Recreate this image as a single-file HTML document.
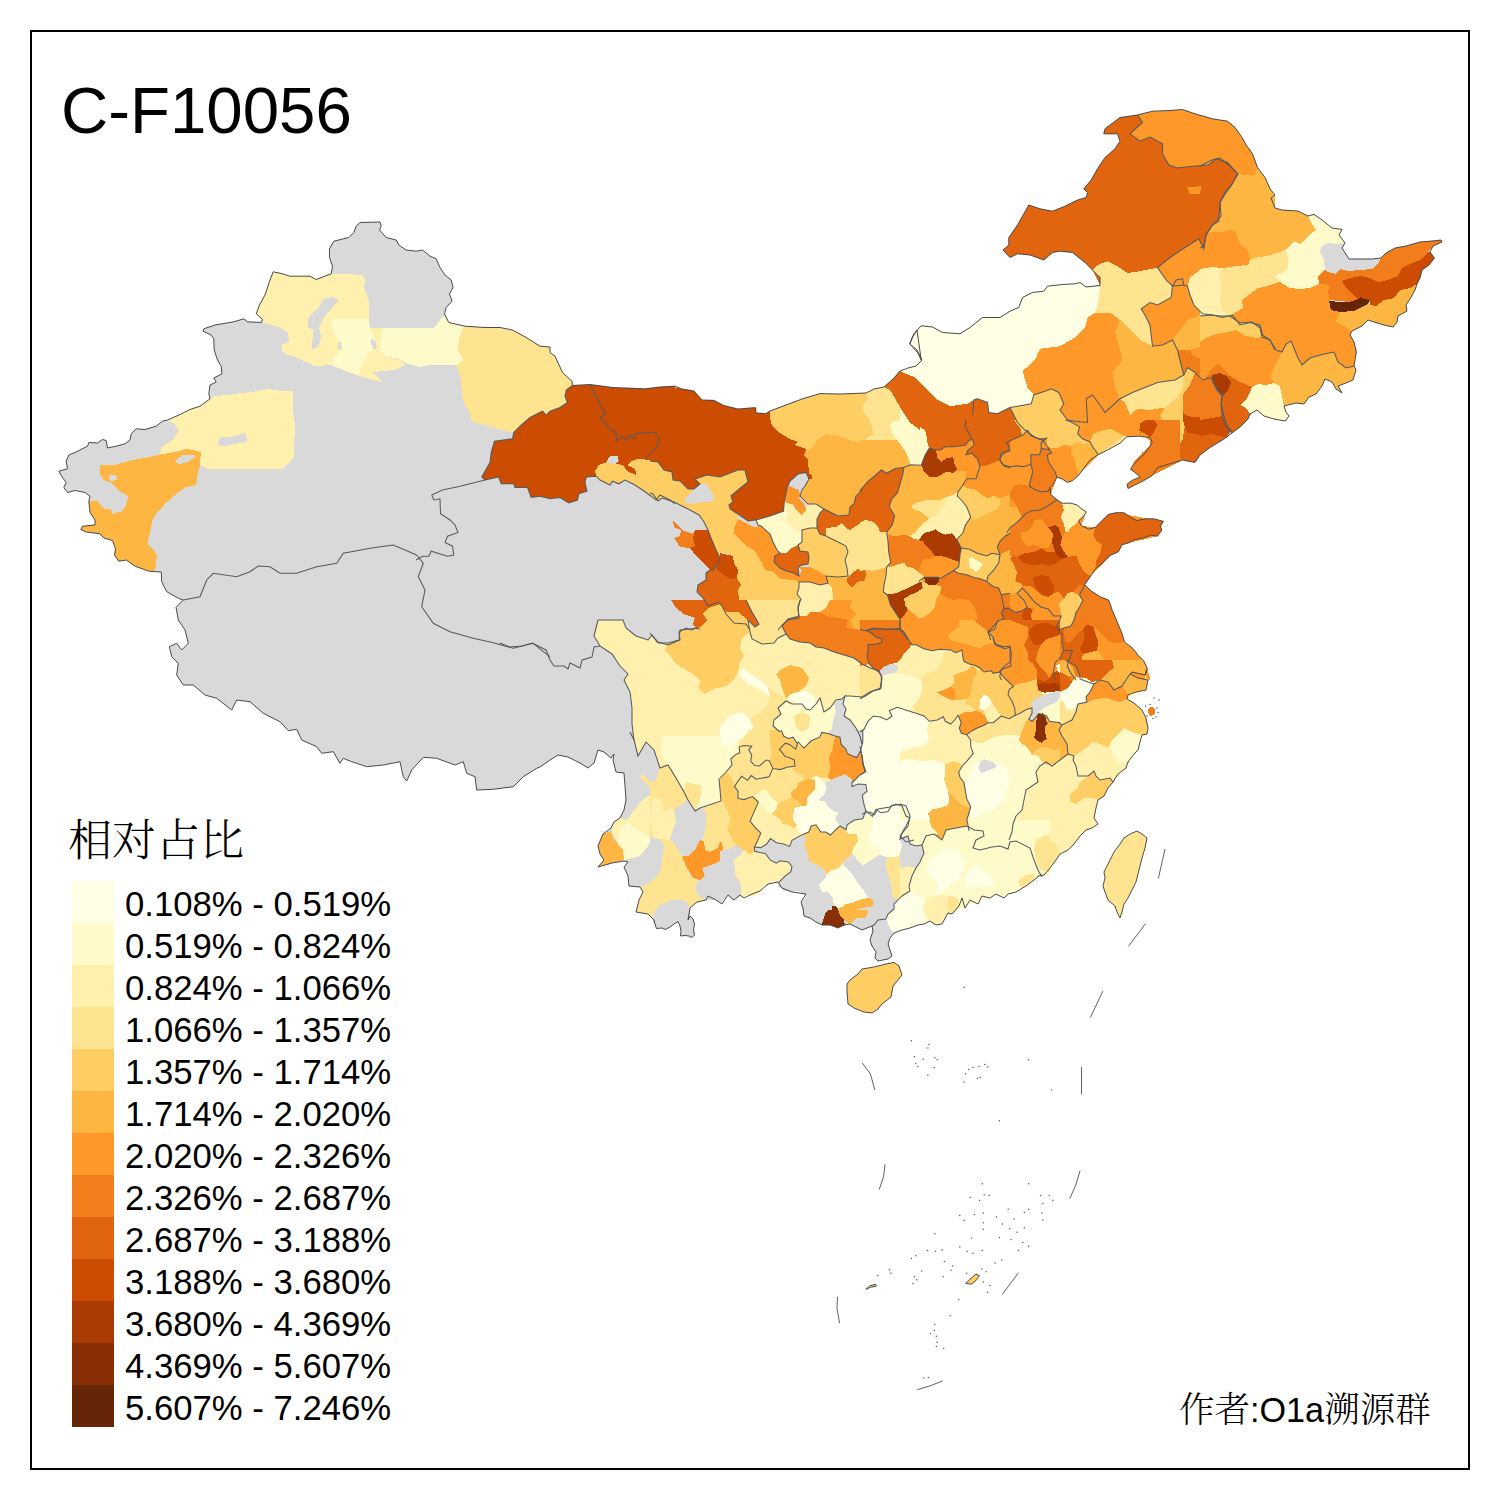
<!DOCTYPE html>
<html lang="zh-CN"><head><meta charset="utf-8"><title>C-F10056</title>
<style>
html,body{margin:0;padding:0;background:#fff;}
body{width:1500px;height:1500px;position:relative;overflow:hidden;font-family:"Liberation Sans","Noto Sans CJK SC",sans-serif;color:#000;}
#frame{position:absolute;left:30px;top:30px;width:1436px;height:1436px;border:2px solid #000;}
#title{position:absolute;left:61px;top:72.5px;font-size:65.4px;line-height:76px;white-space:nowrap;}
#lt{position:absolute;left:68px;top:812px;font-family:"Liberation Serif","Noto Serif CJK SC",serif;font-size:44px;line-height:60px;white-space:nowrap;font-weight:300;}
.sw{position:absolute;left:72px;width:42px;height:42px;}
.lb{position:absolute;left:125px;font-size:34.7px;line-height:46px;height:42px;white-space:nowrap;}
#au{position:absolute;left:1179px;top:1385px;font-size:35.5px;line-height:50px;white-space:nowrap;}
#au .l{font-size:34.2px;}
#au .c{font-family:"Liberation Serif","Noto Serif CJK SC",serif;font-weight:300;}
svg{position:absolute;left:0;top:0;}
svg polygon{stroke-linejoin:round;shape-rendering:crispEdges;}
svg polygon.o{shape-rendering:geometricPrecision;}
</style></head><body>
<svg width="1500" height="1500" viewBox="0 0 1500 1500">
<polygon points="161.2,572.0 148.8,571.2 135.0,566.2 126.2,560.0 118.8,561.2 114.5,555.0 115.5,548.8 112.5,540.5 103.8,538.0 100.0,533.8 86.2,532.0 80.8,529.5 82.5,526.2 95.0,525.0 95.0,520.0 90.0,512.5 88.8,501.2 90.0,496.2 85.0,492.5 75.0,490.5 67.5,492.5 63.8,487.5 66.2,482.5 62.5,477.5 58.8,471.2 67.5,468.8 66.2,461.2 68.8,455.0 75.0,452.5 87.5,446.2 88.8,442.5 97.5,443.0 102.5,439.5 106.2,440.5 107.5,448.0 116.2,446.2 125.0,443.8 130.0,440.0 131.2,433.8 136.2,428.8 145.0,429.5 156.2,426.2 162.5,421.2 167.5,420.0 180.0,414.5 190.0,409.5 200.0,406.2 210.0,398.8 208.8,393.8 210.0,385.0 216.2,382.0 213.8,378.0 222.0,373.8 221.2,366.2 217.5,360.0 214.2,350.0 213.8,338.8 211.2,335.0 203.0,331.2 203.8,328.8 215.0,325.0 233.8,321.8 243.8,318.8 247.5,321.8 261.2,322.5 262.5,319.5 256.2,313.8 259.5,305.0 265.0,295.0 270.0,280.0 273.2,271.8 282.5,273.8 290.0,276.2 310.0,276.2 316.2,279.5 331.2,273.8 332.5,266.2 329.5,257.5 329.5,248.8 333.8,241.2 348.8,237.5 353.8,232.5 356.2,226.2 360.0,222.5 380.0,222.0 381.2,226.2 379.5,230.0 386.2,237.5 396.2,240.0 398.8,245.0 406.2,250.0 416.2,251.2 422.5,250.0 430.0,256.2 436.2,258.8 440.0,267.5 445.0,275.0 451.2,280.0 453.0,287.5 449.5,293.8 452.0,301.2 446.2,307.5 444.5,313.8 448.8,322.5 465.0,326.2 485.0,327.5 500.0,327.5 512.5,330.0 526.2,337.5 540.0,346.2 550.0,347.0 550.0,352.5 555.0,356.2 562.5,372.5 572.0,381.2 572.5,385.5 590.0,384.5 612.5,387.5 645.0,388.8 660.0,387.0 675.0,386.2 682.0,389.0 694.0,391.0 702.0,400.0 714.0,400.4 724.0,405.6 738.0,409.0 755.6,407.6 756.0,413.0 765.6,413.6 770.0,411.0 786.0,405.0 802.0,399.0 820.0,393.6 840.0,394.0 866.0,393.0 874.0,389.0 884.0,387.0 893.0,379.0 900.0,371.0 908.0,368.0 916.0,366.0 922.0,360.0 917.0,350.0 909.6,344.0 912.0,338.0 917.0,330.0 921.2,360.0 917.5,352.5 910.0,343.8 913.8,333.8 921.2,325.8 932.5,327.0 942.5,332.5 960.0,333.8 970.0,327.5 982.5,317.5 1000.0,317.5 1010.0,311.2 1018.8,307.5 1022.5,297.5 1032.5,292.5 1043.8,291.2 1047.5,286.2 1062.5,284.5 1075.0,283.8 1080.0,282.5 1086.2,287.0 1100.0,285.5 1100.0,277.5 1092.5,270.0 1085.0,262.5 1072.5,252.5 1060.0,251.2 1052.5,252.5 1043.8,260.0 1030.0,255.0 1017.5,253.8 1010.0,257.5 1003.0,250.0 1008.8,245.0 1008.8,237.5 1017.5,225.0 1028.8,205.0 1040.0,208.8 1052.5,211.2 1065.0,206.2 1077.5,200.0 1086.2,197.5 1087.5,192.5 1083.8,188.8 1091.2,180.0 1097.5,168.8 1105.0,157.5 1115.0,148.8 1120.0,141.2 1117.5,133.8 1103.8,133.8 1105.0,128.8 1120.0,117.5 1137.5,115.0 1152.5,111.2 1170.0,110.5 1182.5,109.5 1195.0,113.8 1212.5,118.8 1227.5,121.2 1235.0,127.5 1241.2,136.2 1246.2,145.0 1252.5,153.8 1257.5,167.5 1265.0,177.5 1270.0,188.8 1275.0,195.0 1271.0,198.0 1275.0,208.0 1282.0,210.0 1298.0,211.0 1308.0,216.0 1314.0,214.4 1322.0,220.0 1332.0,228.0 1342.0,229.4 1339.0,235.0 1345.0,243.0 1342.0,248.0 1349.0,259.0 1360.0,259.0 1372.0,259.0 1381.0,258.0 1386.0,253.0 1395.0,248.0 1406.0,246.0 1420.0,242.0 1432.0,241.0 1441.0,240.0 1442.0,242.0 1433.0,246.0 1430.0,252.0 1434.4,258.0 1429.0,265.0 1422.0,270.0 1420.0,278.0 1417.0,284.0 1415.0,290.0 1410.0,299.0 1406.0,305.0 1407.0,311.0 1398.0,316.0 1397.0,322.0 1393.0,327.0 1384.0,325.0 1374.0,322.0 1368.0,320.0 1362.0,326.0 1352.0,331.0 1350.0,335.0 1354.0,342.0 1356.4,352.0 1354.0,366.0 1356.0,370.0 1353.0,380.0 1346.0,383.0 1338.0,386.0 1342.0,393.0 1336.0,389.0 1332.0,382.0 1325.0,379.0 1322.0,386.0 1316.0,394.0 1309.0,397.0 1304.0,404.0 1296.0,403.0 1284.0,406.0 1286.0,412.0 1289.0,416.0 1285.0,421.0 1274.0,419.0 1264.0,416.0 1257.0,410.0 1250.0,414.0 1248.0,419.0 1240.0,427.0 1232.0,433.0 1222.5,440.0 1210.0,447.5 1200.0,455.0 1195.0,462.5 1182.5,460.0 1170.0,463.8 1157.5,467.5 1152.3,475.5 1143.6,480.7 1134.9,485.0 1128.0,488.5 1127.1,484.1 1133.2,479.8 1140.1,477.2 1130.6,468.5 1134.9,463.3 1145.3,452.9 1152.3,442.5 1150.0,437.5 1138.8,436.2 1126.8,436.8 1120.0,443.2 1107.5,450.0 1097.5,455.0 1090.0,460.0 1082.5,470.0 1078.8,475.0 1072.5,480.7 1067.3,482.4 1062.1,478.9 1056.9,477.2 1053.5,484.1 1050.0,487.6 1050.9,494.5 1056.9,499.7 1062.1,503.2 1070.8,503.2 1076.9,504.9 1082.1,509.3 1086.4,511.9 1082.9,517.1 1078.6,520.5 1081.2,525.7 1089.0,529.2 1095.1,527.5 1100.3,522.3 1108.1,514.5 1115.9,512.7 1123.7,512.7 1130.6,517.1 1136.7,520.5 1145.3,518.8 1154.0,518.8 1163.5,521.4 1160.1,525.7 1161.8,530.1 1157.5,536.1 1150.5,535.3 1143.6,537.9 1134.9,539.6 1128.0,543.1 1121.9,544.8 1118.5,551.7 1110.7,555.2 1106.3,558.7 1102.0,563.9 1095.1,569.1 1090.7,576.0 1084.7,584.7 1090.7,590.7 1100.3,596.8 1108.9,600.3 1112.4,610.7 1117.6,622.8 1121.9,633.2 1124.5,641.9 1133.2,648.8 1138.4,655.7 1143.6,660.9 1147.1,667.9 1145.3,674.8 1147.0,669.0 1145.0,675.0 1132.0,672.0 1130.0,674.0 1138.0,678.0 1148.0,680.0 1146.0,690.0 1136.0,692.0 1128.0,695.0 1127.0,699.0 1134.0,703.0 1142.0,710.0 1146.0,718.0 1148.0,728.0 1147.0,734.0 1142.0,735.0 1140.0,742.0 1138.0,750.0 1134.0,754.0 1128.0,762.0 1126.0,768.0 1118.0,774.0 1113.0,782.0 1108.0,788.0 1104.0,796.0 1098.0,800.0 1096.0,808.0 1094.0,818.0 1098.0,824.0 1092.0,828.0 1086.0,830.0 1080.0,836.0 1074.0,844.0 1068.0,850.0 1060.0,854.0 1056.0,860.0 1050.0,868.0 1044.0,875.0 1038.0,876.0 1038.0,877.0 1034.0,880.0 1026.0,886.0 1016.0,892.0 1008.0,894.0 1004.0,898.0 996.0,894.0 990.0,898.0 982.0,896.0 978.0,904.0 970.0,900.0 965.0,908.0 962.0,898.0 959.0,906.0 952.0,914.0 948.0,913.0 942.0,924.0 936.0,925.0 930.0,921.0 924.0,924.0 918.0,925.0 910.0,928.0 902.0,930.0 894.0,933.0 890.0,938.0 888.0,944.0 890.0,950.0 892.0,956.0 888.0,959.0 878.0,961.0 875.0,958.0 876.0,952.0 872.0,946.0 870.0,940.0 873.0,931.0 872.0,926.0 862.0,930.0 858.0,928.0 850.0,924.0 844.0,925.0 838.0,928.0 830.0,925.0 822.0,925.0 816.0,922.0 810.0,918.0 804.0,916.0 803.0,908.0 801.0,902.0 806.0,894.0 792.0,892.0 782.0,888.0 778.0,882.0 768.0,884.0 760.0,891.0 752.0,894.0 744.0,898.0 740.0,895.0 734.0,900.0 728.0,895.0 722.0,904.0 716.0,900.0 708.0,896.0 706.0,900.0 697.0,902.0 690.0,908.0 688.0,920.0 690.0,916.0 693.0,919.0 694.5,924.0 693.5,930.0 694.5,935.0 692.0,937.5 689.0,936.0 685.0,935.5 680.5,936.0 681.0,931.0 680.0,926.0 678.0,921.5 674.0,924.0 670.0,927.0 665.5,929.5 662.0,928.0 656.5,928.5 655.0,924.0 654.0,920.0 648.0,914.0 636.0,912.0 639.0,900.0 643.0,892.0 640.0,887.0 629.0,886.0 628.0,876.0 624.0,867.0 628.0,862.0 624.0,861.0 612.0,863.0 598.0,867.0 604.0,860.0 600.0,854.0 598.0,846.0 603.0,834.0 611.0,828.0 614.0,822.0 620.0,818.0 624.0,810.0 626.0,800.0 625.0,786.0 624.0,773.0 616.0,772.0 613.0,760.0 614.0,754.0 611.0,758.0 604.0,752.0 598.0,750.0 594.0,763.0 588.0,768.0 580.0,763.0 568.0,757.0 558.0,755.0 550.0,760.0 540.0,767.0 536.7,768.3 523.3,776.7 513.3,786.7 493.3,789.3 476.7,790.0 475.0,776.7 466.7,773.3 463.3,761.7 455.0,765.0 436.7,758.3 423.3,757.3 411.7,770.0 406.7,781.0 403.3,776.7 400.0,761.7 383.3,765.0 366.7,766.7 351.7,761.7 343.3,758.3 340.0,763.3 333.3,751.7 321.7,753.3 316.7,746.7 301.7,740.0 296.7,729.3 288.3,730.7 280.0,721.7 263.3,713.3 250.0,701.7 236.7,700.0 231.7,710.0 216.7,698.3 205.0,695.0 193.3,685.0 183.3,685.0 176.7,675.0 178.3,663.3 171.7,656.7 169.3,646.7 176.7,643.3 181.7,650.0 188.3,643.3 185.0,630.0 178.3,620.0 176.0,607.3 183.3,600.0 178.3,598.3 166.7,591.7 161.7,581.7 161.3,572.0" fill="#D9D9D9" class="o"/>
<polygon points="273.2,271.8 282.5,273.8 290.0,276.2 310.0,276.2 316.2,279.5 331.2,274.2 348.8,274.2 362.5,275.0 365.5,280.0 363.8,287.5 368.8,300.0 368.8,328.2 383.8,328.2 380.0,340.0 380.0,350.0 385.0,356.2 400.0,360.0 405.0,365.0 395.0,370.0 372.5,372.0 382.5,382.5 360.0,376.2 350.0,372.5 331.2,365.0 315.0,366.2 300.0,358.8 285.0,353.8 281.2,350.0 282.5,345.0 289.5,341.2 287.5,332.5 280.0,327.5 262.5,322.5 262.5,319.5 256.2,313.8 259.5,305.0 265.0,295.0 270.0,280.0" fill="#FFF0AE"/>
<polygon points="331.2,319.2 368.8,319.2 370.0,328.8 375.0,340.0 372.5,350.0 367.5,356.2 361.2,365.0 358.8,375.0 350.0,372.5 331.2,365.0 333.8,357.5 341.2,350.0 337.5,340.0 332.5,330.0" fill="#FFFACA"/>
<polygon points="323.8,298.8 332.5,297.0 338.8,300.0 332.5,307.5 323.8,317.5 318.8,327.5 321.2,336.2 318.8,346.2 312.0,349.5 312.5,340.0 313.8,330.0 307.5,327.5 307.5,320.0 311.2,313.8 318.8,307.5 322.5,300.0" fill="#D9D9D9"/>
<polygon points="337.5,342.5 341.2,342.0 341.8,349.5 338.0,348.8" fill="#D9D9D9"/>
<polygon points="371.2,338.8 375.0,340.0 377.0,347.5 373.8,350.0 371.2,343.8" fill="#D9D9D9"/>
<polygon points="210.0,398.8 215.0,396.2 230.0,394.5 257.5,391.2 267.5,388.8 283.8,391.2 292.5,391.2 292.5,407.5 295.0,425.0 293.8,457.5 282.5,468.8 207.5,468.8 200.0,465.0 200.8,452.5 193.8,450.0 186.2,449.0 175.0,452.0 160.0,454.5 161.2,447.5 172.5,440.0 178.8,431.2 175.0,423.8 167.5,420.0 180.0,414.5 190.0,409.5 200.0,406.2" fill="#FFF0AE"/>
<polygon points="217.5,441.2 221.2,437.5 235.0,436.2 245.0,432.5 247.5,442.0 235.0,443.8 225.0,446.2 218.0,445.0" fill="#D9D9D9"/>
<polygon points="100.0,464.5 115.0,465.0 132.5,460.0 150.0,457.0 160.0,454.5 175.0,452.0 186.2,449.0 193.8,450.0 200.8,452.5 200.0,465.0 197.5,475.0 196.2,485.0 185.0,487.5 175.0,495.0 165.0,503.8 157.5,512.5 152.5,520.0 150.0,532.5 147.5,543.8 153.8,550.0 157.0,555.0 155.0,571.2 148.8,571.2 135.0,566.2 126.2,560.0 118.8,561.2 114.5,555.0 115.5,548.8 112.5,540.5 103.8,538.0 100.0,533.8 86.2,532.0 80.8,529.5 82.5,526.2 95.0,525.0 95.0,520.0 90.0,512.5 88.8,501.2 97.5,501.2 103.8,508.8 111.2,509.5 112.5,513.8 122.5,511.2 126.2,505.0 128.0,496.2 120.0,491.2 113.8,485.0 110.0,482.0 103.8,480.0 100.0,473.8" fill="#FEB642"/>
<polygon points="175.0,461.2 182.5,455.0 193.8,454.5 195.0,457.5 186.2,462.5 178.8,464.5" fill="#D9D9D9"/>
<polygon points="108.8,475.0 116.2,474.5 117.5,480.0 110.0,481.2" fill="#D9D9D9"/>
<polygon points="383.0,328.2 433.8,328.2 440.0,320.0 443.8,316.2 448.8,322.5 463.8,326.2 458.8,340.0 458.0,350.0 463.8,360.0 456.2,365.5 430.0,365.0 420.0,367.0 407.5,363.8 398.8,358.8 385.0,356.2 380.0,350.0 380.0,340.0" fill="#FFFACA"/>
<polygon points="463.8,326.2 485.0,327.5 500.0,327.5 512.5,330.0 526.2,337.5 540.0,346.2 550.0,347.0 550.0,352.5 555.0,356.2 562.5,372.5 572.0,381.2 572.5,385.5 566.2,390.0 565.0,396.2 567.5,402.5 560.0,407.5 550.0,411.2 546.2,415.0 542.5,411.2 530.0,417.5 520.0,426.2 513.8,432.5 497.5,428.8 480.0,423.8 471.2,421.2 470.0,412.5 465.0,405.0 462.5,397.5 461.2,385.0 460.0,375.0 456.2,365.5 463.8,360.0 458.0,350.0 458.8,340.0" fill="#FEE391"/>
<polygon points="572.5,385.5 590.0,384.5 612.5,387.5 645.0,388.8 660.0,387.0 675.0,386.2 675.0,472.5 667.5,471.2 660.0,465.0 650.0,460.0 637.5,458.8 631.2,461.2 627.5,465.0 635.0,468.8 636.2,475.0 627.5,471.2 622.5,465.0 616.2,463.8 617.5,456.2 610.0,456.2 606.2,462.5 598.8,465.0 595.0,471.2 596.2,476.2 586.2,477.0 585.0,482.5 587.0,491.2 578.8,493.8 577.5,500.0 568.8,503.0 560.0,497.5 550.0,498.8 540.0,496.2 531.2,497.5 527.5,487.5 515.0,487.5 513.8,483.8 501.2,483.8 498.8,477.0 485.0,480.0 481.8,477.0 490.0,462.5 491.2,452.5 494.5,441.2 512.5,438.8 513.8,432.5 520.0,426.2 530.0,417.5 542.5,411.2 546.2,415.0 550.0,411.2 560.0,407.5 567.5,402.5 565.0,396.2 566.2,390.0" fill="#CC4C02"/>
<polygon points="595.0,471.2 598.8,465.0 606.2,462.5 616.2,463.8 622.5,465.0 627.5,471.2 636.2,475.0 635.0,468.8 627.5,465.0 631.2,461.2 637.5,458.8 650.0,460.0 660.0,465.0 667.5,471.2 675.0,472.5 675.0,503.8 670.0,500.0 660.0,495.0 656.2,500.0 651.2,496.2 642.5,490.0 635.0,485.0 625.0,480.0 618.8,483.8 612.5,481.2 610.0,485.0 600.0,480.0 596.2,476.2" fill="#FECE65"/>
<polygon points="608.8,457.0 617.5,456.2 618.8,461.2 615.0,463.8 607.5,462.5" fill="#D9D9D9"/>
<polygon points="650.0,388.4 662.0,387.4 675.0,387.4 682.0,389.0 694.0,391.0 702.0,400.0 714.0,400.4 724.0,405.6 738.0,409.0 755.6,407.6 756.0,413.0 765.6,413.6 770.0,411.0 770.0,418.0 772.0,426.0 780.0,433.0 790.0,439.0 798.0,442.0 794.0,445.0 804.0,448.0 806.0,450.0 804.0,455.0 808.0,460.0 809.0,474.0 812.4,475.0 812.0,479.0 809.0,479.0 806.0,472.4 798.0,474.0 790.0,481.0 787.0,488.0 786.0,494.0 784.4,500.0 783.6,511.0 770.0,516.0 756.0,520.0 748.0,521.0 738.0,514.0 730.0,509.0 729.0,505.0 733.0,502.0 731.0,496.0 738.0,490.0 748.0,482.0 745.0,470.0 738.0,470.0 720.0,477.0 707.0,475.0 695.0,479.0 700.0,484.0 694.0,489.0 688.0,489.0 680.0,481.0 673.0,480.0 672.0,472.0 664.0,470.0 658.0,462.0 650.0,461.0" fill="#CC4C02"/>
<polygon points="650.0,461.0 658.0,462.0 664.0,470.0 672.0,472.0 673.0,480.0 680.0,481.0 688.0,489.0 694.0,489.0 700.0,484.0 695.0,479.0 707.0,475.0 720.0,477.0 738.0,470.0 745.0,470.0 748.0,482.0 738.0,490.0 731.0,496.0 733.0,502.0 729.0,505.0 730.0,509.0 738.0,514.0 738.0,519.0 734.0,528.0 734.0,534.0 740.0,540.0 748.0,547.0 754.0,550.0 762.0,563.0 765.0,570.0 774.0,572.0 780.0,579.0 794.0,580.0 799.0,582.0 799.0,588.0 797.0,594.0 801.0,599.0 798.0,606.0 799.0,618.0 788.0,620.0 782.0,625.0 778.0,630.0 759.0,630.0 758.0,624.0 752.0,618.0 746.0,610.0 739.0,600.0 738.0,590.0 741.0,585.0 737.0,578.0 738.0,570.0 734.0,563.0 733.0,556.0 722.0,552.0 720.0,558.0 716.0,550.0 711.0,538.0 708.0,530.0 704.0,522.0 699.0,515.0 690.0,510.0 682.0,506.0 674.0,502.0 662.0,498.0 658.0,501.0 653.0,494.0 650.0,493.0" fill="#FECE65"/>
<polygon points="687.0,496.0 693.0,490.0 699.0,484.0 707.0,484.0 710.0,490.0 714.0,496.0 713.0,502.0 700.0,502.4 690.0,504.0 684.0,502.0" fill="#D9D9D9"/>
<polygon points="673.0,521.0 682.0,530.0 693.0,534.0 695.0,530.0 693.0,538.0 695.0,546.0 690.0,548.0 680.0,547.0 674.0,538.0 680.0,536.0 681.0,530.0 674.0,527.0" fill="#F27E1B"/>
<polygon points="695.0,530.0 708.0,530.0 711.0,538.0 716.0,550.0 720.0,558.0 718.0,563.0 714.0,570.0 710.0,570.0 704.0,564.0 696.0,556.0 690.0,548.0 695.0,546.0 693.0,538.0" fill="#CC4C02"/>
<polygon points="720.0,553.0 733.0,556.0 734.0,563.0 738.0,570.0 737.0,578.0 730.0,579.0 724.0,575.0 716.0,569.0 718.0,563.0 720.0,558.0" fill="#CC4C02"/>
<polygon points="710.0,570.0 716.0,569.0 724.0,575.0 730.0,579.0 737.0,578.0 741.0,585.0 738.0,590.0 739.0,600.0 746.0,610.0 752.0,618.0 758.0,624.0 759.0,630.0 750.0,630.0 746.0,624.0 734.0,623.0 726.0,614.0 722.0,606.0 718.0,602.0 708.0,606.0 702.0,610.0 705.0,618.0 710.0,622.0 702.0,625.0 698.0,630.0 690.0,630.0 693.0,622.0 686.0,618.0 680.0,614.0 671.0,604.0 672.0,600.0 682.0,601.0 696.0,603.0 704.0,599.0 697.0,592.0 698.0,585.0 706.0,580.0 706.0,573.0" fill="#E1640E"/>
<polygon points="708.0,606.0 718.0,602.0 722.0,606.0 726.0,614.0 734.0,623.0 746.0,624.0 750.0,630.0 698.0,630.0 702.0,625.0 710.0,622.0 705.0,618.0 702.0,610.0" fill="#FECE65"/>
<polygon points="738.0,519.0 744.0,522.0 754.0,527.0 761.0,526.0 770.0,534.0 773.0,542.0 777.0,550.0 780.0,553.0 775.0,556.0 774.0,562.0 780.0,568.0 786.0,571.0 794.0,573.0 799.0,576.0 802.0,570.0 798.0,567.0 810.0,567.0 820.0,572.0 826.0,576.0 828.0,583.0 820.0,585.0 810.0,582.0 799.0,582.0 794.0,580.0 780.0,579.0 774.0,572.0 765.0,570.0 762.0,563.0 754.0,550.0 748.0,547.0 740.0,540.0 734.0,534.0 734.0,528.0" fill="#FE9929"/>
<polygon points="756.0,520.0 770.0,516.0 783.6,511.0 784.4,502.0 790.0,504.0 788.0,514.0 786.0,522.0 794.0,528.0 799.0,534.0 802.0,530.0 802.0,542.0 798.0,545.0 790.0,549.0 786.0,553.0 780.0,553.0 777.0,550.0 773.0,542.0 770.0,534.0 761.0,526.0 758.0,525.0" fill="#FFFACA"/>
<polygon points="784.4,502.0 790.0,504.0 796.0,510.0 802.0,515.0 806.0,510.0 808.0,504.0 816.0,504.0 824.0,509.0 820.0,513.0 817.0,519.0 817.0,528.0 810.0,528.0 802.0,530.0 799.0,534.0 794.0,528.0 786.0,522.0 788.0,514.0" fill="#FFF0AE"/>
<polygon points="790.0,486.0 794.0,488.0 799.0,490.0 800.0,496.0 799.0,499.0 804.0,503.0 806.0,510.0 802.0,515.0 796.0,510.0 793.0,504.0 790.0,504.0 784.4,502.0 786.0,494.0 787.0,488.0" fill="#FE9929"/>
<polygon points="790.0,481.0 798.0,474.0 806.0,472.4 809.0,479.0 805.0,486.0 802.0,490.0 799.0,490.0 794.0,488.0 790.0,486.0" fill="#D9D9D9"/>
<polygon points="774.0,556.0 780.0,553.0 786.0,553.0 790.0,549.0 798.0,545.0 800.0,551.0 808.0,552.0 809.0,558.0 808.0,564.0 802.0,565.0 798.0,567.0 799.0,576.0 794.0,573.0 786.0,571.0 780.0,568.0 774.0,562.0" fill="#E1640E"/>
<polygon points="770.0,411.0 786.0,405.0 802.0,399.0 820.0,393.6 840.0,394.0 866.0,393.0 867.0,399.0 862.0,408.0 865.0,414.0 870.0,420.0 872.0,428.0 874.0,434.0 865.0,439.0 866.0,443.0 852.0,441.0 840.0,436.0 826.0,434.0 818.0,439.0 814.0,445.0 810.0,450.0 806.0,450.0 804.0,448.0 794.0,445.0 798.0,442.0 790.0,439.0 780.0,433.0 772.0,426.0 770.0,418.0" fill="#FECE65"/>
<polygon points="810.0,450.0 814.0,445.0 818.0,439.0 826.0,434.0 840.0,436.0 852.0,441.0 866.0,443.0 882.0,443.0 890.0,448.0 900.0,449.0 908.0,454.0 910.0,464.0 904.0,468.0 899.0,468.0 890.0,472.0 882.0,470.0 876.0,475.0 872.0,482.0 862.0,490.0 856.0,496.0 854.0,504.0 850.0,507.0 849.0,515.0 838.0,516.0 830.0,512.0 824.0,509.0 816.0,504.0 808.0,504.0 802.0,498.0 800.0,496.0 805.0,486.0 809.0,479.0 812.0,479.0 812.4,475.0 809.0,474.0 808.0,460.0 804.0,455.0 806.0,450.0" fill="#FEB642"/>
<polygon points="866.0,393.0 874.0,389.0 884.0,387.0 890.0,390.0 895.0,398.0 900.0,407.0 908.0,414.0 910.0,421.0 902.0,420.0 893.0,421.0 890.0,425.0 893.0,434.0 898.0,442.0 900.0,449.0 890.0,448.0 882.0,443.0 866.0,443.0 865.0,439.0 874.0,434.0 872.0,428.0 870.0,420.0 865.0,414.0 862.0,408.0 867.0,399.0" fill="#FEE391"/>
<polygon points="893.0,421.0 902.0,420.0 910.0,421.0 918.0,422.0 924.0,428.0 927.0,434.0 925.0,442.0 930.0,448.0 924.0,454.0 922.0,465.0 911.0,464.0 908.0,454.0 900.0,449.0 898.0,442.0 893.0,434.0 890.0,425.0" fill="#FFFACA"/>
<polygon points="884.0,387.0 893.0,379.0 900.0,371.0 904.0,370.0 910.0,374.0 918.0,380.0 926.0,390.0 938.0,398.0 946.0,406.0 950.0,404.0 950.0,446.0 942.0,448.0 936.0,450.0 930.0,448.0 925.0,442.0 927.0,434.0 924.0,428.0 918.0,422.0 910.0,421.0 908.0,414.0 900.0,407.0 895.0,398.0 890.0,390.0" fill="#E1640E"/>
<polygon points="900.0,371.0 908.0,368.0 916.0,366.0 922.0,360.0 917.0,350.0 909.6,344.0 912.0,338.0 917.0,330.0 950.0,330.0 950.0,404.0 946.0,406.0 938.0,398.0 926.0,390.0 918.0,380.0 910.0,374.0 904.0,370.0" fill="#FFFFE5"/>
<polygon points="882.0,470.0 890.0,472.0 899.0,468.0 904.0,468.0 905.0,474.0 900.0,482.0 900.0,490.0 895.0,496.0 891.0,502.0 893.0,510.0 895.0,518.0 892.0,522.0 887.0,530.0 883.0,532.0 878.0,528.0 870.0,520.0 862.0,522.0 850.0,530.0 846.0,528.0 842.0,523.0 836.0,527.0 826.0,528.0 826.0,536.0 820.0,534.0 817.0,528.0 817.0,519.0 820.0,513.0 824.0,509.0 830.0,512.0 838.0,516.0 849.0,515.0 850.0,507.0 854.0,504.0 856.0,496.0 862.0,490.0 872.0,482.0 876.0,475.0" fill="#E1640E"/>
<polygon points="826.0,528.0 836.0,527.0 842.0,523.0 846.0,528.0 850.0,530.0 862.0,522.0 870.0,520.0 878.0,528.0 883.0,532.0 887.0,530.0 888.0,540.0 889.0,550.0 890.0,562.0 886.0,566.0 876.0,570.0 866.0,572.0 862.0,569.0 858.0,569.0 848.0,576.0 847.0,568.0 845.0,560.0 848.0,552.0 846.0,546.0 838.0,542.0 830.0,538.0 826.0,536.0" fill="#FEE391"/>
<polygon points="802.0,530.0 810.0,528.0 817.0,528.0 820.0,534.0 826.0,536.0 830.0,538.0 838.0,542.0 846.0,546.0 848.0,552.0 845.0,560.0 847.0,568.0 848.0,576.0 838.0,577.0 826.0,576.0 820.0,572.0 810.0,567.0 808.0,564.0 809.0,558.0 808.0,552.0 800.0,551.0 798.0,545.0 802.0,542.0" fill="#FECE65"/>
<polygon points="799.0,582.0 810.0,582.0 820.0,585.0 828.0,583.0 832.0,588.0 833.0,598.0 831.0,608.0 826.0,614.0 820.0,618.0 810.0,614.0 799.0,618.0 798.0,606.0 801.0,599.0 797.0,594.0 799.0,588.0" fill="#FFF0AE"/>
<polygon points="826.0,576.0 838.0,577.0 848.0,576.0 847.0,583.0 852.0,587.0 858.0,582.0 863.0,578.0 865.0,572.0 876.0,570.0 886.0,566.0 884.0,580.0 883.0,592.0 887.0,594.0 892.0,610.0 899.0,619.0 900.0,630.0 782.0,630.0 788.0,620.0 799.0,618.0 810.0,614.0 820.0,618.0 826.0,614.0 831.0,608.0 833.0,598.0 832.0,588.0 828.0,583.0" fill="#FEB642"/>
<polygon points="847.0,578.0 852.0,573.0 858.0,569.0 865.0,572.0 863.0,578.0 858.0,582.0 852.0,587.0 847.0,583.0" fill="#E1640E"/>
<polygon points="911.0,464.0 922.0,465.0 926.0,474.0 936.0,478.0 950.0,474.0 950.0,496.0 938.0,496.0 926.0,500.0 914.0,504.0 911.0,510.0 918.0,514.0 929.0,516.0 927.0,522.0 918.0,530.0 910.0,536.0 890.0,535.0 888.0,530.0 892.0,522.0 895.0,518.0 893.0,510.0 891.0,502.0 895.0,496.0 900.0,490.0 900.0,482.0 905.0,474.0 904.0,468.0 910.0,464.0" fill="#FEB642"/>
<polygon points="930.0,448.0 936.0,450.0 938.0,458.0 950.0,454.0 950.0,474.0 936.0,478.0 926.0,474.0 922.0,465.0 924.0,454.0" fill="#AA3C03"/>
<polygon points="936.0,450.0 942.0,448.0 950.0,446.0 950.0,454.0 938.0,458.0" fill="#FE9929"/>
<polygon points="914.0,504.0 926.0,500.0 938.0,496.0 950.0,496.0 950.0,530.0 938.0,528.0 930.0,532.0 918.0,538.0 910.0,536.0 918.0,530.0 927.0,522.0 929.0,516.0 918.0,514.0 911.0,510.0" fill="#FFF0AE"/>
<polygon points="890.0,535.0 910.0,536.0 918.0,538.0 924.0,538.0 930.0,550.0 936.0,556.0 930.0,560.0 922.0,566.0 916.0,568.0 908.0,566.0 900.0,562.0 890.0,562.0 889.0,550.0 888.0,540.0" fill="#F27E1B"/>
<polygon points="924.0,538.0 930.0,532.0 938.0,528.0 950.0,530.0 950.0,560.0 944.0,558.0 936.0,556.0 930.0,550.0" fill="#AA3C03"/>
<polygon points="936.0,556.0 944.0,558.0 950.0,560.0 950.0,574.0 938.0,577.0 926.0,578.0 924.0,572.0 922.0,566.0 930.0,560.0" fill="#FE9929"/>
<polygon points="890.0,562.0 900.0,562.0 908.0,566.0 916.0,568.0 922.0,566.0 924.0,572.0 926.0,578.0 920.0,583.0 910.0,586.0 900.0,590.0 887.0,594.0 883.0,592.0 884.0,580.0 886.0,566.0" fill="#FEE391"/>
<polygon points="925.0,578.0 938.0,577.0 939.0,582.0 934.0,585.0 926.0,583.0" fill="#882F05"/>
<polygon points="887.0,594.0 900.0,590.0 910.0,586.0 920.0,583.0 922.0,589.0 914.0,594.0 904.0,598.0 908.0,606.0 905.0,614.0 899.0,619.0 892.0,610.0" fill="#AA3C03"/>
<polygon points="904.0,598.0 914.0,594.0 922.0,589.0 920.0,583.0 926.0,583.0 934.0,585.0 939.0,582.0 944.0,588.0 942.0,598.0 946.0,610.0 950.0,614.0 950.0,630.0 900.0,630.0 899.0,619.0 905.0,614.0 908.0,606.0" fill="#FECE65"/>
<polygon points="900.0,370.0 912.5,365.0 921.2,360.0 917.5,352.5 910.0,343.8 913.8,333.8 921.2,325.8 932.5,327.0 942.5,332.5 960.0,333.8 970.0,327.5 982.5,317.5 1000.0,317.5 1010.0,311.2 1018.8,307.5 1022.5,297.5 1032.5,292.5 1043.8,291.2 1047.5,286.2 1062.5,284.5 1075.0,283.8 1080.0,282.5 1086.2,287.0 1100.0,285.5 1098.8,300.0 1095.0,312.5 1087.5,317.5 1085.0,327.5 1075.0,337.5 1060.0,346.2 1040.0,348.8 1035.0,360.0 1022.5,371.2 1027.5,387.5 1033.8,395.0 1031.2,403.8 1017.5,406.2 1010.0,407.5 997.5,413.8 988.8,412.5 987.5,402.5 977.5,398.8 967.5,403.8 950.0,406.2 937.5,400.0 925.0,387.5 915.0,377.5 900.0,371.2" fill="#FFFFE5"/>
<polygon points="1100.0,285.5 1100.0,277.5 1092.5,270.0 1085.0,262.5 1072.5,252.5 1060.0,251.2 1052.5,252.5 1043.8,260.0 1030.0,255.0 1017.5,253.8 1010.0,257.5 1003.0,250.0 1008.8,245.0 1008.8,237.5 1017.5,225.0 1028.8,205.0 1040.0,208.8 1052.5,211.2 1065.0,206.2 1077.5,200.0 1086.2,197.5 1087.5,192.5 1083.8,188.8 1091.2,180.0 1097.5,168.8 1105.0,157.5 1115.0,148.8 1120.0,141.2 1117.5,133.8 1103.8,133.8 1105.0,128.8 1120.0,117.5 1137.5,115.0 1142.5,122.5 1130.0,133.8 1140.0,141.2 1150.0,137.0 1162.5,143.8 1162.5,153.8 1168.8,165.0 1177.5,168.0 1192.5,166.2 1208.8,165.0 1216.2,158.8 1227.5,162.5 1237.5,173.8 1232.5,183.8 1226.2,192.5 1220.0,202.5 1218.8,221.2 1212.5,225.0 1206.2,235.0 1203.8,248.8 1198.8,238.8 1185.0,247.5 1170.0,257.5 1157.5,267.5 1140.0,271.2 1127.5,273.0 1117.5,266.2 1107.5,261.2 1097.5,265.0 1092.5,270.0" fill="#E1640E"/>
<polygon points="1187.5,187.5 1201.2,186.2 1200.0,193.8 1190.0,194.5" fill="#FE9929"/>
<polygon points="1137.5,115.0 1152.5,111.2 1170.0,110.5 1182.5,109.5 1195.0,113.8 1212.5,118.8 1227.5,121.2 1235.0,127.5 1241.2,136.2 1246.2,145.0 1252.5,153.8 1257.5,167.5 1255.0,175.0 1246.2,175.0 1237.5,173.8 1227.5,162.5 1216.2,158.8 1208.8,165.0 1192.5,166.2 1177.5,168.0 1168.8,165.0 1162.5,153.8 1162.5,143.8 1150.0,137.0 1140.0,141.2 1130.0,133.8 1142.5,122.5" fill="#FE9929"/>
<polygon points="1237.5,173.8 1246.2,175.0 1255.0,175.0 1257.5,167.5 1265.0,177.5 1270.0,188.8 1275.0,195.0 1275.0,255.0 1260.0,257.5 1250.0,261.2 1247.5,250.0 1235.0,235.0 1227.5,230.0 1218.8,230.0 1212.5,225.0 1218.8,221.2 1220.0,202.5 1226.2,192.5 1232.5,183.8" fill="#FEB642"/>
<polygon points="1212.5,225.0 1218.8,230.0 1227.5,230.0 1235.0,235.0 1247.5,250.0 1250.0,261.2 1245.0,266.2 1222.5,267.5 1212.5,266.2 1200.0,270.0 1190.0,277.5 1187.5,286.2 1183.8,285.0 1182.5,278.8 1176.2,280.0 1172.5,286.2 1166.2,280.0 1157.5,267.5 1170.0,257.5 1185.0,247.5 1198.8,238.8 1203.8,248.8 1206.2,235.0" fill="#FE9929"/>
<polygon points="1190.0,277.5 1200.0,270.0 1212.5,266.2 1222.5,267.5 1245.0,266.2 1250.0,261.2 1260.0,257.5 1275.0,255.0 1275.0,285.0 1262.5,290.0 1250.0,297.5 1242.5,305.0 1232.5,315.0 1222.5,317.5 1212.5,315.0 1202.5,313.8 1193.8,305.0 1190.0,295.0 1187.5,286.2" fill="#FFF0AE"/>
<polygon points="1220.0,275.0 1237.5,272.5 1255.0,270.0 1275.0,265.0 1275.0,285.0 1262.5,290.0 1250.0,297.5 1235.0,297.5 1222.5,292.5 1217.5,285.0" fill="#FEE391"/>
<polygon points="1275.0,285.0 1275.0,350.0 1270.0,340.0 1262.5,335.0 1260.0,325.0 1250.0,322.5 1240.0,325.0 1232.5,315.0 1242.5,305.0 1250.0,297.5 1262.5,290.0" fill="#FE9929"/>
<polygon points="1100.0,285.5 1100.0,277.5 1092.5,270.0 1097.5,265.0 1107.5,261.2 1117.5,266.2 1127.5,273.0 1140.0,271.2 1157.5,267.5 1166.2,280.0 1172.5,286.2 1171.2,297.5 1157.5,305.0 1150.0,302.5 1141.2,308.8 1145.0,315.0 1150.0,325.0 1152.5,346.2 1140.0,340.0 1130.0,330.0 1120.0,320.0 1110.0,312.5 1095.0,312.5 1098.8,300.0" fill="#FEE391"/>
<polygon points="1141.2,308.8 1150.0,302.5 1157.5,305.0 1171.2,297.5 1172.5,286.2 1176.2,280.0 1182.5,278.8 1183.8,285.0 1187.5,286.2 1190.0,295.0 1193.8,305.0 1202.5,313.8 1187.5,320.0 1180.0,330.0 1172.5,340.0 1162.5,345.0 1152.5,346.2 1150.0,325.0 1145.0,315.0" fill="#FE9929"/>
<polygon points="1202.5,313.8 1212.5,315.0 1222.5,317.5 1232.5,315.0 1240.0,325.0 1225.0,330.0 1210.0,335.0 1203.8,345.0 1190.0,350.0 1177.5,350.0 1172.5,340.0 1180.0,330.0 1187.5,320.0" fill="#FEB642"/>
<polygon points="1240.0,325.0 1250.0,322.5 1260.0,325.0 1262.5,335.0 1270.0,340.0 1275.0,350.0 1275.0,385.0 1260.0,387.5 1250.0,390.0 1232.5,375.0 1222.5,365.0 1207.5,362.5 1192.5,355.0 1190.0,350.0 1203.8,345.0 1210.0,335.0 1225.0,330.0" fill="#FE9929"/>
<polygon points="1095.0,312.5 1110.0,312.5 1120.0,320.0 1115.0,332.5 1120.0,350.0 1122.5,360.0 1112.5,372.5 1115.0,387.5 1120.0,398.8 1105.0,412.5 1100.0,405.0 1092.5,395.0 1086.2,398.8 1087.5,422.5 1075.0,421.2 1067.5,420.0 1060.0,410.0 1063.8,403.8 1058.8,392.5 1051.2,388.8 1045.0,391.2 1033.8,395.0 1027.5,387.5 1022.5,371.2 1035.0,360.0 1040.0,348.8 1060.0,346.2 1075.0,337.5 1085.0,327.5 1087.5,317.5" fill="#FE9929"/>
<polygon points="1120.0,320.0 1130.0,330.0 1140.0,340.0 1152.5,346.2 1162.5,345.0 1172.5,340.0 1177.5,350.0 1181.2,365.0 1183.8,375.0 1175.0,380.0 1157.5,382.5 1145.0,387.5 1132.5,392.5 1120.0,398.8 1115.0,387.5 1112.5,372.5 1122.5,360.0 1120.0,350.0 1115.0,332.5" fill="#FEB642"/>
<polygon points="1177.5,350.0 1190.0,350.0 1192.5,355.0 1207.5,362.5 1215.0,370.0 1210.0,377.5 1202.5,380.0 1195.0,372.5 1187.5,367.5 1183.8,375.0 1181.2,365.0" fill="#F27E1B"/>
<polygon points="1215.0,370.0 1207.5,362.5 1222.5,365.0 1232.5,375.0 1250.0,390.0 1245.0,400.0 1240.0,407.5 1245.0,420.0 1237.5,427.5 1230.0,432.5 1225.0,420.0 1221.2,405.0 1222.5,393.8 1230.0,385.0 1230.0,377.5 1221.2,372.5" fill="#F27E1B"/>
<polygon points="1212.5,375.0 1221.2,372.5 1230.0,377.5 1230.0,385.0 1222.5,393.8 1216.2,387.5 1212.5,380.0" fill="#AA3C03"/>
<polygon points="1250.0,390.0 1260.0,387.5 1275.0,385.0 1275.0,418.8 1265.0,417.5 1257.5,410.0 1250.0,413.8 1245.0,420.0 1240.0,407.5 1245.0,400.0" fill="#FFFACA"/>
<polygon points="1132.5,392.5 1145.0,387.5 1157.5,382.5 1175.0,380.0 1183.8,375.0 1182.5,387.5 1177.5,397.5 1165.0,407.5 1150.0,410.0 1137.5,408.8 1130.0,415.0 1125.0,402.5 1120.0,398.8" fill="#FEE391"/>
<polygon points="1010.0,407.5 1017.5,406.2 1031.2,403.8 1033.8,395.0 1045.0,391.2 1051.2,388.8 1058.8,392.5 1063.8,403.8 1060.0,410.0 1067.5,420.0 1075.0,421.2 1087.5,422.5 1085.0,427.5 1077.5,432.5 1085.0,442.5 1075.0,445.0 1062.5,448.8 1050.0,450.0 1042.5,440.0 1035.0,437.5 1025.0,430.0 1017.5,422.5" fill="#FECE65"/>
<polygon points="1086.2,398.8 1092.5,395.0 1100.0,405.0 1105.0,412.5 1120.0,398.8 1125.0,402.5 1130.0,415.0 1125.0,422.5 1117.5,427.5 1110.0,430.0 1100.0,435.0 1092.5,440.0 1085.0,442.5 1077.5,432.5 1085.0,427.5 1087.5,422.5" fill="#FE9929"/>
<polygon points="1092.5,440.0 1100.0,435.0 1110.0,430.0 1117.5,427.5 1125.0,422.5 1126.8,436.8 1120.0,443.2 1107.5,450.0 1097.5,455.0 1092.5,447.5" fill="#FEE391"/>
<polygon points="1062.5,448.8 1075.0,445.0 1085.0,442.5 1092.5,440.0 1092.5,447.5 1097.5,455.0 1090.0,462.5 1082.5,470.0 1078.8,475.0 1060.0,475.0 1055.0,462.5 1052.5,455.0 1050.0,450.0" fill="#FE9929"/>
<polygon points="1177.5,397.5 1182.5,387.5 1183.8,375.0 1187.5,367.5 1195.0,372.5 1190.0,385.0 1182.5,395.0 1182.5,412.5 1185.0,425.0 1182.5,440.0 1175.0,450.0 1167.5,455.0 1162.5,445.0 1157.5,435.0 1162.5,425.0 1160.0,415.0 1165.0,407.5" fill="#FECE65"/>
<polygon points="1137.5,408.8 1150.0,410.0 1165.0,407.5 1160.0,415.0 1162.5,425.0 1157.5,435.0 1152.5,432.5 1150.0,437.5 1138.8,436.2 1126.8,436.8 1125.0,422.5 1130.0,415.0" fill="#FE9929"/>
<polygon points="1137.5,422.5 1146.2,420.0 1155.0,421.2 1157.5,427.5 1152.5,432.5 1150.0,437.5 1140.0,432.5" fill="#CC4C02"/>
<polygon points="1150.0,437.5 1157.5,435.0 1162.5,445.0 1167.5,455.0 1175.0,450.0 1182.5,460.0 1170.0,463.8 1157.5,467.5 1147.5,472.5 1140.0,475.0 1130.0,470.0 1135.0,460.0 1142.5,452.5 1150.0,446.2" fill="#F27E1B"/>
<polygon points="1187.5,367.5 1195.0,372.5 1202.5,380.0 1210.0,377.5 1212.5,380.0 1216.2,387.5 1222.5,393.8 1221.2,405.0 1215.0,415.0 1200.0,417.5 1187.5,416.2 1182.5,412.5 1182.5,395.0 1190.0,385.0 1195.0,372.5" fill="#F27E1B"/>
<polygon points="1187.5,416.2 1200.0,417.5 1215.0,415.0 1221.2,405.0 1225.0,420.0 1230.0,432.5 1222.5,427.5 1210.0,430.0 1200.0,435.0 1187.5,432.5 1183.8,425.0 1182.5,412.5" fill="#CC4C02"/>
<polygon points="1183.8,425.0 1187.5,432.5 1200.0,435.0 1210.0,430.0 1222.5,427.5 1230.0,432.5 1222.5,440.0 1210.0,447.5 1200.0,455.0 1195.0,462.5 1182.5,460.0 1175.0,450.0 1182.5,440.0 1185.0,425.0" fill="#E1640E"/>
<polygon points="900.0,371.2 915.0,377.5 925.0,387.5 937.5,400.0 950.0,406.2 967.5,403.8 973.8,400.0 972.5,415.0 965.0,420.0 968.8,432.5 971.2,442.5 957.5,446.2 947.5,450.0 935.0,448.8 925.0,442.5 920.0,430.0 910.0,422.5 900.0,407.5" fill="#E1640E"/>
<polygon points="973.8,400.0 977.5,398.8 987.5,402.5 988.8,412.5 997.5,413.8 1010.0,407.5 1017.5,422.5 1025.0,430.0 1017.5,437.5 1010.0,442.5 1005.0,448.8 1000.0,457.5 995.0,465.0 982.5,470.0 975.0,462.5 967.5,455.0 971.2,442.5 968.8,432.5 965.0,420.0 972.5,415.0" fill="#E1640E"/>
<polygon points="900.0,407.5 910.0,422.5 920.0,430.0 925.0,442.5 923.8,452.5 918.8,462.5 910.0,465.0 900.0,460.0" fill="#FFFACA"/>
<polygon points="900.0,460.0 910.0,465.0 918.8,462.5 923.8,452.5 925.0,442.5 935.0,448.8 931.2,448.8 925.0,455.0 921.2,465.0 922.5,475.0 900.0,475.0" fill="#FE9929"/>
<polygon points="925.0,455.0 931.2,448.8 937.5,460.0 947.5,457.5 953.8,460.0 956.2,472.5 945.0,475.0 922.5,475.0 921.2,465.0" fill="#AA3C03"/>
<polygon points="935.0,448.8 947.5,450.0 957.5,446.2 971.2,442.5 967.5,455.0 975.0,462.5 982.5,470.0 980.0,475.0 956.2,475.0 953.8,460.0 947.5,457.5 937.5,460.0 931.2,448.8" fill="#F27E1B"/>
<polygon points="1005.0,448.8 1010.0,442.5 1017.5,437.5 1025.0,430.0 1035.0,437.5 1042.5,440.0 1050.0,450.0 1052.5,455.0 1055.0,462.5 1050.0,475.0 980.0,475.0 982.5,470.0 995.0,465.0 1000.0,457.5" fill="#FE9929"/>
<polygon points="1238.0,174.0 1250.0,176.0 1258.0,174.0 1265.0,177.4 1270.0,188.8 1275.0,195.0 1271.0,198.0 1275.0,208.0 1282.0,210.0 1298.0,211.0 1308.0,216.0 1312.0,224.0 1316.0,230.0 1310.0,234.0 1304.0,240.0 1300.0,244.0 1294.0,241.0 1288.0,248.0 1280.0,252.0 1268.0,256.0 1258.0,257.0 1250.0,260.0 1248.0,250.0 1240.0,244.0 1236.0,232.0 1230.0,230.0 1222.0,232.0 1214.0,232.0 1206.0,234.0 1212.0,226.0 1221.0,216.0 1220.0,202.0 1224.0,194.0 1232.0,184.0" fill="#FEB642"/>
<polygon points="1206.0,234.0 1214.0,232.0 1222.0,232.0 1230.0,230.0 1236.0,232.0 1240.0,244.0 1248.0,250.0 1250.0,260.0 1248.0,265.0 1236.0,266.0 1222.0,268.0 1212.0,267.0 1200.0,269.0 1200.0,248.0 1204.0,246.0" fill="#FE9929"/>
<polygon points="1308.0,216.0 1314.0,214.4 1322.0,220.0 1332.0,228.0 1342.0,229.4 1339.0,235.0 1345.0,243.0 1338.0,244.0 1328.0,243.0 1322.0,246.0 1320.0,252.0 1324.0,260.0 1325.0,270.0 1318.0,276.0 1319.0,284.0 1310.0,288.0 1300.0,289.0 1290.0,288.0 1280.0,282.0 1275.0,276.0 1282.0,273.0 1288.0,268.0 1288.0,258.0 1286.0,250.0 1294.0,241.0 1300.0,244.0 1304.0,240.0 1310.0,234.0 1316.0,230.0 1312.0,224.0" fill="#FFFACA"/>
<polygon points="1322.0,246.0 1328.0,243.0 1338.0,244.0 1345.0,243.0 1342.0,248.0 1349.0,259.0 1360.0,259.0 1372.0,259.0 1381.0,258.0 1378.0,264.0 1372.0,269.0 1360.0,270.0 1348.0,271.0 1340.0,269.0 1336.0,274.0 1328.0,272.0 1325.0,270.0 1324.0,260.0 1320.0,252.0" fill="#D9D9D9"/>
<polygon points="1250.0,260.0 1258.0,257.0 1268.0,256.0 1280.0,252.0 1288.0,248.0 1286.0,250.0 1288.0,258.0 1288.0,268.0 1282.0,273.0 1275.0,276.0 1280.0,282.0 1268.0,286.0 1258.0,288.0 1250.0,294.0 1242.0,300.0 1243.0,308.0 1236.0,312.0 1230.0,316.0 1222.0,310.0 1220.0,298.0 1222.0,286.0 1219.0,278.0 1222.0,268.0 1236.0,266.0 1248.0,265.0" fill="#FEE391"/>
<polygon points="1200.0,269.0 1212.0,267.0 1222.0,268.0 1219.0,278.0 1222.0,286.0 1220.0,298.0 1222.0,310.0 1230.0,316.0 1220.0,316.0 1212.0,315.0 1200.0,316.0" fill="#FFF0AE"/>
<polygon points="1325.0,270.0 1328.0,272.0 1336.0,274.0 1340.0,269.0 1348.0,271.0 1360.0,270.0 1372.0,269.0 1378.0,264.0 1381.0,258.0 1386.0,253.0 1395.0,248.0 1406.0,246.0 1420.0,242.0 1432.0,241.0 1441.0,240.0 1442.0,242.0 1433.0,246.0 1428.0,252.0 1420.0,260.0 1410.0,264.0 1402.0,268.0 1398.0,276.0 1388.0,280.0 1378.0,282.0 1370.0,278.0 1360.0,276.0 1350.0,278.0 1342.0,281.0 1346.0,288.0 1352.0,294.0 1358.0,299.0 1350.0,302.0 1340.0,301.0 1330.0,300.0 1328.0,292.0 1330.0,286.0 1324.0,284.0 1319.0,284.0 1318.0,276.0" fill="#F27E1B"/>
<polygon points="1342.0,281.0 1350.0,278.0 1360.0,276.0 1370.0,278.0 1378.0,282.0 1388.0,280.0 1398.0,276.0 1402.0,268.0 1410.0,264.0 1420.0,260.0 1428.0,252.0 1430.0,252.0 1434.4,258.0 1429.0,265.0 1422.0,270.0 1420.0,278.0 1417.0,284.0 1410.0,288.0 1400.0,290.0 1394.0,298.0 1384.0,300.0 1376.0,306.0 1370.0,305.0 1370.0,300.0 1364.0,299.0 1360.0,297.0 1358.0,299.0 1352.0,294.0 1346.0,288.0" fill="#CC4C02"/>
<polygon points="1329.0,301.0 1340.0,302.0 1350.0,302.0 1358.0,299.0 1360.0,297.0 1364.0,299.0 1370.0,300.0 1368.0,304.0 1360.0,308.0 1354.0,311.0 1340.0,312.0 1331.0,310.0" fill="#662506"/>
<polygon points="1417.0,284.0 1415.0,290.0 1410.0,299.0 1406.0,305.0 1407.0,311.0 1398.0,316.0 1397.0,322.0 1393.0,327.0 1384.0,325.0 1374.0,322.0 1368.0,320.0 1362.0,326.0 1352.0,331.0 1344.0,326.0 1336.0,322.0 1338.0,316.0 1340.0,312.0 1354.0,311.0 1360.0,308.0 1368.0,304.0 1370.0,305.0 1376.0,306.0 1384.0,300.0 1394.0,298.0 1400.0,290.0 1410.0,288.0" fill="#FEB642"/>
<polygon points="1250.0,294.0 1258.0,288.0 1268.0,286.0 1280.0,282.0 1290.0,288.0 1300.0,289.0 1310.0,288.0 1319.0,284.0 1324.0,284.0 1330.0,286.0 1328.0,292.0 1330.0,300.0 1329.0,301.0 1331.0,310.0 1340.0,312.0 1338.0,316.0 1336.0,322.0 1344.0,326.0 1352.0,331.0 1350.0,335.0 1354.0,342.0 1356.4,352.0 1354.0,366.0 1346.0,368.0 1338.0,362.0 1334.0,352.0 1324.0,354.0 1310.0,358.0 1302.0,365.0 1298.0,358.0 1294.0,348.0 1291.0,341.0 1286.0,344.0 1282.0,352.0 1276.0,350.0 1270.0,340.0 1262.0,337.0 1260.0,328.0 1252.0,322.0 1240.0,323.0 1230.0,316.0 1236.0,312.0 1243.0,308.0 1242.0,300.0" fill="#FE9929"/>
<polygon points="1200.0,316.0 1212.0,315.0 1220.0,316.0 1230.0,316.0 1240.0,323.0 1252.0,322.0 1260.0,328.0 1262.0,337.0 1256.0,338.0 1246.0,336.0 1236.0,330.0 1228.0,332.0 1216.0,334.0 1206.0,338.0 1200.0,342.0" fill="#FECE65"/>
<polygon points="1200.0,342.0 1206.0,338.0 1216.0,334.0 1228.0,332.0 1236.0,330.0 1246.0,336.0 1256.0,338.0 1262.0,337.0 1270.0,340.0 1276.0,350.0 1282.0,352.0 1278.0,360.0 1274.0,368.0 1270.0,376.0 1274.0,383.0 1266.0,385.0 1258.0,384.0 1252.0,387.0 1240.0,382.0 1230.0,376.0 1226.0,372.0 1218.0,364.0 1212.0,368.0 1206.0,378.0 1200.0,380.0" fill="#FE9929"/>
<polygon points="1282.0,352.0 1286.0,344.0 1291.0,341.0 1294.0,348.0 1298.0,358.0 1302.0,365.0 1310.0,358.0 1324.0,354.0 1334.0,352.0 1338.0,362.0 1346.0,368.0 1354.0,366.0 1356.0,370.0 1353.0,380.0 1346.0,383.0 1338.0,386.0 1342.0,393.0 1336.0,389.0 1332.0,382.0 1325.0,379.0 1322.0,386.0 1316.0,394.0 1309.0,397.0 1304.0,404.0 1296.0,403.0 1284.0,406.0 1282.0,396.0 1280.0,386.0 1274.0,383.0 1270.0,376.0 1274.0,368.0 1278.0,360.0" fill="#FEB642"/>
<polygon points="1252.0,387.0 1258.0,384.0 1266.0,385.0 1274.0,383.0 1280.0,386.0 1282.0,396.0 1284.0,406.0 1286.0,412.0 1289.0,416.0 1285.0,421.0 1274.0,419.0 1264.0,416.0 1257.0,410.0 1250.0,414.0 1246.0,408.0 1240.0,405.0 1246.0,400.0 1250.0,392.0" fill="#FFFACA"/>
<polygon points="1230.0,376.0 1240.0,382.0 1252.0,387.0 1250.0,392.0 1246.0,400.0 1240.0,405.0 1246.0,408.0 1250.0,414.0 1248.0,419.0 1240.0,427.0 1232.0,433.0 1226.0,426.0 1222.0,416.0 1221.0,404.0 1222.0,396.0 1228.0,390.0 1231.0,383.0 1227.0,376.0" fill="#E1640E"/>
<polygon points="1212.0,375.0 1220.0,373.0 1227.0,376.0 1231.0,383.0 1228.0,390.0 1222.0,396.0 1217.0,390.0 1213.0,382.0" fill="#AA3C03"/>
<polygon points="1200.0,380.0 1206.0,378.0 1212.0,375.0 1213.0,382.0 1217.0,390.0 1222.0,396.0 1221.0,404.0 1222.0,416.0 1212.0,418.0 1200.0,420.0" fill="#F27E1B"/>
<polygon points="1212.0,368.0 1218.0,364.0 1226.0,372.0 1230.0,376.0 1227.0,376.0 1220.0,373.0 1212.0,375.0 1206.0,378.0" fill="#F27E1B"/>
<polygon points="1200.0,420.0 1212.0,418.0 1222.0,416.0 1226.0,426.0 1231.0,430.0 1226.0,438.0 1212.0,434.0 1200.0,436.0" fill="#CC4C02"/>
<polygon points="1200.0,436.0 1212.0,434.0 1226.0,438.0 1232.0,433.0 1212.0,444.0 1200.0,450.0" fill="#E1640E"/>
<polygon points="598.0,620.0 623.0,620.0 626.0,628.0 636.0,636.0 648.0,640.0 652.0,635.0 658.0,642.0 668.0,645.0 666.0,652.0 674.0,660.0 680.0,672.0 692.0,676.0 702.0,684.0 700.0,694.0 720.0,700.0 740.0,704.0 752.0,712.0 750.0,746.0 740.0,746.0 740.0,752.0 732.0,758.0 730.0,768.0 719.0,778.0 721.0,801.0 712.0,804.0 700.0,808.0 695.0,811.0 688.0,800.0 684.0,792.0 676.0,778.0 668.0,765.0 660.0,768.0 654.0,750.0 646.0,742.0 638.0,756.0 634.0,740.0 632.0,724.0 632.0,708.0 630.0,692.0 624.0,680.0 628.0,674.0 620.0,666.0 612.0,654.0 600.0,646.0 594.0,636.0" fill="#FFF0AE"/>
<polygon points="668.0,645.0 680.0,640.0 679.0,632.0 686.0,628.0 692.0,630.0 700.0,634.0 710.0,628.0 724.0,622.0 746.0,620.0 750.0,626.0 750.0,642.0 743.0,640.0 744.0,650.0 740.0,656.0 744.0,666.0 736.0,672.0 732.0,684.0 722.0,688.0 710.0,690.0 700.0,694.0 702.0,684.0 692.0,676.0 680.0,672.0 674.0,660.0 666.0,652.0" fill="#FECE65"/>
<polygon points="692.0,620.0 710.0,620.0 708.0,624.0 700.0,629.0 695.0,628.0" fill="#E1640E"/>
<polygon points="660.0,768.0 668.0,765.0 676.0,778.0 684.0,792.0 688.0,800.0 680.0,804.0 674.0,810.0 670.0,808.0 664.0,812.0 662.0,800.0 652.0,796.0 648.0,796.0 654.0,790.0 646.0,784.0 640.0,778.0 642.0,774.0 650.0,782.0 656.0,780.0" fill="#FEE391"/>
<polygon points="648.0,796.0 652.0,796.0 662.0,800.0 664.0,812.0 670.0,808.0 674.0,810.0 676.0,822.0 672.0,832.0 670.0,840.0 660.0,839.0 654.0,838.0 648.0,846.0 640.0,856.0 632.0,858.0 624.0,860.0 623.0,850.0 618.0,844.0 612.0,832.0 614.0,822.0 620.0,818.0 626.0,820.0 630.0,816.0 636.0,808.0 642.0,800.0" fill="#FFF0AE"/>
<polygon points="620.0,828.0 628.0,822.0 638.0,830.0 648.0,836.0 654.0,838.0 648.0,846.0 640.0,856.0 632.0,858.0 624.0,860.0 623.0,850.0 618.0,844.0" fill="#FFFACA"/>
<polygon points="603.0,834.0 611.0,831.0 614.0,840.0 618.0,844.0 623.0,850.0 624.0,860.0 612.0,863.0 598.0,867.0 604.0,860.0 600.0,854.0 598.0,846.0" fill="#FEB642"/>
<polygon points="670.0,840.0 676.0,846.0 682.0,856.0 686.0,866.0 692.0,878.0 698.0,880.0 695.0,888.0 698.0,896.0 706.0,900.0 697.0,902.0 690.0,908.0 688.0,920.0 680.0,904.0 672.0,900.0 662.0,904.0 658.0,912.0 654.0,920.0 648.0,914.0 636.0,912.0 639.0,900.0 643.0,892.0 640.0,887.0 644.0,886.0 654.0,880.0 660.0,872.0 662.0,860.0 664.0,846.0 660.0,839.0" fill="#FEE391"/>
<polygon points="650.0,643.0 668.0,643.0 679.0,640.0 680.0,630.0 697.0,629.0 746.0,600.0 950.0,600.0 950.0,900.0 724.0,900.0 650.0,900.0" fill="#FFF0AE"/>
<polygon points="650.0,600.0 671.0,600.0 676.0,608.0 684.0,614.0 695.0,618.0 693.0,624.0 697.0,628.0 690.0,629.0 680.0,630.0 679.0,640.0 668.0,643.0 658.0,643.0 650.0,633.0" fill="#D9D9D9"/>
<polygon points="671.0,600.0 746.0,600.0 752.0,612.0 759.0,624.0 755.0,627.0 748.0,620.0 738.0,612.0 726.0,612.0 720.0,604.0 708.0,608.0 703.0,614.0 707.0,620.0 702.0,626.0 697.0,629.0 693.0,624.0 695.0,618.0 684.0,614.0 676.0,608.0" fill="#E1640E"/>
<polygon points="703.0,614.0 708.0,608.0 720.0,604.0 726.0,612.0 738.0,612.0 748.0,620.0 750.0,632.0 742.0,638.0 740.0,648.0 744.0,656.0 740.0,662.0 738.0,672.0 734.0,680.0 726.0,686.0 716.0,688.0 704.0,694.0 699.0,688.0 700.0,680.0 690.0,672.0 676.0,664.0 670.0,656.0 665.0,650.0 668.0,643.0 679.0,640.0 680.0,630.0 690.0,629.0 697.0,629.0 702.0,626.0 707.0,620.0" fill="#FECE65"/>
<polygon points="746.0,600.0 800.0,600.0 798.0,610.0 799.0,616.0 788.0,619.0 782.0,626.0 786.0,634.0 778.0,638.0 774.0,643.0 762.0,644.0 752.0,639.0 750.0,632.0 748.0,620.0 755.0,627.0 759.0,624.0 752.0,612.0" fill="#FEE391"/>
<polygon points="800.0,600.0 830.0,600.0 826.0,608.0 820.0,612.0 810.0,612.0 806.0,616.0 799.0,616.0 798.0,610.0" fill="#FFF0AE"/>
<polygon points="786.0,634.0 782.0,626.0 788.0,619.0 799.0,616.0 806.0,616.0 810.0,612.0 820.0,612.0 826.0,616.0 838.0,618.0 848.0,620.0 846.0,628.0 858.0,630.0 867.0,631.0 874.0,638.0 882.0,640.0 880.0,645.0 870.0,648.0 867.0,655.0 870.0,668.0 862.0,664.0 854.0,658.0 844.0,655.0 834.0,652.0 824.0,648.0 816.0,647.0 810.0,643.0 800.0,642.0 790.0,639.0" fill="#F27E1B"/>
<polygon points="826.0,608.0 830.0,600.0 852.0,600.0 850.0,608.0 856.0,614.0 850.0,620.0 854.0,628.0 867.0,631.0 858.0,630.0 846.0,628.0 848.0,620.0 838.0,618.0 826.0,616.0 820.0,612.0" fill="#FE9929"/>
<polygon points="852.0,600.0 890.0,600.0 899.0,618.0 901.0,628.0 890.0,630.0 876.0,629.0 867.0,631.0 854.0,628.0 850.0,620.0 856.0,614.0 850.0,608.0" fill="#FEB642"/>
<polygon points="888.0,600.0 906.0,600.0 908.0,608.0 904.0,615.0 900.0,619.0 895.0,610.0" fill="#AA3C03"/>
<polygon points="906.0,600.0 950.0,600.0 950.0,650.0 938.0,649.0 926.0,646.0 914.0,645.0 908.0,636.0 901.0,628.0 900.0,619.0 904.0,615.0 908.0,608.0" fill="#FE9929"/>
<polygon points="867.0,631.0 876.0,629.0 890.0,630.0 901.0,628.0 908.0,636.0 914.0,645.0 906.0,652.0 900.0,662.0 890.0,664.0 879.0,671.0 870.0,668.0 867.0,655.0 870.0,648.0 880.0,645.0 882.0,640.0 874.0,638.0" fill="#E1640E"/>
<polygon points="879.0,671.0 890.0,664.0 898.0,665.0 899.0,670.0 890.0,676.0 882.0,677.0" fill="#D9D9D9"/>
<polygon points="900.0,662.0 906.0,652.0 914.0,645.0 926.0,646.0 938.0,649.0 950.0,650.0 950.0,684.0 938.0,676.0 922.0,680.0 910.0,676.0 899.0,670.0 898.0,665.0" fill="#FFF0AE"/>
<polygon points="750.0,632.0 752.0,639.0 762.0,644.0 774.0,643.0 778.0,638.0 786.0,634.0 790.0,639.0 800.0,642.0 810.0,643.0 816.0,647.0 824.0,648.0 834.0,652.0 844.0,655.0 845.0,666.0 838.0,672.0 834.0,682.0 832.0,688.0 824.0,692.0 820.0,698.0 816.0,696.0 810.0,688.0 809.0,678.0 802.0,668.0 790.0,665.0 780.0,670.0 776.0,674.0 770.0,670.0 762.0,666.0 754.0,660.0 744.0,656.0 740.0,648.0 742.0,638.0" fill="#FFF0AE"/>
<polygon points="776.0,674.0 780.0,670.0 790.0,665.0 802.0,668.0 809.0,678.0 806.0,686.0 798.0,692.0 790.0,694.0 786.0,698.0 782.0,688.0 780.0,680.0" fill="#FEB642"/>
<polygon points="739.0,672.0 744.0,669.0 754.0,676.0 762.0,682.0 768.0,688.0 770.0,696.0 764.0,694.0 758.0,688.0 748.0,684.0 741.0,678.0" fill="#FFFFE5"/>
<polygon points="790.0,694.0 798.0,692.0 806.0,691.0 814.0,696.0 816.0,704.0 810.0,710.0 806.0,709.0 802.0,704.0 797.0,704.0 792.0,700.0 788.0,700.0" fill="#FFFFE5"/>
<polygon points="834.0,652.0 844.0,655.0 854.0,658.0 862.0,664.0 870.0,668.0 879.0,671.0 882.0,677.0 881.0,688.0 870.0,692.0 862.0,697.0 850.0,696.0 842.0,699.0 836.0,700.0 830.0,708.0 824.0,712.0 820.0,698.0 824.0,692.0 832.0,688.0 834.0,682.0 838.0,672.0 845.0,666.0" fill="#FFF0AE"/>
<polygon points="662.0,736.0 718.0,736.0 738.0,746.0 739.0,754.0 732.0,760.0 728.0,772.0 719.0,778.0 719.0,788.0 721.0,796.0 720.0,804.0 710.0,806.0 702.0,808.0 695.0,811.0 690.0,804.0 686.0,797.0 687.0,792.0 680.0,786.0 677.0,778.0 672.0,770.0 668.0,765.0 662.0,756.0 661.0,744.0" fill="#FFFACA"/>
<polygon points="720.0,728.0 726.0,720.0 734.0,714.0 742.0,712.0 750.0,720.0 754.0,728.0 746.0,732.0 740.0,740.0 734.0,744.0 726.0,740.0 719.0,736.0" fill="#FFFFE5"/>
<polygon points="750.0,720.0 754.0,715.0 762.0,712.0 768.0,716.0 774.0,720.0 773.0,726.0 780.0,732.0 783.0,740.0 790.0,738.0 794.0,744.0 790.0,748.0 782.0,749.0 780.0,754.0 788.0,760.0 795.0,760.0 795.0,767.0 782.0,770.0 774.0,768.0 770.0,760.0 762.0,766.0 754.0,764.0 750.0,758.0 752.0,752.0 748.0,748.0 739.0,746.0 740.0,740.0 746.0,732.0 754.0,728.0" fill="#FEE391"/>
<polygon points="768.0,688.0 778.0,694.0 786.0,698.0 788.0,700.0 786.0,701.0 778.0,708.0 781.0,714.0 774.0,720.0 768.0,716.0 762.0,712.0 768.0,704.0 770.0,696.0" fill="#FEE391"/>
<polygon points="778.0,708.0 786.0,701.0 792.0,704.0 797.0,704.0 802.0,704.0 806.0,709.0 810.0,710.0 816.0,704.0 820.0,698.0 824.0,712.0 830.0,708.0 836.0,700.0 834.0,704.0 836.0,712.0 833.0,720.0 832.0,730.0 836.0,736.0 828.0,738.0 826.0,733.0 820.0,732.0 819.0,740.0 812.0,740.0 804.0,749.0 800.0,744.0 799.0,749.0 795.0,744.0 790.0,738.0 783.0,740.0 780.0,732.0 773.0,726.0 774.0,720.0 781.0,714.0" fill="#FFFACA"/>
<polygon points="794.0,716.0 802.0,712.0 810.0,716.0 809.0,728.0 802.0,732.0 796.0,728.0" fill="#FEE391"/>
<polygon points="834.0,704.0 838.0,700.0 845.0,696.0 843.0,704.0 846.0,709.0 844.0,716.0 850.0,720.0 856.0,728.0 860.0,736.0 862.0,744.0 861.0,752.0 856.0,757.0 850.0,754.0 846.0,748.0 842.0,744.0 839.0,740.0 836.0,736.0 832.0,730.0 833.0,720.0 836.0,712.0" fill="#D9D9D9"/>
<polygon points="674.0,808.0 690.0,804.0 695.0,811.0 702.0,808.0 706.0,816.0 708.0,826.0 704.0,836.0 700.0,844.0 696.0,852.0 690.0,856.0 682.0,855.0 676.0,848.0 670.0,840.0 674.0,828.0 673.0,816.0" fill="#D9D9D9"/>
<polygon points="650.0,780.0 656.0,760.0 660.0,768.0 668.0,765.0 672.0,770.0 677.0,778.0 680.0,786.0 687.0,792.0 686.0,797.0 690.0,804.0 674.0,808.0 673.0,816.0 674.0,828.0 670.0,840.0 664.0,852.0 658.0,846.0 650.0,834.0" fill="#FEE391"/>
<polygon points="650.0,748.0 652.0,752.0 656.0,760.0 650.0,780.0" fill="#D9D9D9"/>
<polygon points="702.0,808.0 710.0,806.0 720.0,804.0 726.0,810.0 730.0,820.0 728.0,830.0 734.0,840.0 730.0,846.0 722.0,852.0 720.0,842.0 718.0,848.0 710.0,852.0 705.0,850.0 704.0,840.0 704.0,836.0 708.0,826.0 706.0,816.0" fill="#FEE391"/>
<polygon points="650.0,834.0 658.0,846.0 664.0,852.0 670.0,840.0 676.0,848.0 682.0,855.0 683.0,856.0 689.0,868.0 693.0,878.0 700.0,880.0 705.0,876.0 702.0,868.0 708.0,866.0 716.0,862.0 723.0,862.0 722.0,852.0 730.0,846.0 734.0,840.0 742.0,848.0 738.0,858.0 734.0,868.0 736.0,880.0 738.0,892.0 730.0,896.0 724.0,900.0 650.0,900.0" fill="#D9D9D9"/>
<polygon points="696.0,852.0 700.0,844.0 704.0,840.0 705.0,850.0 710.0,852.0 718.0,848.0 720.0,842.0 722.0,852.0 723.0,862.0 716.0,862.0 708.0,866.0 702.0,868.0 705.0,876.0 700.0,880.0 693.0,878.0 689.0,868.0 683.0,856.0 690.0,856.0" fill="#FE9929"/>
<polygon points="864.0,728.0 870.0,720.0 878.0,716.0 889.0,718.0 890.0,712.0 896.0,708.0 910.0,712.0 926.0,708.0 938.0,712.0 950.0,712.0 950.0,812.0 930.0,808.0 928.0,820.0 910.0,816.0 906.0,806.0 900.0,804.0 890.0,808.0 880.0,812.0 872.0,815.0 866.0,808.0 862.0,800.0 865.0,792.0 867.0,786.0 860.0,784.0 852.0,784.0 858.0,778.0 866.0,771.0 864.0,760.0 861.0,752.0 862.0,744.0" fill="#FFFFE5"/>
<polygon points="882.0,677.0 890.0,676.0 899.0,670.0 910.0,676.0 922.0,680.0 938.0,676.0 950.0,684.0 950.0,712.0 938.0,712.0 926.0,708.0 910.0,712.0 896.0,708.0 890.0,712.0 889.0,718.0 878.0,716.0 870.0,720.0 864.0,728.0 862.0,744.0 860.0,736.0 856.0,728.0 850.0,720.0 844.0,716.0 846.0,709.0 843.0,704.0 845.0,696.0 850.0,696.0 862.0,697.0 870.0,692.0 881.0,688.0" fill="#FFFACA"/>
<polygon points="936.0,692.0 950.0,689.0 950.0,700.0 940.0,696.0" fill="#FE9929"/>
<polygon points="930.0,808.0 950.0,812.0 950.0,826.0 944.0,832.0 944.0,840.0 938.0,834.0 930.0,824.0 928.0,820.0" fill="#FEB642"/>
<polygon points="910.0,816.0 928.0,820.0 930.0,824.0 938.0,834.0 944.0,840.0 950.0,840.0 950.0,900.0 908.0,900.0 910.0,888.0 916.0,876.0 922.0,860.0 920.0,846.0 914.0,840.0 906.0,842.0 900.0,836.0 908.0,826.0" fill="#FFFFE5"/>
<polygon points="906.0,842.0 914.0,840.0 920.0,846.0 922.0,860.0 916.0,876.0 910.0,888.0 908.0,900.0 870.0,900.0 860.0,880.0 850.0,870.0 860.0,866.0 870.0,860.0 880.0,862.0 890.0,858.0 898.0,850.0" fill="#D9D9D9"/>
<polygon points="920.0,420.0 1093.3,420.0 1098.5,454.7 1078.8,474.9 1056.9,477.2 1050.9,494.5 1062.1,503.2 1086.4,511.9 1081.2,525.7 1095.1,527.5 1115.9,512.7 1163.5,521.4 1157.5,536.1 1121.9,544.8 1090.7,576.0 1084.7,584.7 1112.4,610.7 1124.5,641.9 1147.1,667.9 1150.5,680.0 920.0,680.0" fill="#FE9929"/>
<polygon points="920.0,426.9 925.2,430.4 927.8,440.8 926.9,451.2 920.0,461.6" fill="#FFFACA"/>
<polygon points="925.2,430.4 920.0,426.9 920.0,420.0 965.9,420.0 965.1,426.9 970.3,435.6 972.0,439.1 963.3,442.5 954.7,444.3 944.3,446.0 939.1,451.2 936.5,454.7 932.1,449.5 927.8,451.2 927.8,440.8" fill="#E1640E"/>
<polygon points="927.8,451.2 932.1,449.5 936.5,454.7 937.3,461.6 944.3,459.0 951.2,457.3 954.7,463.3 956.4,469.4 949.5,472.0 940.8,473.7 935.6,478.1 928.7,475.5 923.5,470.3 921.7,465.1 925.2,458.1" fill="#AA3C03"/>
<polygon points="965.9,420.0 1013.6,420.0 1020.5,428.7 1022.3,435.6 1013.6,439.1 1006.7,442.5 1010.1,449.5 1003.2,453.8 999.7,458.1 996.3,463.3 989.3,464.2 980.7,465.9 975.5,461.6 970.3,457.3 967.7,452.9 972.0,449.5 975.5,446.0 972.0,439.1 970.3,435.6 965.1,426.9" fill="#E1640E"/>
<polygon points="1022.3,435.6 1027.5,430.4 1030.9,435.6 1039.6,439.1 1046.5,438.2 1041.3,442.5 1041.3,448.6 1039.6,454.7 1030.9,454.7 1030.9,464.2 1024.0,466.8 1017.1,465.9 1010.1,466.8 1003.2,465.1 1000.6,461.6 999.7,458.1 1003.2,453.8 1010.1,449.5 1006.7,442.5 1013.6,439.1" fill="#FE9929"/>
<polygon points="939.1,451.2 944.3,446.0 954.7,444.3 963.3,442.5 972.0,439.1 975.5,446.0 972.0,449.5 967.7,452.9 970.3,457.3 975.5,461.6 978.9,465.1 975.5,472.0 977.2,477.2 970.3,475.5 963.3,478.9 956.4,469.4 954.7,463.3 951.2,457.3 944.3,459.0 937.3,461.6 936.5,454.7" fill="#F27E1B"/>
<polygon points="1013.6,420.0 1065.6,420.0 1070.8,421.7 1079.5,426.9 1077.7,433.9 1082.9,439.1 1089.9,441.7 1084.7,444.3 1076.0,442.5 1070.8,446.0 1063.9,445.1 1058.7,447.7 1051.7,448.6 1046.5,446.0 1046.5,438.2 1039.6,439.1 1030.9,435.6 1027.5,430.4 1022.3,435.6 1020.5,428.7" fill="#FECE65"/>
<polygon points="1046.5,446.0 1051.7,448.6 1058.7,447.7 1063.9,445.1 1070.8,446.0 1076.0,442.5 1084.7,444.3 1089.9,441.7 1093.3,447.7 1098.5,454.7 1091.6,459.9 1086.4,465.1 1078.8,474.9 1072.5,480.7 1067.3,482.4 1062.1,478.9 1056.9,477.2 1055.2,472.0 1051.7,466.8 1048.3,461.6 1047.4,454.7 1051.7,452.9 1048.3,449.5 1041.3,448.6 1041.3,442.5 1046.5,438.2" fill="#FE9929"/>
<polygon points="1070.8,446.0 1076.0,442.5 1084.7,444.3 1089.9,441.7 1093.3,447.7 1098.5,454.7 1091.6,459.9 1086.4,465.1 1078.8,474.9 1076.0,466.8 1074.3,458.1 1070.8,452.9" fill="#FEB642"/>
<polygon points="1065.6,420.0 1145.3,420.0 1138.4,430.4 1128.0,435.6 1124.5,435.6 1117.6,432.1 1110.7,428.7 1102.0,430.4 1093.3,433.9 1089.9,441.7 1082.9,439.1 1077.7,433.9 1079.5,426.9 1070.8,421.7" fill="#FE9929"/>
<polygon points="1089.9,441.7 1093.3,433.9 1102.0,430.4 1110.7,428.7 1117.6,432.1 1124.5,435.6 1110.7,446.0 1098.5,454.7 1093.3,447.7" fill="#FECE65"/>
<polygon points="1154.0,420.0 1180.0,420.0 1180.0,461.6 1169.6,466.8 1162.7,470.3 1152.3,475.5 1143.6,480.7 1134.9,485.0 1128.0,488.5 1127.1,484.1 1133.2,479.8 1140.1,477.2 1130.6,468.5 1134.9,463.3 1145.3,452.9 1152.3,442.5 1150.5,437.3 1154.0,432.1 1157.5,425.2" fill="#F27E1B"/>
<polygon points="1145.3,420.0 1154.0,420.0 1157.5,425.2 1154.0,432.1 1150.5,437.3 1152.3,442.5 1145.3,437.3 1138.4,430.4" fill="#FE9929"/>
<polygon points="1140.1,423.5 1145.3,420.0 1154.0,420.0 1157.5,425.2 1154.0,432.1 1150.5,437.3 1145.3,433.9 1139.3,430.4" fill="#CC4C02"/>
<polygon points="1041.3,448.6 1048.3,449.5 1051.7,452.9 1047.4,454.7 1048.3,461.6 1051.7,466.8 1055.2,472.0 1056.9,477.2 1053.5,484.1 1050.0,487.6 1048.3,491.1 1041.3,491.9 1034.4,489.3 1029.2,485.9 1030.9,478.9 1032.7,472.0 1030.9,464.2 1030.9,454.7 1039.6,454.7" fill="#F27E1B"/>
<polygon points="978.9,465.1 980.7,465.9 989.3,464.2 996.3,463.3 1000.6,461.6 1003.2,465.1 1010.1,466.8 1017.1,465.9 1024.0,466.8 1030.9,464.2 1032.7,472.0 1030.9,478.9 1029.2,485.9 1020.5,484.1 1013.6,485.9 1010.1,492.8 1006.7,496.3 1013.6,501.5 1017.1,506.7 1010.1,506.7 1003.2,504.9 999.7,501.5 996.3,496.3 989.3,492.8 980.7,491.1 972.0,489.3 965.1,487.6 959.9,489.3 963.3,478.9 970.3,475.5 977.2,477.2 975.5,472.0" fill="#FE9929"/>
<polygon points="1029.2,485.9 1034.4,489.3 1041.3,491.9 1048.3,491.1 1050.0,487.6 1050.9,494.5 1056.9,499.7 1051.7,503.2 1046.5,506.7 1039.6,510.1 1030.9,511.0 1025.7,513.6 1022.3,517.1 1017.1,506.7 1013.6,501.5 1006.7,496.3 1010.1,492.8 1013.6,485.9 1020.5,484.1" fill="#F27E1B"/>
<polygon points="959.9,489.3 965.1,487.6 972.0,489.3 980.7,491.1 989.3,492.8 996.3,496.3 999.7,501.5 1003.2,504.9 1010.1,506.7 1017.1,506.7 1022.3,517.1 1017.1,522.3 1010.1,527.5 1004.9,534.4 999.7,539.6 996.3,544.8 999.7,551.7 996.3,553.5 989.3,555.2 978.9,553.5 972.0,550.9 961.6,548.3 958.1,541.3 961.6,534.4 965.1,524.0 970.3,515.3 966.8,508.4 963.3,501.5 957.3,494.5" fill="#FEB642"/>
<polygon points="959.9,489.3 965.1,487.6 972.0,489.3 980.7,491.1 989.3,492.8 996.3,496.3 999.7,501.5 998.0,508.4 992.8,513.6 985.9,517.1 978.9,520.5 972.0,522.3 970.3,515.3 966.8,508.4 963.3,501.5 957.3,494.5" fill="#FECE65"/>
<polygon points="957.3,494.5 963.3,501.5 966.8,508.4 970.3,515.3 965.1,524.0 961.6,534.4 954.7,539.6 947.7,532.7 937.3,530.9 930.4,527.5 920.0,525.7 920.0,503.2 930.4,499.7 944.3,498.0 952.9,492.8" fill="#FFF0AE"/>
<polygon points="920.0,461.6 921.7,465.1 923.5,470.3 928.7,475.5 935.6,478.1 940.8,473.7 949.5,472.0 956.4,469.4 963.3,478.9 959.9,489.3 957.3,494.5 952.9,492.8 944.3,498.0 930.4,499.7 920.0,503.2" fill="#FEB642"/>
<polygon points="956.4,469.4 963.3,478.9 959.9,489.3 957.3,494.5 952.9,492.8 951.2,485.9 949.5,478.9 949.5,472.0" fill="#FE9929"/>
<polygon points="920.0,525.7 930.4,527.5 933.9,529.2 930.4,532.7 923.5,534.4 926.9,543.1 920.0,541.3" fill="#FE9929"/>
<polygon points="923.5,534.4 930.4,532.7 933.9,529.2 939.1,530.9 947.7,532.7 954.7,539.6 958.1,541.3 961.6,548.3 959.9,556.9 956.4,562.1 949.5,558.7 942.5,556.9 937.3,551.7 933.9,546.5 926.9,543.1" fill="#AA3C03"/>
<polygon points="920.0,541.3 926.9,543.1 933.9,546.5 937.3,551.7 942.5,556.9 949.5,558.7 956.4,562.1 958.1,567.3 951.2,572.5 944.3,576.0 937.3,577.7 930.4,576.0 923.5,576.9 920.0,576.0" fill="#FE9929"/>
<polygon points="920.0,541.3 926.9,543.1 933.9,546.5 935.6,555.2 930.4,562.1 920.0,562.1" fill="#F27E1B"/>
<polygon points="924.3,576.9 937.3,577.7 938.2,581.2 933.9,583.8 926.9,583.8" fill="#882F05"/>
<polygon points="961.6,548.3 972.0,550.9 978.9,553.5 989.3,555.2 996.3,553.5 999.7,556.9 994.5,563.9 989.3,570.8 985.9,577.7 977.2,574.3 968.5,572.5 959.9,569.1 958.1,567.3 956.4,562.1 959.9,556.9" fill="#FECE65"/>
<polygon points="968.5,558.7 973.7,556.9 982.4,562.1 984.1,565.6 975.5,570.8 970.3,567.3" fill="#FFFACA"/>
<polygon points="1022.3,517.1 1025.7,513.6 1030.9,511.0 1039.6,510.1 1046.5,506.7 1051.7,503.2 1056.9,499.7 1062.1,503.2 1063.9,510.1 1060.4,517.1 1063.9,524.0 1065.6,530.9 1062.1,537.9 1055.2,532.7 1048.3,527.5 1048.3,534.4 1051.7,541.3 1055.2,551.7 1046.5,551.7 1041.3,548.3 1034.4,551.7 1024.0,553.5 1017.1,556.9 1013.6,555.2 1008.4,556.9 999.7,560.4 1000.6,553.5 999.7,551.7 996.3,544.8 999.7,539.6 1004.9,534.4 1010.1,527.5 1017.1,522.3" fill="#F27E1B"/>
<polygon points="1034.4,520.5 1041.3,518.8 1048.3,527.5 1048.3,534.4 1051.7,541.3 1048.3,548.3 1041.3,548.3 1034.4,544.8 1027.5,546.5 1022.3,541.3 1020.5,532.7 1027.5,530.9 1032.7,525.7" fill="#FE9929"/>
<polygon points="1048.3,527.5 1055.2,524.9 1058.7,527.5 1062.1,537.9 1060.4,544.8 1063.9,551.7 1068.2,556.9 1062.1,558.7 1056.9,555.2 1055.2,551.7 1051.7,541.3 1053.5,534.4" fill="#AA3C03"/>
<polygon points="1062.1,503.2 1070.8,503.2 1076.9,504.9 1082.1,509.3 1086.4,511.9 1082.9,517.1 1078.6,520.5 1076.0,524.0 1070.8,527.5 1067.3,532.7 1065.6,530.9 1063.9,524.0 1060.4,517.1 1063.9,510.1" fill="#FFF0AE"/>
<polygon points="1067.3,532.7 1070.8,527.5 1076.0,524.0 1078.6,520.5 1081.2,525.7 1089.0,529.2 1095.1,527.5 1093.3,534.4 1096.8,541.3 1102.0,544.8 1100.3,553.5 1096.8,558.7 1095.1,569.1 1090.7,576.0 1084.7,572.5 1079.5,563.9 1076.0,555.2 1068.2,556.9 1063.9,551.7 1060.4,544.8 1062.1,537.9 1065.6,530.9" fill="#FE9929"/>
<polygon points="1095.1,527.5 1100.3,522.3 1108.1,514.5 1115.9,512.7 1123.7,512.7 1130.6,517.1 1136.7,520.5 1145.3,518.8 1154.0,518.8 1163.5,521.4 1160.1,525.7 1161.8,530.1 1157.5,536.1 1150.5,535.3 1143.6,537.9 1134.9,539.6 1128.0,543.1 1121.9,544.8 1118.5,551.7 1110.7,555.2 1106.3,558.7 1102.0,563.9 1095.1,569.1 1096.8,558.7 1100.3,553.5 1102.0,544.8 1096.8,541.3 1093.3,534.4" fill="#E1640E"/>
<polygon points="1013.6,555.2 1017.1,556.9 1024.0,553.5 1034.4,551.7 1041.3,548.3 1046.5,551.7 1055.2,551.7 1056.9,555.2 1062.1,558.7 1068.2,556.9 1076.0,555.2 1079.5,563.9 1084.7,572.5 1090.7,576.0 1084.7,584.7 1079.5,584.7 1072.5,591.6 1067.3,593.3 1063.9,598.5 1058.7,591.6 1053.5,593.3 1048.3,596.8 1041.3,595.1 1037.9,591.6 1030.9,586.4 1024.0,586.4 1020.5,582.9 1015.3,581.2 1017.1,572.5 1013.6,563.9 1010.1,558.7" fill="#E1640E"/>
<polygon points="1017.1,556.9 1024.0,553.5 1034.4,551.7 1041.3,548.3 1046.5,551.7 1055.2,551.7 1056.9,555.2 1062.1,558.7 1055.2,563.9 1048.3,565.6 1041.3,563.9 1034.4,565.6 1027.5,563.9 1022.3,562.1" fill="#CC4C02"/>
<polygon points="1032.7,577.7 1041.3,575.1 1048.3,576.0 1053.5,586.4 1053.5,593.3 1048.3,596.8 1041.3,595.1 1037.9,591.6 1034.4,584.7" fill="#CC4C02"/>
<polygon points="999.7,560.4 1008.4,556.9 1013.6,555.2 1010.1,558.7 1013.6,563.9 1017.1,572.5 1015.3,581.2 1020.5,582.9 1022.3,588.1 1017.1,593.3 1010.1,594.2 1001.5,593.3 998.0,586.4 992.8,584.7 986.7,581.2 989.3,574.3 996.3,569.1 1001.5,563.9" fill="#FEB642"/>
<polygon points="937.3,577.7 944.3,576.0 951.2,572.5 958.1,567.3 959.9,569.1 968.5,572.5 977.2,574.3 985.9,577.7 986.7,581.2 992.8,584.7 998.0,586.4 1001.5,593.3 1003.2,602.0 1003.2,608.1 996.3,608.9 989.3,607.2 980.7,608.9 972.0,603.7 963.3,600.3 954.7,596.8 946.0,591.6 940.8,586.4 938.2,581.2" fill="#F27E1B"/>
<polygon points="920.0,576.0 923.5,576.9 926.9,583.8 933.9,583.8 938.2,581.2 940.8,586.4 946.0,591.6 954.7,596.8 963.3,600.3 972.0,603.7 973.7,610.7 970.3,619.3 972.0,628.0 968.5,636.7 961.6,641.9 961.6,650.5 954.7,648.8 946.0,652.3 937.3,650.5 928.7,648.8 920.0,647.1" fill="#FE9929"/>
<polygon points="920.0,586.4 926.9,583.8 933.9,583.8 939.1,589.9 942.5,596.8 939.1,603.7 935.6,610.7 928.7,615.9 920.0,617.6" fill="#FECE65"/>
<polygon points="972.0,603.7 980.7,608.9 989.3,607.2 996.3,608.9 1003.2,608.1 1003.2,614.1 1004.9,619.3 998.0,621.1 996.3,629.7 989.3,631.5 992.8,638.4 996.3,645.3 1004.9,648.8 1010.1,647.1 1010.1,657.5 1011.0,666.1 1001.5,669.6 999.7,676.5 1001.5,680.0 970.3,680.0 968.5,671.3 963.3,662.7 961.6,650.5 961.6,641.9 968.5,636.7 972.0,628.0 970.3,619.3 973.7,610.7" fill="#F27E1B"/>
<polygon points="1003.2,608.1 1010.1,608.9 1015.3,612.4 1022.3,610.7 1027.5,607.2 1032.7,608.9 1030.9,615.9 1032.7,622.8 1039.6,624.5 1044.8,622.8 1051.7,624.5 1058.7,629.7 1051.7,634.9 1044.8,638.4 1039.6,643.6 1034.4,643.6 1030.9,648.8 1032.7,655.7 1027.5,659.2 1024.0,652.3 1024.0,643.6 1020.5,636.7 1013.6,631.5 1010.1,624.5 1004.9,619.3 1003.2,614.1" fill="#E1640E"/>
<polygon points="1027.5,607.2 1032.7,608.9 1030.9,615.9 1032.7,622.8 1039.6,624.5 1044.8,622.8 1051.7,624.5 1058.7,629.7 1051.7,634.9 1044.8,638.4 1039.6,643.6 1034.4,643.6 1030.9,636.7 1029.2,629.7 1024.0,622.8 1022.3,615.9 1024.0,610.7" fill="#CC4C02"/>
<polygon points="1022.3,588.1 1024.0,586.4 1030.9,586.4 1037.9,591.6 1041.3,595.1 1048.3,596.8 1053.5,593.3 1058.7,591.6 1063.9,598.5 1058.7,603.7 1060.4,610.7 1061.3,615.9 1056.9,624.5 1058.7,629.7 1051.7,624.5 1044.8,622.8 1039.6,624.5 1032.7,622.8 1030.9,615.9 1032.7,608.9 1027.5,607.2 1022.3,610.7 1015.3,612.4 1010.1,608.9 1003.2,608.1 1003.2,602.0 1001.5,593.3 1010.1,594.2 1017.1,593.3" fill="#FE9929"/>
<polygon points="1063.9,598.5 1067.3,593.3 1072.5,591.6 1079.5,595.1 1082.9,600.3 1079.5,607.2 1076.0,612.4 1074.3,619.3 1070.8,626.3 1063.9,628.0 1058.7,629.7 1056.9,624.5 1061.3,615.9 1060.4,610.7 1058.7,603.7" fill="#FECE65"/>
<polygon points="1072.5,591.6 1079.5,584.7 1084.7,584.7 1090.7,590.7 1100.3,596.8 1108.9,600.3 1112.4,610.7 1117.6,622.8 1121.9,633.2 1124.5,641.9 1115.9,643.6 1107.2,640.1 1100.3,633.2 1093.3,626.3 1086.4,624.5 1082.9,629.7 1076.0,634.9 1070.8,641.9 1065.6,641.9 1063.9,634.9 1063.9,628.0 1070.8,626.3 1074.3,619.3 1076.0,612.4 1079.5,607.2 1082.9,600.3 1079.5,595.1" fill="#F27E1B"/>
<polygon points="1082.9,629.7 1086.4,624.5 1093.3,626.3 1095.1,633.2 1098.5,641.9 1096.8,650.5 1089.9,652.3 1082.9,654.0 1079.5,648.8 1082.9,643.6 1084.7,636.7" fill="#CC4C02"/>
<polygon points="1100.3,633.2 1107.2,640.1 1115.9,643.6 1124.5,641.9 1133.2,648.8 1138.4,655.7 1143.6,660.9 1147.1,667.9 1145.3,674.8 1136.7,669.6 1128.0,664.4 1119.3,660.9 1110.7,662.7 1103.7,659.2 1098.5,652.3 1096.8,650.5 1098.5,641.9 1095.1,633.2" fill="#FE9929"/>
<polygon points="1058.7,629.7 1063.9,628.0 1063.9,634.9 1065.6,641.9 1070.8,641.9 1076.0,634.9 1082.9,629.7 1084.7,636.7 1082.9,643.6 1079.5,648.8 1072.5,650.5 1069.1,659.2 1067.3,666.1 1070.8,673.1 1076.0,680.0 1065.6,680.0 1062.1,674.8 1056.9,669.6 1055.2,662.7 1060.4,657.5 1063.9,650.5 1062.1,643.6 1062.1,634.9" fill="#E1640E"/>
<polygon points="1027.5,659.2 1032.7,655.7 1030.9,648.8 1034.4,643.6 1039.6,643.6 1044.8,638.4 1051.7,634.9 1058.7,629.7 1062.1,634.9 1062.1,643.6 1063.9,650.5 1060.4,657.5 1055.2,662.7 1048.3,666.1 1041.3,662.7 1036.1,666.1 1030.9,673.1 1027.5,680.0 1001.5,680.0 999.7,676.5 1001.5,669.6 1011.0,666.1 1010.1,657.5 1010.1,647.1 1017.1,645.3 1024.0,652.3" fill="#F27E1B"/>
<polygon points="1055.2,662.7 1060.4,662.7 1067.3,666.1 1070.8,673.1 1076.0,680.0 1055.2,680.0 1053.5,671.3" fill="#FECE65"/>
<polygon points="1082.9,654.0 1089.9,652.3 1096.8,650.5 1098.5,652.3 1103.7,659.2 1100.3,666.1 1091.6,669.6 1084.7,667.9 1081.2,660.9" fill="#FEB642"/>
<polygon points="1072.5,650.5 1079.5,648.8 1082.9,654.0 1081.2,660.9 1084.7,667.9 1091.6,669.6 1100.3,666.1 1103.7,659.2 1110.7,662.7 1114.1,671.3 1110.7,680.0 1076.0,680.0 1070.8,673.1 1067.3,666.1 1069.1,659.2" fill="#E1640E"/>
<polygon points="1110.7,662.7 1119.3,660.9 1128.0,664.4 1136.7,669.6 1145.3,674.8 1150.5,680.0 1110.7,680.0 1114.1,671.3" fill="#FE9929"/>
<polygon points="920.0,647.1 928.7,648.8 937.3,650.5 946.0,652.3 954.7,648.8 961.6,650.5 963.3,662.7 968.5,671.3 970.3,680.0 920.0,680.0" fill="#FFF0AE"/>
<polygon points="920.0,660.0 1144.0,660.0 1147.0,669.0 1145.0,675.0 1148.0,680.0 1146.0,690.0 1127.0,699.0 1142.0,710.0 1148.0,728.0 1142.0,735.0 1134.0,754.0 1126.0,768.0 1113.0,782.0 1098.0,800.0 1094.0,818.0 1098.0,824.0 1080.0,836.0 1060.0,854.0 1044.0,875.0 1038.0,876.0 920.0,926.0" fill="#FFFACA"/>
<polygon points="920.0,660.0 964.0,660.0 970.0,666.0 968.0,676.0 960.0,682.0 956.0,690.0 948.0,694.0 940.0,692.0 937.0,698.0 944.0,700.0 956.0,706.0 966.0,704.0 970.0,710.0 959.0,715.0 958.0,718.0 944.0,716.0 942.0,720.0 932.0,722.0 920.0,716.0" fill="#FEE391"/>
<polygon points="937.0,692.0 948.0,694.0 956.0,690.0 960.0,682.0 968.0,680.0 970.0,686.0 966.0,694.0 956.0,700.0 946.0,700.0 940.0,698.0" fill="#FE9929"/>
<polygon points="964.0,660.0 1012.0,660.0 1008.0,668.0 1000.0,672.0 998.0,678.0 990.0,674.0 980.0,670.0 970.0,666.0" fill="#FE9929"/>
<polygon points="970.0,666.0 980.0,670.0 990.0,674.0 998.0,678.0 1008.0,686.0 1010.0,698.0 1014.0,708.0 1016.0,716.0 1008.0,717.0 1000.0,718.0 994.0,722.0 988.0,724.0 986.0,718.0 980.0,712.0 970.0,710.0 966.0,704.0 970.0,696.0 972.0,686.0 968.0,676.0" fill="#FECE65"/>
<polygon points="982.0,696.0 988.0,698.0 992.0,706.0 988.0,714.0 982.0,712.0 980.0,704.0" fill="#FFFFE5"/>
<polygon points="959.0,715.0 970.0,710.0 980.0,712.0 986.0,718.0 988.0,724.0 980.0,726.0 972.0,728.0 968.0,734.0 963.0,736.0 960.0,728.0" fill="#FE9929"/>
<polygon points="1008.0,686.0 1014.0,684.0 1024.0,680.0 1034.0,678.0 1038.0,686.0 1038.0,694.0 1032.0,700.0 1032.0,710.0 1029.0,714.0 1024.0,710.0 1016.0,716.0 1014.0,708.0 1010.0,698.0" fill="#FECE65"/>
<polygon points="1012.0,660.0 1120.0,660.0 1116.0,668.0 1108.0,672.0 1100.0,680.0 1092.0,682.0 1086.0,678.0 1076.0,677.0 1072.0,682.0 1068.0,688.0 1060.0,692.0 1052.0,688.0 1044.0,690.0 1038.0,686.0 1034.0,678.0 1024.0,680.0 1014.0,684.0 1008.0,686.0 998.0,678.0 1000.0,672.0 1008.0,668.0" fill="#F27E1B"/>
<polygon points="1056.0,662.0 1064.0,660.0 1072.0,666.0 1076.0,677.0 1068.0,676.0 1060.0,672.0" fill="#FEB642"/>
<polygon points="1032.0,670.0 1040.0,668.0 1050.0,672.0 1060.0,672.0 1068.0,676.0 1072.0,682.0 1068.0,688.0 1060.0,692.0 1052.0,688.0 1044.0,690.0 1038.0,686.0 1034.0,678.0" fill="#E1640E"/>
<polygon points="1037.0,685.0 1044.0,684.0 1050.0,682.0 1058.0,685.0 1060.0,692.0 1052.0,690.0 1044.0,693.0 1038.0,692.0" fill="#AA3C03"/>
<polygon points="1066.0,660.0 1076.0,666.0 1080.0,676.0 1086.0,678.0 1092.0,682.0 1100.0,680.0 1108.0,672.0 1114.0,668.0 1112.0,660.0" fill="#E1640E"/>
<polygon points="1032.0,700.0 1038.0,694.0 1044.0,693.0 1052.0,690.0 1059.0,692.0 1056.0,699.0 1050.0,704.0 1042.0,709.0 1037.0,713.0 1034.0,720.0 1029.0,721.0 1029.0,714.0 1032.0,710.0" fill="#D9D9D9"/>
<polygon points="1068.0,688.0 1072.0,682.0 1080.0,679.0 1088.0,682.0 1094.0,684.0 1090.0,692.0 1086.0,697.0 1087.0,702.0 1078.0,704.0 1072.0,711.0 1066.0,708.0 1064.0,702.0 1059.0,699.0 1060.0,692.0" fill="#FFFFE5"/>
<polygon points="1037.0,713.0 1042.0,709.0 1050.0,704.0 1056.0,699.0 1059.0,699.0 1064.0,702.0 1066.0,708.0 1072.0,711.0 1078.0,704.0 1076.0,712.0 1072.0,720.0 1062.0,725.0 1058.0,722.0 1048.0,722.0 1044.0,716.0 1038.0,714.0" fill="#FEE391"/>
<polygon points="1094.0,684.0 1100.0,680.0 1108.0,682.0 1114.0,690.0 1122.0,686.0 1126.0,680.0 1130.0,674.0 1132.0,672.0 1145.0,675.0 1146.0,690.0 1136.0,692.0 1128.0,695.0 1127.0,699.0 1120.0,702.0 1112.0,700.0 1106.0,698.0 1096.0,699.0 1087.0,702.0 1086.0,697.0 1090.0,692.0" fill="#FE9929"/>
<polygon points="1126.0,680.0 1130.0,674.0 1138.0,678.0 1148.0,680.0 1146.0,690.0 1136.0,692.0 1128.0,695.0 1122.0,686.0" fill="#FEB642"/>
<polygon points="1112.0,660.0 1144.0,660.0 1147.0,669.0 1145.0,675.0 1132.0,672.0 1130.0,674.0 1126.0,680.0 1122.0,686.0 1114.0,690.0 1108.0,682.0 1100.0,680.0 1108.0,672.0 1114.0,668.0" fill="#FEB642"/>
<polygon points="1087.0,702.0 1096.0,699.0 1106.0,698.0 1112.0,700.0 1120.0,702.0 1127.0,699.0 1134.0,703.0 1142.0,710.0 1146.0,718.0 1148.0,728.0 1147.0,734.0 1142.0,735.0 1132.0,732.0 1124.0,728.0 1118.0,734.0 1112.0,740.0 1108.0,748.0 1100.0,744.0 1092.0,742.0 1086.0,748.0 1080.0,752.0 1074.0,756.0 1068.0,754.0 1067.0,744.0 1062.0,736.0 1059.0,730.0 1062.0,725.0 1072.0,720.0 1076.0,712.0 1078.0,704.0" fill="#FECE65"/>
<polygon points="1074.0,756.0 1080.0,752.0 1086.0,748.0 1092.0,742.0 1100.0,744.0 1108.0,748.0 1112.0,740.0 1118.0,734.0 1124.0,728.0 1132.0,732.0 1142.0,735.0 1140.0,742.0 1138.0,750.0 1134.0,754.0 1128.0,762.0 1126.0,768.0 1118.0,774.0 1113.0,782.0 1110.0,778.0 1100.0,780.0 1096.0,776.0 1094.0,771.0 1088.0,776.0 1078.0,776.0 1076.0,766.0 1073.0,760.0" fill="#FFF0AE"/>
<polygon points="1112.0,740.0 1118.0,734.0 1124.0,728.0 1132.0,732.0 1142.0,735.0 1140.0,742.0 1138.0,750.0 1134.0,754.0 1128.0,762.0 1120.0,764.0 1114.0,756.0 1110.0,748.0" fill="#FFFACA"/>
<polygon points="1029.0,721.0 1034.0,720.0 1038.0,714.0 1044.0,716.0 1048.0,722.0 1058.0,722.0 1062.0,725.0 1059.0,730.0 1062.0,736.0 1067.0,744.0 1068.0,754.0 1060.0,760.0 1052.0,766.0 1046.0,762.0 1040.0,760.0 1032.0,754.0 1028.0,748.0 1022.0,744.0 1018.0,740.0 1024.0,732.0 1024.0,724.0" fill="#FEB642"/>
<polygon points="1038.0,714.0 1044.0,716.0 1046.0,720.0 1044.0,726.0 1047.0,734.0 1046.0,740.0 1038.0,742.0 1034.0,738.0 1036.0,728.0 1036.0,720.0" fill="#882F05"/>
<polygon points="970.0,728.0 980.0,726.0 988.0,724.0 994.0,722.0 1000.0,718.0 1008.0,717.0 1016.0,716.0 1024.0,710.0 1029.0,714.0 1029.0,721.0 1024.0,724.0 1024.0,732.0 1012.0,730.0 1000.0,732.0 990.0,736.0 980.0,736.0 972.0,738.0 968.0,734.0" fill="#FEE391"/>
<polygon points="968.0,780.0 976.0,774.0 988.0,772.0 1000.0,774.0 1008.0,780.0 1006.0,792.0 996.0,800.0 984.0,804.0 972.0,804.0 968.0,796.0" fill="#FFFFE5"/>
<polygon points="980.0,762.0 984.0,759.0 992.0,760.0 998.0,766.0 988.0,769.0 980.0,773.0 979.0,766.0" fill="#D9D9D9"/>
<polygon points="1068.0,754.0 1074.0,756.0 1073.0,760.0 1076.0,766.0 1078.0,776.0 1088.0,776.0 1094.0,771.0 1096.0,776.0 1100.0,780.0 1110.0,778.0 1113.0,782.0 1108.0,788.0 1104.0,796.0 1098.0,800.0 1096.0,808.0 1094.0,818.0 1098.0,824.0 1092.0,828.0 1086.0,830.0 1080.0,836.0 1074.0,844.0 1068.0,850.0 1060.0,854.0 1056.0,860.0 1050.0,868.0 1044.0,875.0 1038.0,876.0 1035.0,868.0 1034.0,860.0 1030.0,848.0 1020.0,842.0 1009.0,840.0 1012.0,832.0 1013.0,824.0 1016.0,816.0 1022.0,810.0 1024.0,800.0 1026.0,790.0 1032.0,786.0 1038.0,782.0 1036.0,772.0 1040.0,766.0 1046.0,762.0 1052.0,766.0 1060.0,760.0" fill="#FFF0AE"/>
<polygon points="1078.0,788.0 1080.0,782.0 1088.0,776.0 1094.0,771.0 1096.0,776.0 1100.0,780.0 1110.0,778.0 1113.0,782.0 1108.0,788.0 1104.0,796.0 1098.0,800.0 1092.0,798.0 1084.0,798.0 1076.0,804.0 1070.0,802.0 1070.0,794.0" fill="#FECE65"/>
<polygon points="1016.0,816.0 1024.0,814.0 1034.0,818.0 1044.0,820.0 1050.0,826.0 1046.0,836.0 1038.0,840.0 1030.0,846.0 1020.0,842.0 1009.0,840.0 1012.0,832.0 1013.0,824.0" fill="#FFFFE5"/>
<polygon points="1038.0,840.0 1046.0,838.0 1056.0,844.0 1060.0,854.0 1056.0,860.0 1050.0,868.0 1044.0,875.0 1038.0,876.0 1035.0,868.0 1034.0,860.0 1032.0,850.0" fill="#FEE391"/>
<polygon points="920.0,744.0 928.0,740.0 940.0,736.0 952.0,734.0 963.0,736.0 968.0,734.0 970.0,742.0 973.0,750.0 968.0,760.0 962.0,764.0 950.0,760.0 940.0,762.0 928.0,764.0 920.0,760.0" fill="#FEE391"/>
<polygon points="920.0,764.0 932.0,766.0 944.0,764.0 950.0,772.0 948.0,784.0 950.0,796.0 946.0,808.0 932.0,808.0 920.0,812.0" fill="#FFFFE5"/>
<polygon points="946.0,768.0 952.0,764.0 960.0,768.0 963.0,778.0 965.0,788.0 969.0,798.0 968.0,808.0 967.0,820.0 969.0,831.0 960.0,828.0 950.0,826.0 944.0,832.0 942.0,840.0 936.0,836.0 930.0,824.0 929.0,812.0 936.0,808.0 946.0,808.0 950.0,796.0 948.0,784.0 950.0,776.0" fill="#FEB642"/>
<polygon points="1020.0,878.0 1028.0,876.0 1034.0,878.0 1026.0,886.0 1020.0,888.0" fill="#FEE391"/>
<polygon points="1137.0,831.0 1142.0,834.0 1147.0,838.0 1145.0,848.0 1142.0,858.0 1139.0,870.0 1136.0,882.0 1132.0,890.0 1128.0,898.0 1124.0,904.0 1122.0,912.0 1120.0,918.0 1117.0,912.0 1115.0,906.0 1108.0,900.0 1105.0,892.0 1103.0,886.0 1105.0,878.0 1104.0,872.0 1109.0,862.0 1114.0,852.0 1120.0,844.0 1124.0,838.0 1130.0,834.0" fill="#FEE391"/>
<polygon points="1148.0,709.0 1152.0,706.4 1155.0,710.0 1154.4,714.4 1150.4,716.0 1148.4,713.0" fill="#F27E1B"/>
<polygon points="860.0,440.0 1010.0,440.0 1010.0,640.0 860.0,640.0" fill="#FE9929"/>
<polygon points="860.0,490.7 868.0,481.3 874.7,476.0 881.3,470.0 886.7,473.3 894.7,468.7 904.0,467.3 902.7,474.7 900.0,484.0 897.3,493.3 892.0,498.7 889.3,506.7 894.7,516.0 892.0,525.3 886.7,532.0 880.0,532.0 877.3,525.3 872.0,521.3 865.3,520.0 860.0,522.7" fill="#E1640E"/>
<polygon points="860.0,522.7 865.3,520.0 872.0,521.3 877.3,525.3 880.0,532.0 886.7,532.0 888.0,541.3 888.7,552.0 890.7,562.7 886.7,566.7 880.0,569.3 873.3,570.7 865.3,570.0 860.0,572.0" fill="#FEE391"/>
<polygon points="860.0,572.0 865.3,570.0 873.3,570.7 880.0,569.3 886.7,566.7 886.0,576.0 884.0,585.3 883.3,592.0 887.3,594.7 890.7,605.3 896.0,613.3 900.0,619.3 900.0,629.3 886.7,629.3 873.3,628.0 865.3,630.7 860.0,629.3" fill="#FEB642"/>
<polygon points="860.0,571.3 865.3,570.0 866.0,576.0 864.0,581.3 860.0,581.3" fill="#E1640E"/>
<polygon points="860.0,629.3 865.3,630.7 872.0,636.0 873.3,640.0 860.0,640.0" fill="#F27E1B"/>
<polygon points="865.3,630.7 873.3,628.0 886.7,629.3 900.0,629.3 905.3,636.0 908.0,640.0 873.3,640.0 872.0,636.0" fill="#E1640E"/>
<polygon points="904.0,467.3 910.7,464.7 921.3,465.3 924.0,472.0 929.3,476.7 937.3,477.3 945.3,472.0 957.3,471.3 965.3,470.7 966.7,478.7 962.7,485.3 958.0,492.0 953.3,494.7 945.3,497.3 940.0,500.0 926.7,500.0 916.0,502.7 911.3,505.3 913.3,509.3 921.3,512.0 929.3,518.7 924.0,522.7 918.7,528.0 914.7,533.3 909.3,536.0 904.0,534.7 897.3,536.0 889.3,535.3 886.7,532.0 892.0,525.3 894.7,516.0 889.3,506.7 892.0,498.7 897.3,493.3 900.0,484.0 902.7,474.7" fill="#FEB642"/>
<polygon points="897.3,440.0 926.7,440.0 929.3,448.0 925.3,454.7 922.7,461.3 921.3,465.3 910.7,464.7 908.0,457.3 904.0,449.3" fill="#FFFACA"/>
<polygon points="860.0,440.0 897.3,440.0 904.0,449.3 908.0,457.3 910.7,464.7 904.0,467.3 894.7,468.7 886.7,473.3 881.3,470.0 874.7,476.0 868.0,481.3 860.0,490.7" fill="#FEB642"/>
<polygon points="929.3,448.0 936.0,450.0 937.3,457.3 941.3,462.0 946.7,458.0 953.3,457.3 954.0,462.7 957.3,469.3 953.3,472.7 945.3,472.0 937.3,477.3 929.3,476.7 924.0,472.0 921.3,465.3 922.7,461.3 925.3,454.7" fill="#AA3C03"/>
<polygon points="926.7,440.0 969.3,440.0 965.3,445.3 953.3,446.7 945.3,446.7 940.0,450.0 936.0,450.0 929.3,448.0" fill="#E1640E"/>
<polygon points="936.0,450.0 940.0,450.0 945.3,446.7 953.3,446.7 965.3,445.3 969.3,440.0 973.3,440.0 974.0,445.3 968.0,450.0 966.0,454.7 972.0,453.3 977.3,458.7 980.0,466.7 977.3,474.7 976.0,478.7 966.7,478.7 965.3,470.7 957.3,471.3 957.3,469.3 954.0,462.7 953.3,457.3 946.7,458.0 941.3,462.0 937.3,457.3" fill="#FE9929"/>
<polygon points="973.3,440.0 1010.0,440.0 1010.0,450.7 1001.3,453.3 1000.0,460.0 993.3,462.7 986.7,465.3 980.0,466.7 977.3,458.7 972.0,453.3 966.0,454.7 968.0,450.0 974.0,445.3" fill="#E1640E"/>
<polygon points="1001.3,453.3 1010.0,450.7 1010.0,468.0 1004.0,466.0 1000.0,460.0" fill="#FE9929"/>
<polygon points="980.0,466.7 986.7,465.3 993.3,462.7 1000.0,460.0 1004.0,466.0 1010.0,468.0 1010.0,493.3 1006.7,496.0 1000.0,498.7 993.3,496.0 988.0,498.7 980.0,493.3 974.7,489.3 966.7,488.0 962.7,485.3 966.7,478.7 976.0,478.7 977.3,474.7" fill="#FE9929"/>
<polygon points="958.0,492.0 962.7,485.3 966.7,488.0 974.7,489.3 980.0,493.3 988.0,498.7 993.3,496.0 1000.0,498.7 1000.7,504.0 996.0,509.3 990.7,512.0 985.3,514.7 980.0,517.3 974.7,520.0 970.7,517.3 966.7,506.7 961.3,500.0 957.3,496.0" fill="#FECE65"/>
<polygon points="970.7,517.3 974.7,520.0 980.0,517.3 985.3,514.7 990.7,512.0 996.0,509.3 1000.7,504.0 1000.0,498.7 1006.7,496.0 1010.0,493.3 1010.0,533.3 1005.3,536.0 1000.0,541.3 997.3,546.7 1000.0,554.7 992.0,553.3 986.7,556.0 977.3,553.3 969.3,549.3 961.3,548.0 956.7,539.3 962.7,533.3 965.3,525.3" fill="#FEB642"/>
<polygon points="958.0,492.0 957.3,496.0 961.3,500.0 966.7,506.7 970.7,517.3 965.3,525.3 962.7,533.3 956.7,539.3 952.0,533.3 945.3,534.7 938.7,532.0 936.0,529.3 932.0,530.7 924.0,533.3 918.7,540.0 913.3,538.7 909.3,536.0 914.7,533.3 918.7,528.0 924.0,522.7 929.3,518.7 921.3,512.0 913.3,509.3 911.3,505.3 916.0,502.7 926.7,500.0 940.0,500.0 945.3,497.3 953.3,494.7" fill="#FFF0AE"/>
<polygon points="911.3,505.3 916.0,502.7 926.7,500.0 940.0,500.0 945.3,497.3 945.3,504.0 940.0,509.3 936.0,516.0 929.3,518.7 921.3,512.0 913.3,509.3" fill="#FEE391"/>
<polygon points="889.3,535.3 897.3,536.0 904.0,534.7 909.3,536.0 913.3,538.7 918.7,540.0 922.7,541.3 926.7,546.7 932.0,552.0 934.7,556.0 929.3,558.7 922.7,560.0 920.0,566.7 918.7,572.0 913.3,568.0 906.7,566.7 904.0,562.7 898.7,564.0 892.0,566.7 890.7,562.7 888.7,552.0 888.0,541.3" fill="#F27E1B"/>
<polygon points="924.0,533.3 932.0,530.7 936.0,529.3 938.7,532.0 945.3,534.7 952.0,533.3 956.7,539.3 961.3,548.0 960.0,554.7 959.3,562.0 953.3,560.0 946.7,557.3 940.0,556.0 934.7,556.0 932.0,552.0 926.7,546.7 922.7,541.3 918.7,540.0" fill="#AA3C03"/>
<polygon points="922.7,560.0 929.3,558.7 934.7,556.0 940.0,556.0 946.7,557.3 953.3,560.0 959.3,562.0 958.7,566.7 953.3,570.7 946.7,574.7 940.0,578.7 938.7,577.3 924.0,576.7 918.7,572.0 920.0,566.7" fill="#FE9929"/>
<polygon points="924.0,577.3 938.7,577.3 939.3,580.7 936.0,584.7 929.3,585.3 925.3,582.7" fill="#882F05"/>
<polygon points="892.0,566.7 898.7,564.0 904.0,562.7 906.7,566.7 913.3,568.0 918.7,572.0 924.0,576.7 921.3,581.3 913.3,585.3 905.3,589.3 896.0,593.3 887.3,594.0 883.3,592.0 884.0,585.3 886.0,576.0 886.7,566.7" fill="#FEE391"/>
<polygon points="887.3,594.7 896.0,593.3 905.3,589.3 913.3,585.3 921.3,581.3 922.7,588.0 917.3,592.0 910.7,594.7 904.0,598.7 905.3,605.3 908.0,609.3 904.0,616.0 900.0,619.3 896.0,613.3 890.7,605.3" fill="#AA3C03"/>
<polygon points="921.3,581.3 925.3,582.7 929.3,585.3 936.0,584.7 941.3,586.7 940.0,593.3 936.0,600.0 934.7,608.0 929.3,613.3 924.0,617.3 918.7,618.7 913.3,613.3 908.0,609.3 905.3,605.3 904.0,598.7 910.7,594.7 917.3,592.0 922.7,588.0" fill="#FECE65"/>
<polygon points="961.3,548.0 969.3,549.3 977.3,553.3 986.7,556.0 992.0,553.3 1000.0,554.7 998.7,562.7 993.3,570.7 988.0,576.0 986.7,581.3 980.0,578.7 973.3,577.3 966.7,574.7 958.7,573.3 953.3,570.7 958.7,566.7 959.3,562.0 960.0,554.7" fill="#FECE65"/>
<polygon points="968.7,558.7 972.0,556.7 976.0,560.0 983.3,564.0 980.0,568.0 976.0,572.0 970.7,568.0 968.7,564.0" fill="#FFFACA"/>
<polygon points="940.0,578.7 946.7,574.7 953.3,570.7 958.7,573.3 966.7,574.7 973.3,577.3 980.0,578.7 986.7,581.3 993.3,586.7 998.7,588.0 1001.3,594.7 1010.0,593.3 1010.0,606.7 1004.0,608.0 1001.3,613.3 1004.0,618.7 997.3,621.3 994.7,629.3 988.0,632.0 990.7,640.0 908.0,640.0 905.3,636.0 900.0,629.3 900.0,619.3 904.0,616.0 908.0,609.3 913.3,613.3 918.7,618.7 924.0,617.3 929.3,613.3 934.7,608.0 936.0,600.0 940.0,593.3 941.3,586.7 936.0,584.7 939.3,580.7" fill="#F27E1B"/>
<polygon points="940.0,593.3 946.7,597.3 953.3,600.0 961.3,598.7 969.3,600.0 974.7,606.7 977.3,616.0 976.0,626.7 972.0,633.3 966.7,640.0 908.0,640.0 905.3,636.0 900.0,629.3 900.0,619.3 904.0,616.0 908.0,609.3 913.3,613.3 918.7,618.7 924.0,617.3 929.3,613.3 934.7,608.0 936.0,600.0" fill="#FE9929"/>
<polygon points="1000.0,554.7 1010.0,549.3 1010.0,593.3 1001.3,594.7 998.7,588.0 993.3,586.7 986.7,581.3 988.0,576.0 993.3,570.7 998.7,562.7" fill="#FEB642"/>
<polygon points="1010.0,533.3 1010.0,549.3 1000.0,554.7 997.3,546.7 1000.0,541.3 1005.3,536.0" fill="#F27E1B"/>
<polygon points="1010.0,606.7 1010.0,640.0 990.7,640.0 988.0,632.0 994.7,629.3 997.3,621.3 1004.0,618.7 1001.3,613.3 1004.0,608.0" fill="#E1640E"/>
<polygon points="654.0,838.0 660.0,839.0 664.0,846.0 662.0,860.0 660.0,872.0 654.0,880.0 644.0,886.0 640.0,887.0 629.0,886.0 628.0,876.0 624.0,867.0 628.0,862.0 624.0,861.0 632.0,858.0 640.0,856.0 648.0,846.0" fill="#D9D9D9"/>
<polygon points="676.0,808.0 688.0,800.0 695.0,811.0 700.0,808.0 706.0,812.0 706.0,824.0 704.0,836.0 700.0,840.0 696.0,848.0 688.0,856.0 682.0,856.0 676.0,846.0 670.0,840.0 672.0,832.0 676.0,822.0 674.0,810.0" fill="#D9D9D9"/>
<polygon points="670.0,840.0 676.0,846.0 682.0,856.0 686.0,866.0 692.0,878.0 698.0,880.0 695.0,888.0 698.0,896.0 706.0,900.0 697.0,902.0 690.0,908.0 688.0,920.0 680.0,904.0 672.0,900.0 662.0,904.0 658.0,912.0 654.0,920.0 648.0,914.0 636.0,912.0 639.0,900.0 643.0,892.0 640.0,887.0 644.0,886.0 654.0,880.0 660.0,872.0 662.0,860.0 664.0,846.0 660.0,839.0" fill="#FEE391"/>
<polygon points="658.0,912.0 662.0,904.0 672.0,900.0 680.0,904.0 688.0,920.0 654.0,920.0" fill="#D9D9D9"/>
<polygon points="696.0,848.0 700.0,840.0 704.0,841.0 705.0,850.0 710.0,852.0 718.0,848.0 720.0,841.0 722.0,848.0 723.0,860.0 716.0,863.0 708.0,866.0 702.0,868.0 705.0,876.0 700.0,880.0 693.0,878.0 686.0,866.0 682.0,856.0 688.0,856.0" fill="#FE9929"/>
<polygon points="723.0,860.0 722.0,848.0 730.0,846.0 736.0,846.0 742.0,850.0 736.0,858.0 734.0,868.0 738.0,878.0 740.0,888.0 742.0,895.0 740.0,895.0 734.0,900.0 728.0,895.0 722.0,904.0 716.0,900.0 708.0,896.0 706.0,900.0 698.0,896.0 695.0,888.0 698.0,880.0 700.0,880.0 705.0,876.0 702.0,868.0 708.0,866.0 716.0,863.0" fill="#D9D9D9"/>
<polygon points="742.0,850.0 750.0,854.0 758.0,856.0 768.0,858.0 774.0,864.0 784.0,862.0 792.0,868.0 788.0,878.0 780.0,882.0 778.0,882.0 768.0,884.0 760.0,891.0 752.0,894.0 744.0,898.0 742.0,895.0 740.0,888.0 738.0,878.0 734.0,868.0 736.0,858.0" fill="#FFF0AE"/>
<polygon points="706.0,812.0 712.0,804.0 721.0,801.0 728.0,806.0 730.0,820.0 728.0,832.0 730.0,840.0 730.0,846.0 722.0,848.0 720.0,841.0 718.0,848.0 710.0,852.0 705.0,850.0 704.0,841.0 704.0,836.0 706.0,824.0" fill="#FEE391"/>
<polygon points="686.0,782.0 702.0,786.0 700.0,800.0 695.0,811.0 688.0,800.0 684.0,792.0" fill="#FEE391"/>
<polygon points="720.0,728.0 728.0,716.0 740.0,714.0 750.0,720.0 748.0,732.0 740.0,740.0 730.0,748.0 722.0,744.0" fill="#FFFFE5"/>
<polygon points="660.0,768.0 668.0,765.0 676.0,778.0 684.0,792.0 688.0,800.0 680.0,804.0 674.0,810.0 670.0,808.0 664.0,812.0 662.0,800.0 652.0,796.0 656.0,780.0" fill="#FEE391"/>
<polygon points="652.0,796.0 662.0,800.0 664.0,812.0 670.0,808.0 674.0,810.0 676.0,822.0 672.0,832.0 670.0,840.0 660.0,839.0 654.0,838.0 650.0,820.0" fill="#FFF0AE"/>
<polygon points="646.0,742.0 654.0,750.0 660.0,768.0 656.0,780.0 650.0,782.0 649.0,760.0" fill="#D9D9D9"/>
<polygon points="653.0,915.0 655.0,910.0 662.0,904.0 670.0,900.5 680.0,900.0 686.0,901.0 689.0,906.0 689.0,910.0 690.0,916.0 693.0,919.0 694.5,924.0 693.5,930.0 694.5,935.0 692.0,937.5 689.0,936.0 685.0,935.5 680.5,936.0 681.0,931.0 680.0,926.0 678.0,921.5 674.0,924.0 670.0,927.0 665.5,929.5 662.0,928.0 656.5,928.5 655.0,924.0 652.5,920.0" fill="#D9D9D9"/>
<polygon points="924.0,853.0 922.0,845.0 926.0,836.0 934.0,834.0 942.0,840.0 946.0,830.0 956.0,828.0 967.0,826.0 974.0,830.0 983.0,831.0 984.0,836.0 976.0,840.0 973.0,848.0 980.0,850.0 992.0,847.0 1000.0,846.0 1008.0,849.0 1010.0,842.0 1016.0,841.0 1030.0,848.0 1034.0,860.0 1038.0,870.0 1050.0,875.0 1038.0,877.0 1034.0,880.0 1026.0,886.0 1016.0,892.0 1008.0,894.0 1004.0,898.0 996.0,894.0 990.0,898.0 982.0,896.0 978.0,904.0 970.0,900.0 965.0,908.0 962.0,898.0 959.0,906.0 952.0,914.0 948.0,913.0 942.0,924.0 936.0,925.0 930.0,921.0 924.0,924.0 918.0,925.0 910.0,928.0 902.0,930.0 894.0,933.0 890.0,928.0 886.0,919.0 888.0,914.0 894.0,909.0 894.0,904.0 898.0,900.0 902.0,896.0 910.0,891.0 909.0,886.0 912.0,876.0 916.0,868.0 920.0,862.0" fill="#FFFACA"/>
<polygon points="886.0,919.0 890.0,928.0 894.0,933.0 902.0,930.0 910.0,928.0 918.0,925.0 924.0,924.0 926.0,916.0 922.0,908.0 926.0,900.0 934.0,896.0 938.0,888.0 936.0,880.0 930.0,876.0 926.0,868.0 930.0,860.0 936.0,854.0 942.0,850.0 950.0,848.0 962.0,854.0 964.0,864.0 962.0,872.0 958.0,880.0 950.0,884.0 942.0,894.0 934.0,896.0 926.0,900.0 910.0,891.0 902.0,896.0 898.0,900.0 894.0,904.0 894.0,909.0 888.0,914.0" fill="#FFFFE5"/>
<polygon points="970.0,868.0 978.0,866.0 986.0,872.0 996.0,880.0 990.0,886.0 982.0,888.0 974.0,886.0 966.0,890.0 964.0,880.0" fill="#FFFFE5"/>
<polygon points="926.0,900.0 934.0,896.0 942.0,894.0 950.0,896.0 958.0,898.0 959.0,906.0 952.0,914.0 948.0,913.0 942.0,924.0 936.0,925.0 930.0,921.0 924.0,912.0 923.0,906.0" fill="#FFF0AE"/>
<polygon points="948.0,896.0 958.0,898.0 959.0,906.0 952.0,914.0 948.0,913.0 947.0,904.0" fill="#FEE391"/>
<polygon points="1019.0,880.0 1026.0,875.0 1034.0,874.0 1034.0,880.0 1026.0,886.0 1020.0,887.0" fill="#FEE391"/>
<polygon points="847.0,984.0 850.0,980.0 858.0,974.0 862.0,969.0 874.0,967.0 886.0,964.0 894.0,962.4 899.0,966.0 902.0,975.0 898.0,980.0 893.0,986.0 891.0,997.0 882.0,1004.0 878.0,1009.0 872.0,1013.0 864.0,1012.0 854.0,1008.0 848.0,1004.0 847.0,992.0" fill="#FECE65"/>
<polygon points="755.0,847.0 768.0,840.0 778.0,844.0 792.0,844.0 802.0,836.0 806.0,840.0 805.0,848.0 808.0,858.0 820.0,866.0 830.0,872.0 826.0,876.0 819.0,886.0 820.0,892.0 832.0,896.0 834.0,906.0 826.0,912.0 823.0,920.0 822.0,925.0 816.0,922.0 810.0,918.0 804.0,916.0 803.0,908.0 801.0,902.0 806.0,894.0 798.0,891.0 790.0,892.0 780.0,887.0 778.0,884.0 788.0,878.0 792.0,866.0 788.0,862.0 776.0,862.0 768.0,856.0 760.0,853.0 756.0,850.0" fill="#D9D9D9"/>
<polygon points="802.0,836.0 810.0,832.0 814.0,825.0 822.0,832.0 830.0,833.0 838.0,827.0 846.0,830.0 848.0,835.0 856.0,836.0 854.0,846.0 848.0,854.0 842.0,864.0 830.0,872.0 820.0,866.0 808.0,858.0 805.0,848.0 806.0,840.0" fill="#FECE65"/>
<polygon points="846.0,830.0 850.0,822.0 858.0,819.0 862.0,814.0 870.0,812.0 874.0,815.0 878.0,809.0 890.0,807.0 896.0,804.0 902.0,806.0 906.0,816.0 910.0,818.0 906.0,826.0 902.0,833.0 900.0,839.0 902.0,846.0 900.0,854.0 890.0,856.0 880.0,854.0 870.0,860.0 864.0,866.0 858.0,860.0 852.0,856.0 848.0,854.0 854.0,846.0 856.0,836.0 848.0,835.0" fill="#FFFFE5"/>
<polygon points="900.0,839.0 908.0,836.0 910.0,844.0 916.0,846.0 922.0,845.0 924.0,853.0 920.0,862.0 916.0,868.0 908.0,866.0 902.0,868.0 894.0,860.0 888.0,862.0 886.0,868.0 890.0,876.0 894.0,888.0 898.0,900.0 894.0,904.0 894.0,909.0 888.0,914.0 886.0,919.0 878.0,920.0 874.0,925.0 872.0,926.0 862.0,930.0 858.0,928.0 850.0,924.0 856.0,918.0 866.0,918.0 870.0,906.0 874.0,902.0 869.0,898.0 862.0,888.0 854.0,878.0 848.0,870.0 842.0,864.0 848.0,854.0 852.0,856.0 858.0,860.0 864.0,866.0 870.0,860.0 880.0,854.0 890.0,856.0 900.0,854.0 902.0,846.0" fill="#D9D9D9"/>
<polygon points="888.0,862.0 894.0,860.0 902.0,868.0 908.0,866.0 916.0,868.0 912.0,876.0 909.0,886.0 910.0,891.0 902.0,896.0 898.0,900.0 894.0,888.0 890.0,876.0 886.0,868.0" fill="#FFF0AE"/>
<polygon points="830.0,872.0 842.0,864.0 848.0,870.0 854.0,878.0 862.0,888.0 869.0,898.0 862.0,900.0 854.0,903.0 844.0,904.0 838.0,909.0 834.0,906.0 832.0,896.0 820.0,892.0 819.0,886.0 826.0,876.0" fill="#FFFFE5"/>
<polygon points="869.0,898.0 874.0,902.0 870.0,906.0 866.0,918.0 856.0,918.0 850.0,924.0 844.0,920.0 840.0,916.0 838.0,909.0 844.0,904.0 854.0,903.0 862.0,900.0" fill="#FEB642"/>
<polygon points="834.0,906.0 838.0,909.0 840.0,916.0 844.0,920.0 845.0,925.0 838.0,928.0 830.0,925.0 822.0,925.0 823.0,920.0 826.0,912.0" fill="#882F05"/>
<polygon points="872.0,926.0 878.0,920.0 886.0,919.0 890.0,928.0 894.0,933.0 890.0,938.0 888.0,944.0 890.0,950.0 892.0,956.0 888.0,959.0 878.0,961.0 875.0,958.0 876.0,952.0 872.0,946.0 870.0,940.0 873.0,931.0" fill="#D9D9D9"/>
<polygon points="902.0,806.0 906.0,816.0 910.0,818.0 906.0,826.0 902.0,833.0 900.0,839.0 908.0,836.0 910.0,844.0 916.0,846.0 922.0,845.0 926.0,836.0 934.0,834.0 938.0,834.0 932.0,828.0 929.0,820.0 930.0,810.0 930.0,800.0 898.0,800.0" fill="#FFFACA"/>
<polygon points="930.0,810.0 938.0,808.0 948.0,806.0 952.0,800.0 970.0,800.0 969.0,806.0 972.0,809.0 967.0,812.0 967.0,826.0 956.0,828.0 946.0,830.0 942.0,840.0 938.0,834.0 932.0,828.0 929.0,820.0" fill="#FEB642"/>
<polygon points="970.0,800.0 1026.0,800.0 1020.0,808.0 1014.0,816.0 1012.0,826.0 1010.0,834.0 1010.0,842.0 1008.0,849.0 1000.0,846.0 992.0,847.0 980.0,850.0 973.0,848.0 976.0,840.0 984.0,836.0 983.0,831.0 974.0,830.0 967.0,826.0 967.0,812.0 972.0,809.0 969.0,806.0" fill="#FFFACA"/>
<polygon points="1026.0,800.0 1050.0,800.0 1050.0,875.0 1038.0,870.0 1034.0,860.0 1030.0,848.0 1016.0,841.0 1010.0,842.0 1010.0,834.0 1012.0,826.0 1014.0,816.0 1020.0,808.0" fill="#FFFACA"/>
<polygon points="1036.0,840.0 1044.0,836.0 1050.0,834.0 1050.0,872.0 1040.0,870.0 1036.0,860.0 1034.0,850.0" fill="#FEE391"/>
<polygon points="860.0,620.0 1060.0,620.0 1060.0,820.0 860.0,820.0" fill="#FFFACA"/>
<polygon points="860.0,620.0 998.7,620.0 993.3,626.7 988.0,632.0 993.3,637.3 994.7,644.0 1004.0,646.7 1010.0,646.0 1011.3,653.3 1010.7,661.3 1004.0,666.7 999.3,672.0 993.3,673.3 991.3,670.7 984.0,672.0 980.0,668.0 974.7,665.3 969.3,664.0 964.0,661.3 962.7,656.0 962.0,650.0 956.0,652.7 950.7,650.0 940.0,649.3 932.0,650.7 924.0,648.7 916.0,644.7 912.0,644.7 908.0,638.7 904.0,632.0 900.0,628.7 886.7,629.3 873.3,628.7 866.7,630.7 860.0,630.7" fill="#FE9929"/>
<polygon points="860.0,620.0 900.0,620.0 900.0,628.7 886.7,629.3 873.3,628.7 866.7,630.7 860.0,630.7" fill="#F27E1B"/>
<polygon points="958.7,620.0 973.3,620.0 980.0,625.3 986.7,630.7 988.0,632.0 993.3,637.3 993.3,642.7 986.7,644.0 980.0,648.0 974.7,646.7 966.7,644.0 958.7,642.7 950.7,640.0 948.0,634.7 953.3,630.7 958.7,626.7" fill="#FEB642"/>
<polygon points="974.7,620.0 998.7,620.0 993.3,626.7 988.0,632.0 984.0,628.0 978.7,624.0" fill="#F27E1B"/>
<polygon points="866.7,630.7 873.3,628.7 886.7,629.3 900.0,628.7 904.0,632.0 908.0,638.7 912.0,644.7 908.0,649.3 904.0,653.3 901.3,658.7 897.3,662.7 890.7,664.0 884.0,666.7 878.7,672.0 873.3,668.0 869.3,664.0 867.3,657.3 868.0,649.3 868.0,644.7 876.0,644.0 881.3,642.7 882.0,638.7 876.0,637.3 872.0,633.3" fill="#E1640E"/>
<polygon points="860.0,630.7 866.7,630.7 872.0,633.3 876.0,637.3 882.0,638.7 881.3,642.7 876.0,644.0 868.0,644.7 868.0,649.3 867.3,657.3 869.3,664.0 860.0,666.0" fill="#F27E1B"/>
<polygon points="878.7,672.0 884.0,666.7 890.7,664.0 897.3,664.7 898.7,669.3 894.7,672.7 886.7,674.7 881.3,676.0" fill="#D9D9D9"/>
<polygon points="860.0,666.0 869.3,664.0 873.3,668.0 878.7,672.0 881.3,676.0 881.3,681.3 880.0,689.3 873.3,690.7 865.3,696.0 860.0,698.7" fill="#FEE391"/>
<polygon points="998.7,620.0 1009.3,620.0 1020.0,624.0 1028.0,626.7 1028.0,637.3 1024.0,645.3 1028.0,653.3 1028.0,660.0 1033.3,664.0 1037.3,670.7 1037.3,678.7 1033.3,680.0 1025.3,682.7 1017.3,684.0 1013.3,686.7 1009.3,682.7 1004.0,677.3 999.3,672.0 1004.0,666.7 1010.7,661.3 1011.3,653.3 1010.0,646.0 1004.0,646.7 994.7,644.0 993.3,637.3 988.0,632.0 993.3,626.7" fill="#FE9929"/>
<polygon points="1009.3,620.0 1060.0,620.0 1060.0,664.0 1056.0,665.3 1057.3,670.7 1052.0,673.3 1049.3,678.7 1044.0,681.3 1037.3,678.7 1037.3,670.7 1033.3,664.0 1028.0,660.0 1028.0,653.3 1024.0,645.3 1028.0,637.3 1028.0,626.7 1020.0,624.0" fill="#E1640E"/>
<polygon points="1030.7,628.0 1037.3,624.0 1046.7,622.7 1057.3,626.7 1060.0,628.0 1060.0,634.7 1053.3,637.3 1046.7,638.7 1041.3,644.0 1034.7,645.3 1030.7,640.0 1029.3,633.3" fill="#CC4C02"/>
<polygon points="1041.3,644.0 1046.7,638.7 1053.3,637.3 1060.0,634.7 1060.0,664.0 1056.0,665.3 1057.3,670.7 1052.0,673.3 1049.3,678.7 1046.7,673.3 1040.0,666.7 1036.0,660.0 1037.3,652.0" fill="#FE9929"/>
<polygon points="1037.3,678.7 1044.0,681.3 1049.3,678.7 1052.0,673.3 1057.3,670.7 1060.0,673.3 1060.0,685.3 1054.7,682.7 1049.3,684.0 1044.0,682.7 1037.3,685.3" fill="#CC4C02"/>
<polygon points="1037.3,685.3 1044.0,682.7 1049.3,684.0 1054.7,682.7 1060.0,685.3 1060.0,690.7 1052.0,692.0 1044.0,692.7 1038.7,690.7" fill="#AA3C03"/>
<polygon points="1033.3,700.0 1038.7,697.3 1044.0,694.7 1052.0,692.7 1060.0,690.7 1060.0,697.3 1056.0,702.7 1049.3,705.3 1044.0,708.0 1038.7,712.0 1036.0,717.3 1032.0,721.3 1028.7,719.3 1032.0,713.3 1032.0,708.0 1030.7,704.0" fill="#D9D9D9"/>
<polygon points="1013.3,686.7 1017.3,684.0 1025.3,682.7 1033.3,680.0 1037.3,678.7 1037.3,685.3 1038.7,690.7 1044.0,694.7 1038.7,697.3 1033.3,700.0 1030.7,704.0 1032.0,708.0 1026.7,709.3 1020.0,713.3 1015.3,715.3 1014.7,708.0 1012.0,701.3 1008.0,694.7 1009.3,689.3" fill="#FECE65"/>
<polygon points="980.0,668.0 984.0,672.0 991.3,670.7 993.3,673.3 999.3,672.0 1004.0,677.3 1009.3,682.7 1013.3,686.7 1009.3,689.3 1008.0,694.7 1012.0,701.3 1014.7,708.0 1015.3,715.3 1009.3,718.7 1001.3,716.0 993.3,722.7 988.0,722.7 985.3,716.0 980.0,712.0 976.0,710.7 969.3,705.3 965.3,704.0 966.7,698.7 970.7,694.7 972.0,686.7 973.3,677.3 977.3,673.3" fill="#FECE65"/>
<polygon points="980.0,700.0 984.0,694.7 989.3,697.3 992.0,702.7 988.0,706.7 984.0,710.7 979.3,708.0" fill="#FFFFE5"/>
<polygon points="984.0,710.7 988.0,706.7 992.0,702.7 997.3,710.7 1000.0,715.3 993.3,722.7 988.0,722.7 985.3,716.0" fill="#FFF0AE"/>
<polygon points="912.0,644.7 916.0,644.7 924.0,648.7 932.0,650.7 940.0,649.3 950.7,650.0 956.0,652.7 962.0,650.0 962.7,656.0 964.0,661.3 969.3,664.0 974.7,665.3 980.0,668.0 977.3,673.3 973.3,677.3 972.0,686.7 970.7,694.7 966.7,698.7 965.3,704.0 969.3,705.3 976.0,710.7 970.7,712.0 965.3,712.0 958.7,715.3 954.7,720.0 950.7,724.0 945.3,721.3 943.3,716.7 937.3,720.0 929.3,721.3 924.0,716.0 916.0,713.3 908.0,710.7 897.3,707.3 889.3,710.7 892.0,716.0 886.7,720.0 881.3,717.3 873.3,716.0 868.0,721.3 864.0,729.3 860.0,732.0 860.0,698.7 865.3,696.0 873.3,690.7 880.0,689.3 881.3,681.3 881.3,676.0 886.7,674.7 894.7,672.7 898.7,669.3 897.3,664.7 897.3,662.7 901.3,658.7 904.0,653.3 908.0,649.3" fill="#FFF0AE"/>
<polygon points="881.3,676.0 886.7,674.7 894.7,672.7 900.0,673.3 910.7,676.0 918.7,678.7 922.7,686.7 920.0,697.3 913.3,705.3 908.0,710.7 897.3,707.3 889.3,710.7 892.0,716.0 886.7,720.0 881.3,717.3 873.3,716.0 868.0,721.3 864.0,729.3 860.0,732.0 860.0,698.7 865.3,696.0 873.3,690.7 880.0,689.3 881.3,681.3" fill="#FFFACA"/>
<polygon points="945.3,650.7 956.0,652.7 962.0,650.0 962.7,656.0 964.0,661.3 969.3,664.0 974.7,665.3 980.0,668.0 977.3,673.3 973.3,677.3 972.0,686.7 970.7,694.7 966.7,698.7 965.3,704.0 969.3,705.3 976.0,710.7 970.7,712.0 965.3,712.0 958.7,715.3 954.7,720.0 950.7,724.0 945.3,721.3 943.3,716.7 937.3,720.0 929.3,721.3 924.0,716.0 916.0,713.3 913.3,705.3 920.0,697.3 922.7,686.7 921.3,678.7 926.7,673.3 934.7,670.7 940.0,665.3 942.7,658.7" fill="#FEE391"/>
<polygon points="953.3,676.0 958.7,673.3 966.7,670.7 972.0,665.3 977.3,669.3 977.3,673.3 973.3,677.3 972.0,686.7 970.7,694.7 966.7,698.7 961.3,700.0 956.0,700.0 950.7,700.0 945.3,697.3 940.0,694.7 936.7,692.0 942.7,690.7 950.7,686.7 954.7,682.7" fill="#FEB642"/>
<polygon points="936.7,692.0 942.7,690.7 950.7,686.7 954.7,689.3 956.0,697.3 952.0,700.0 945.3,697.3 940.0,694.7" fill="#FE9929"/>
<polygon points="958.7,715.3 965.3,712.0 970.7,712.0 976.0,710.7 980.0,712.0 985.3,716.0 988.0,722.7 984.0,725.3 977.3,728.0 972.0,730.7 966.7,734.7 961.3,733.3 959.3,728.0 961.3,722.7 959.3,718.7" fill="#FE9929"/>
<polygon points="988.0,722.7 993.3,722.7 1001.3,716.0 1009.3,718.7 1015.3,715.3 1020.0,713.3 1026.7,709.3 1032.0,708.0 1032.0,713.3 1028.7,719.3 1025.3,722.7 1022.7,729.3 1020.0,736.0 1013.3,734.7 1006.7,734.7 998.7,736.0 993.3,737.3 988.0,740.0 982.7,742.7 976.0,742.7 970.7,740.0 966.7,734.7 972.0,730.7 977.3,728.0 984.0,725.3" fill="#FEE391"/>
<polygon points="1025.3,722.7 1028.7,719.3 1032.0,721.3 1036.0,717.3 1038.7,713.3 1046.7,716.0 1049.3,721.3 1060.0,722.7 1060.0,761.3 1053.3,764.0 1046.7,765.3 1041.3,761.3 1038.7,756.0 1032.0,754.7 1028.0,748.0 1022.7,744.0 1018.7,740.0 1020.0,736.0 1022.7,729.3" fill="#FEB642"/>
<polygon points="1037.3,714.7 1042.7,713.3 1046.0,717.3 1046.7,722.7 1049.3,722.7 1045.3,726.7 1045.3,733.3 1046.7,738.7 1041.3,742.7 1036.0,740.0 1034.0,737.3 1036.0,730.7 1036.0,722.7" fill="#882F05"/>
<polygon points="1032.0,754.7 1038.7,748.0 1046.7,746.7 1053.3,750.7 1060.0,748.0 1060.0,761.3 1053.3,764.0 1046.7,765.3 1041.3,761.3 1038.7,756.0" fill="#FECE65"/>
<polygon points="970.7,740.0 976.0,742.7 982.7,742.7 988.0,740.0 993.3,737.3 998.7,736.0 1006.7,734.7 1013.3,734.7 1020.0,736.0 1018.7,740.0 1022.7,744.0 1028.0,748.0 1032.0,754.7 1038.7,756.0 1041.3,761.3 1046.7,765.3 1041.3,766.7 1036.0,770.7 1037.3,777.3 1037.3,784.0 1032.0,788.0 1025.3,792.0 1026.7,800.0 1022.7,806.7 1020.0,814.7 1016.0,820.0 966.7,820.0 969.3,812.0 970.7,806.7 966.7,798.7 965.3,790.7 964.0,782.7 960.0,777.3 958.7,772.0 962.7,765.3 966.7,761.3 973.3,753.3 970.7,746.7" fill="#FFFACA"/>
<polygon points="973.3,764.0 980.0,761.3 993.3,762.7 1004.0,765.3 1008.0,772.0 1009.3,782.7 1006.7,793.3 1000.0,804.0 990.7,810.7 980.0,814.7 970.7,820.0 969.3,812.0 970.7,806.7 966.7,798.7 965.3,790.7 966.7,780.0 970.7,772.0" fill="#FFFFE5"/>
<polygon points="980.0,762.7 984.0,759.3 990.7,761.3 997.3,765.3 994.7,768.0 988.0,770.7 981.3,773.3 978.7,768.0" fill="#D9D9D9"/>
<polygon points="1026.7,800.0 1025.3,792.0 1032.0,788.0 1037.3,784.0 1037.3,777.3 1036.0,770.7 1041.3,766.7 1046.7,765.3 1053.3,764.0 1060.0,761.3 1060.0,820.0 1016.0,820.0 1020.0,814.7 1022.7,806.7" fill="#FFF0AE"/>
<polygon points="889.3,710.7 897.3,707.3 908.0,710.7 916.0,713.3 924.0,716.0 929.3,721.3 926.7,729.3 929.3,740.0 924.0,745.3 910.7,748.0 900.0,752.0 896.0,754.7 898.7,761.3 910.7,758.7 921.3,761.3 934.7,760.0 945.3,764.0 945.3,772.0 944.0,780.0 948.0,790.7 949.3,798.7 948.0,805.3 940.0,808.0 932.0,809.3 928.0,813.3 930.7,820.0 910.7,820.0 905.3,809.3 900.0,804.0 892.0,805.3 886.7,810.7 876.0,809.3 870.7,814.7 865.3,816.0 860.0,820.0 860.0,774.7 865.3,772.0 862.7,764.0 861.3,752.0 860.0,746.7 860.0,732.0 864.0,729.3 868.0,721.3 873.3,716.0 881.3,717.3 886.7,720.0 892.0,716.0" fill="#FFFFE5"/>
<polygon points="929.3,721.3 937.3,720.0 943.3,716.7 945.3,721.3 950.7,724.0 954.7,720.0 959.3,718.7 961.3,722.7 959.3,728.0 961.3,733.3 966.7,734.7 970.7,740.0 970.7,746.7 973.3,753.3 966.7,761.3 962.7,765.3 958.7,762.7 953.3,761.3 945.3,764.0 934.7,760.0 921.3,761.3 910.7,758.7 898.7,761.3 896.0,754.7 900.0,752.0 910.7,748.0 924.0,745.3 929.3,740.0 926.7,729.3" fill="#FFF0AE"/>
<polygon points="945.3,764.0 953.3,761.3 958.7,762.7 962.7,765.3 958.7,772.0 960.0,777.3 964.0,782.7 965.3,790.7 966.7,798.7 970.7,806.7 969.3,812.0 966.7,820.0 930.7,820.0 928.0,813.3 932.0,809.3 940.0,808.0 948.0,805.3 949.3,798.7 948.0,790.7 944.0,780.0 945.3,772.0" fill="#FECE65"/>
<polygon points="948.0,792.0 953.3,796.0 958.7,802.7 965.3,806.7 970.7,806.7 969.3,812.0 966.7,820.0 930.7,820.0 928.0,813.3 932.0,809.3 940.0,808.0 948.0,805.3 949.3,798.7" fill="#FEB642"/>
<polygon points="860.0,750.7 862.7,753.3 864.0,764.0 866.0,772.0 860.0,776.0" fill="#FE9929"/>
<polygon points="860.0,784.0 865.3,783.3 867.3,793.3 864.0,798.7 865.3,809.3 862.7,816.0 860.0,817.3" fill="#D9D9D9"/>
<polygon points="770.4,730.0 781.2,730.0 783.6,736.0 788.4,738.4 793.2,737.2 796.8,743.2 804.0,748.0 811.2,740.8 819.6,737.2 822.0,732.4 828.0,733.6 835.2,736.0 834.0,742.0 832.2,750.4 828.6,757.6 830.4,763.6 829.8,770.8 827.4,778.0 822.0,778.0 816.0,775.6 810.0,778.6 804.0,780.4 802.8,775.6 796.8,773.2 792.0,769.6 795.0,766.0 787.2,767.2 780.0,769.6 772.8,768.4 769.2,760.6 771.6,754.0 770.4,745.6" fill="#FECE65"/>
<polygon points="739.2,746.8 751.8,746.2 748.8,749.8 751.8,755.2 750.6,761.2 754.8,765.4 759.6,766.0 766.2,760.0 769.2,760.6 772.8,768.4 780.0,769.6 787.2,767.2 792.0,769.6 796.8,773.2 802.8,775.6 804.0,780.4 798.0,782.8 796.8,787.6 790.8,792.4 792.0,797.2 784.8,800.8 777.6,804.4 776.4,802.0 771.6,797.2 765.6,790.0 759.6,791.2 756.0,794.8 752.4,796.6 744.0,799.6 738.0,798.4 738.0,791.2 734.4,786.4 732.0,778.0 726.0,772.0 732.0,764.8 730.8,758.8 735.6,754.6 739.8,752.8" fill="#FEE391"/>
<polygon points="835.2,736.0 840.0,737.2 841.2,744.4 846.0,749.2 847.2,753.4 852.0,755.8 856.8,757.6 860.4,751.0 862.2,755.8 863.4,764.8 865.8,771.4 859.2,775.6 852.0,782.8 851.4,778.6 844.8,774.4 836.4,777.4 831.6,779.8 827.4,778.0 829.8,770.8 830.4,763.6 828.6,757.6 832.2,750.4 834.0,742.0" fill="#FE9929"/>
<polygon points="831.6,779.8 836.4,777.4 844.8,774.4 851.4,778.6 852.0,782.8 852.0,786.4 858.0,784.0 865.8,784.6 867.0,791.2 862.2,795.4 864.0,804.4 865.8,810.4 862.8,818.8 854.4,820.0 847.2,824.8 846.0,829.6 840.0,826.0 835.2,818.8 838.2,812.8 832.8,810.4 828.0,806.8 825.6,802.0 818.4,800.2 824.4,794.8 826.8,787.6 824.4,782.8" fill="#D9D9D9"/>
<polygon points="816.0,775.6 819.6,779.2 824.4,782.8 826.8,787.6 824.4,794.8 818.4,800.2 825.6,802.0 828.0,806.8 832.8,810.4 838.2,812.8 835.2,818.8 840.0,826.0 835.8,829.6 830.4,835.0 825.6,832.0 820.8,832.0 816.0,824.8 811.2,826.0 808.8,832.0 802.8,834.4 798.0,832.0 796.8,824.8 793.2,820.0 793.8,808.0 801.6,806.2 806.4,805.6 807.6,797.2 814.8,790.0 814.8,780.4" fill="#FFFFE5"/>
<polygon points="814.8,780.4 814.8,790.0 807.6,797.2 806.4,805.6 801.6,806.2 799.2,802.0 792.0,797.2 790.8,792.4 796.8,787.6 798.0,782.8 804.0,780.4 810.0,778.6" fill="#FEB642"/>
<polygon points="792.0,797.2 799.2,802.0 801.6,806.2 793.8,808.0 793.2,820.0 796.8,824.8 794.4,828.4 787.2,824.8 782.4,823.6 780.0,818.8 771.6,814.0 776.4,809.2 777.6,804.4 784.8,800.8" fill="#FECE65"/>
<polygon points="759.6,791.2 765.6,790.0 771.6,797.2 776.4,802.0 777.6,804.4 776.4,809.2 771.6,814.0 780.0,818.8 782.4,823.6 787.2,824.8 794.4,828.4 796.8,824.8 798.0,832.0 802.8,834.4 792.0,840.4 789.6,846.4 783.6,844.0 776.4,842.8 770.4,838.6 766.8,844.0 760.8,847.6 754.8,847.0 757.2,841.6 760.8,833.2 754.8,827.2 750.0,821.2 754.2,811.6 758.4,802.0 756.0,794.8" fill="#FFF0AE"/>
<polygon points="759.6,791.2 765.6,790.0 771.6,797.2 776.4,802.0 777.6,804.4 776.4,809.2 771.6,814.0 768.0,812.8 762.0,806.8 758.4,802.0 756.0,794.8" fill="#FFFACA"/>
<polygon points="720.0,778.0 726.0,772.0 732.0,778.0 734.4,786.4 738.0,791.2 738.0,798.4 744.0,799.6 752.4,796.6 758.4,802.0 754.2,811.6 750.0,821.2 754.8,827.2 760.8,833.2 757.2,841.6 754.2,847.6 754.8,851.2 750.0,854.8 744.0,850.0 735.6,845.2 732.0,838.0 727.2,829.6 730.8,818.8 726.0,808.0 722.4,800.8 720.0,797.2" fill="#FECE65"/>
<polygon points="720.0,797.2 722.4,800.8 726.0,808.0 730.8,818.8 727.2,829.6 732.0,838.0 735.6,845.2 729.6,848.8 723.6,850.0 720.0,851.2" fill="#FEE391"/>
<polygon points="720.0,841.6 722.4,842.8 723.0,860.8 720.0,862.0" fill="#FE9929"/>
<polygon points="720.0,851.2 723.6,850.0 729.6,848.8 735.6,845.2 744.0,850.0 740.4,854.8 733.2,860.8 735.0,866.8 734.4,874.0 739.2,880.0 741.6,889.6 740.4,896.8 735.6,898.0 732.0,900.4 728.4,895.6 723.6,900.4 720.0,904.0" fill="#D9D9D9"/>
<polygon points="750.0,854.8 759.6,852.4 765.6,853.6 770.4,860.2 776.4,863.2 780.0,860.8 788.4,862.0 792.0,866.8 790.8,871.6 784.8,876.4 778.8,882.4 772.8,881.2 766.8,884.8 760.8,888.4 759.6,893.2 752.4,896.8 747.6,894.4 744.0,898.0 740.4,896.8 741.6,889.6 739.2,880.0 734.4,874.0 735.0,866.8 733.2,860.8 740.4,854.8 744.0,850.0" fill="#FFF0AE"/>
<polygon points="720.0,904.0 723.6,900.4 728.4,895.6 732.0,900.4 735.6,898.0 740.4,896.8 744.0,898.0 747.6,894.4 752.4,896.8 759.6,893.2 760.8,888.4 766.8,884.8 772.8,881.2 778.8,882.4 777.6,886.0 783.6,890.8 792.0,892.0 798.0,890.8 806.4,895.6 802.8,901.6 800.4,905.2 802.8,910.0 720.0,910.0" fill="#FFFFFF"/>
<polygon points="754.8,847.0 760.8,847.6 766.8,844.0 770.4,838.6 776.4,842.8 783.6,844.0 789.6,846.4 792.0,840.4 802.8,834.4 806.4,839.2 804.0,845.2 808.8,856.0 807.6,859.6 816.0,864.4 822.0,868.0 826.8,872.8 825.6,877.6 818.4,884.8 822.0,892.0 828.0,892.0 832.8,898.0 834.0,906.4 831.6,910.0 802.8,910.0 800.4,905.2 802.8,901.6 806.4,895.6 798.0,890.8 792.0,892.0 783.6,890.8 777.6,886.0 778.8,882.4 784.8,876.4 790.8,871.6 792.0,866.8 788.4,862.0 780.0,860.8 776.4,863.2 770.4,860.2 765.6,853.6 759.6,852.4 754.8,851.2" fill="#D9D9D9"/>
<polygon points="808.8,832.0 811.2,826.0 816.0,824.8 820.8,832.0 825.6,832.0 830.4,835.0 835.8,829.6 840.0,826.0 846.0,829.6 848.4,834.4 856.8,834.4 858.0,841.6 853.2,847.6 852.0,853.6 846.0,859.6 842.4,863.2 838.8,868.0 831.6,870.4 826.8,874.0 822.0,868.0 816.0,864.4 807.6,859.6 808.8,856.0 804.0,845.2 806.4,839.2 802.8,834.4" fill="#FECE65"/>
<polygon points="826.8,874.0 831.6,870.4 838.8,868.0 842.4,863.2 847.2,869.2 852.0,874.0 859.2,884.8 864.0,890.8 868.8,898.0 861.6,899.2 854.4,901.6 846.0,904.0 841.2,907.6 834.0,906.4 832.8,898.0 828.0,892.0 822.0,892.0 818.4,884.8 825.6,877.6" fill="#FFFFE5"/>
<polygon points="861.6,899.2 868.8,898.0 873.6,900.4 872.4,906.4 864.0,907.6 855.6,910.0 844.8,910.0 846.0,906.4 854.4,901.6" fill="#FEB642"/>
<polygon points="831.6,906.4 836.4,906.4 838.8,910.0 831.6,910.0" fill="#882F05"/>
<polygon points="852.0,853.6 862.8,865.6 870.0,860.8 879.6,854.8 886.8,857.2 885.6,865.6 888.0,874.0 891.6,886.0 892.8,898.0 895.2,901.6 892.8,910.0 855.6,910.0 864.0,907.6 872.4,906.4 873.6,900.4 868.8,898.0 864.0,890.8 859.2,884.8 852.0,874.0 847.2,869.2 842.4,863.2 846.0,859.6" fill="#D9D9D9"/>
<polygon points="846.0,829.6 847.2,824.8 854.4,820.0 862.8,818.8 865.8,814.0 872.4,816.4 873.6,824.8 868.8,834.4 870.0,844.0 879.6,848.8 879.6,854.8 870.0,860.8 862.8,865.6 852.0,853.6 853.2,847.6 858.0,841.6 856.8,834.4 848.4,834.4" fill="#FFFACA"/>
<polygon points="862.8,730.0 900.0,730.0 900.0,854.8 895.2,857.2 886.8,857.2 879.6,854.8 879.6,848.8 870.0,844.0 868.8,834.4 873.6,824.8 872.4,816.4 865.8,814.0 865.8,810.4 864.0,804.4 862.2,795.4 867.0,791.2 865.8,784.6 858.0,784.0 852.0,786.4 852.0,782.8 859.2,775.6 865.8,771.4 863.4,764.8 862.2,755.8 860.4,751.0 862.8,742.0" fill="#FFFFE5"/>
<polygon points="886.8,857.2 895.2,857.2 900.0,854.8 900.0,898.0 892.8,898.0 891.6,886.0 888.0,874.0 885.6,865.6" fill="#FEE391"/>
<polygon points="830.4,730.0 862.8,730.0 862.8,742.0 860.4,751.0 856.8,757.6 852.0,755.8 847.2,753.4 846.0,749.2 841.2,744.4 840.0,737.2 835.2,736.0 828.0,733.6" fill="#D9D9D9"/>
<polyline points="590.0,384.5 597.5,400.0 605.5,413.8 600.0,417.5 610.0,428.8 617.0,433.8 616.2,441.2 622.5,436.2 626.2,440.0 630.0,435.0 633.8,438.8 635.0,433.8 645.0,432.5 655.0,432.5 658.8,437.5 657.5,446.2 651.2,452.5 645.0,458.8" fill="none" stroke="#555b60" stroke-width="1.05"/>
<polyline points="572.5,385.5 566.2,390.0 565.0,396.2 567.5,402.5 560.0,407.5 550.0,411.2 546.2,415.0 542.5,411.2 530.0,417.5 520.0,426.2 513.8,432.5 512.5,438.8 494.5,441.2 491.2,452.5 490.0,462.5 481.8,477.0 485.0,480.0" fill="none" stroke="#555b60" stroke-width="1.05"/>
<polyline points="485.0,480.0 460.0,486.2 442.5,490.0 431.8,495.0 433.8,500.0 440.0,498.8 440.5,513.8 450.0,520.0 455.0,525.0 458.0,532.5 447.5,536.2 445.0,542.5 452.5,546.2 453.8,555.0 447.5,556.2 431.2,551.2 428.8,556.2 422.5,556.2 416.2,560.0" fill="none" stroke="#555b60" stroke-width="1.05"/>
<polyline points="485.0,480.0 498.8,477.0 501.2,483.8 513.8,483.8 515.0,487.5 527.5,487.5 531.2,497.5 540.0,496.2 550.0,498.8 560.0,497.5 568.8,503.0 577.5,500.0 578.8,493.8 587.0,491.2 585.0,482.5 586.2,477.0 596.2,476.2 600.0,480.0 610.0,485.0 612.5,481.2 618.8,483.8 625.0,480.0 635.0,485.0 642.5,490.0 651.2,496.2 656.2,500.0 660.0,495.0 670.0,500.0 675.0,503.8" fill="none" stroke="#555b60" stroke-width="1.05"/>
<polyline points="650.0,461.0 658.0,462.0 664.0,470.0 672.0,472.0 673.0,480.0 680.0,481.0 688.0,489.0 694.0,489.0 700.0,484.0 695.0,479.0 707.0,475.0 720.0,477.0 738.0,470.0 745.0,470.0 748.0,482.0 738.0,490.0 731.0,496.0 733.0,502.0 729.0,505.0 730.0,509.0 738.0,514.0 748.0,521.0 756.0,520.0" fill="none" stroke="#555b60" stroke-width="1.05"/>
<polyline points="756.0,520.0 770.0,516.0 783.6,511.0 784.4,500.0 786.0,494.0 787.0,488.0 790.0,481.0 798.0,474.0 806.0,472.4 809.0,479.0 805.0,486.0 802.0,490.0 800.0,496.0 802.0,498.0 808.0,504.0 816.0,504.0 824.0,509.0" fill="none" stroke="#555b60" stroke-width="1.05"/>
<polyline points="756.0,520.0 758.0,525.0 761.0,526.0 770.0,534.0 773.0,542.0 777.0,550.0 780.0,553.0 775.0,556.0 774.0,562.0 780.0,568.0 786.0,571.0 794.0,573.0 799.0,576.0 798.0,567.0 802.0,565.0 808.0,564.0 809.0,558.0 808.0,552.0 800.0,551.0 798.0,545.0 802.0,542.0 802.0,530.0 810.0,528.0 817.0,528.0" fill="none" stroke="#555b60" stroke-width="1.05"/>
<polyline points="817.0,528.0 817.0,519.0 820.0,513.0 824.0,509.0 830.0,512.0 838.0,516.0 849.0,515.0 850.0,507.0 854.0,504.0 856.0,496.0 862.0,490.0" fill="none" stroke="#555b60" stroke-width="1.05"/>
<polyline points="817.0,528.0 820.0,534.0 826.0,536.0 830.0,538.0 838.0,542.0 846.0,546.0 848.0,552.0 845.0,560.0 847.0,568.0 848.0,576.0 838.0,577.0 826.0,576.0 828.0,583.0 820.0,585.0 810.0,582.0 799.0,582.0 799.0,588.0 797.0,594.0 801.0,599.0 798.0,606.0 799.0,618.0 788.0,620.0 782.0,625.0 778.0,630.0" fill="none" stroke="#555b60" stroke-width="1.05"/>
<polyline points="650.0,493.0 653.0,494.0 658.0,501.0 662.0,498.0 674.0,502.0 682.0,506.0 690.0,510.0 699.0,515.0 704.0,522.0 708.0,530.0 711.0,538.0 716.0,550.0 720.0,558.0 718.0,563.0 714.0,570.0 710.0,570.0 706.0,573.0 706.0,580.0 698.0,585.0 697.0,592.0 704.0,599.0 708.0,606.0 718.0,602.0 722.0,606.0 726.0,614.0 734.0,623.0 746.0,624.0 750.0,630.0" fill="none" stroke="#555b60" stroke-width="1.05"/>
<polyline points="720.0,778.0 726.0,772.0 732.0,764.8 730.8,758.8 735.6,754.6 739.8,752.8 739.2,746.8 744.0,745.6 751.8,746.2 748.8,749.8 751.8,755.2 750.6,761.2 754.8,765.4 759.6,766.0 766.2,760.0 769.2,760.6 772.8,768.4 780.0,769.6 787.2,767.2 795.0,766.0 794.4,760.0 789.0,757.6 784.8,756.4 782.4,752.8 779.4,749.2 785.4,743.2 789.6,744.4 795.6,749.2 798.0,742.0 804.0,748.0 811.2,740.8 819.6,737.2 822.0,732.4 828.0,733.6 835.2,736.0 840.0,737.2 841.2,744.4 846.0,749.2 847.2,753.4 852.0,755.8 856.8,757.6 860.4,751.0 862.2,755.8 863.4,764.8 865.8,771.4 859.2,775.6 852.0,782.8 852.0,786.4 858.0,784.0 865.8,784.6 867.0,791.2 862.2,795.4 864.0,804.4 865.8,810.4 862.8,818.8 854.4,820.0 847.2,824.8 846.0,829.6 840.0,826.0 835.8,829.6 830.4,835.0 825.6,832.0 820.8,832.0 816.0,824.8 811.2,826.0 808.8,832.0 802.8,834.4 792.0,840.4 789.6,846.4 783.6,844.0 776.4,842.8 770.4,838.6 766.8,844.0 760.8,847.6 754.8,847.0 754.2,847.6" fill="none" stroke="#555b60" stroke-width="1.05"/>
<polyline points="772.8,768.4 769.2,776.8 756.0,779.2 751.2,775.6 747.6,780.4 741.6,776.2 734.4,786.4 738.0,791.2 738.0,798.4 744.0,799.6 752.4,796.6 758.4,802.0 754.2,811.6 750.0,821.2 754.8,827.2 760.8,833.2 757.2,841.6 754.2,847.6 754.8,851.2 759.6,852.4 765.6,853.6 770.4,860.2 776.4,863.2 780.0,860.8 788.4,862.0 792.0,866.8 790.8,871.6 784.8,876.4 778.8,882.4" fill="none" stroke="#555b60" stroke-width="1.05"/>
<polyline points="865.8,810.4 872.4,816.4 876.0,809.2 880.8,812.8 888.0,811.6 891.6,805.6 900.0,804.4" fill="none" stroke="#555b60" stroke-width="1.05"/>
<polyline points="862.8,730.0 862.8,742.0 860.4,751.0" fill="none" stroke="#555b60" stroke-width="1.05"/>
<polyline points="781.2,730.0 783.6,736.0 788.4,738.4 793.2,737.2 796.8,743.2" fill="none" stroke="#555b60" stroke-width="1.05"/>
<polyline points="650.0,633.0 658.0,643.0 668.0,643.0 679.0,640.0 680.0,630.0 690.0,629.0 697.0,628.0" fill="none" stroke="#555b60" stroke-width="1.05"/>
<polyline points="778.0,708.0 786.0,701.0 792.0,704.0 797.0,704.0 802.0,704.0 806.0,709.0 810.0,710.0 816.0,704.0 820.0,698.0 824.0,712.0 830.0,708.0 836.0,700.0 842.0,699.0 845.0,696.0 843.0,704.0 846.0,709.0 844.0,716.0 850.0,720.0 856.0,728.0 860.0,736.0 862.0,744.0" fill="none" stroke="#555b60" stroke-width="1.05"/>
<polyline points="778.0,708.0 781.0,714.0 774.0,720.0 773.0,726.0 780.0,732.0" fill="none" stroke="#555b60" stroke-width="1.05"/>
<polyline points="750.0,632.0 752.0,639.0 762.0,644.0 774.0,643.0 778.0,638.0 786.0,634.0 790.0,639.0 800.0,642.0 810.0,643.0 816.0,647.0 824.0,648.0 834.0,652.0 844.0,655.0 854.0,658.0 862.0,664.0 870.0,668.0 879.0,671.0 882.0,677.0 881.0,688.0 870.0,692.0 862.0,697.0 850.0,696.0 845.0,696.0" fill="none" stroke="#555b60" stroke-width="1.05"/>
<polyline points="750.0,632.0 748.0,620.0 755.0,627.0 759.0,624.0 752.0,612.0 746.0,600.0" fill="none" stroke="#555b60" stroke-width="1.05"/>
<polyline points="799.0,616.0 788.0,619.0 782.0,626.0 786.0,634.0" fill="none" stroke="#555b60" stroke-width="1.05"/>
<polyline points="799.0,616.0 798.0,610.0 800.0,600.0" fill="none" stroke="#555b60" stroke-width="1.05"/>
<polyline points="900.0,804.0 906.0,806.0 910.0,816.0 908.0,826.0 900.0,836.0 906.0,842.0 914.0,840.0" fill="none" stroke="#555b60" stroke-width="1.05"/>
<polyline points="183.3,600.0 200.0,596.7 206.7,580.0 213.3,573.3 236.7,576.7 250.0,571.7 258.3,566.0 270.0,566.7 280.0,573.3 296.7,573.3 316.7,566.7 336.7,563.3 343.3,553.3 370.0,548.3 393.3,545.0 416.7,555.0" fill="none" stroke="#555b60" stroke-width="1.05"/>
<polyline points="416.7,555.0 423.3,563.3 418.3,576.7 425.0,590.0 421.7,606.7 433.3,623.3 450.0,631.7 473.3,638.3 493.3,642.7 513.3,648.3 533.3,643.3 543.3,651.7 550.0,656.7" fill="none" stroke="#555b60" stroke-width="1.05"/>
<polyline points="598.0,620.0 594.0,636.0 600.0,646.0 612.0,654.0 620.0,666.0 628.0,674.0 624.0,680.0 630.0,692.0 632.0,708.0 632.0,724.0 634.0,740.0 638.0,756.0 646.0,742.0 654.0,750.0 660.0,768.0 668.0,765.0 676.0,778.0 684.0,792.0 688.0,800.0 695.0,811.0 700.0,808.0 712.0,804.0 721.0,801.0 719.0,778.0" fill="none" stroke="#555b60" stroke-width="1.05"/>
<polyline points="630.0,732.0 634.0,740.0" fill="none" stroke="#555b60" stroke-width="1.05"/>
<polyline points="500.0,643.0 510.0,647.0 522.0,646.0 532.0,643.0 546.0,650.0 550.0,660.0 554.0,666.0 564.0,666.0 568.0,669.0 570.0,663.0 580.0,668.0 582.0,660.0 592.0,657.0 594.0,647.0 600.0,646.0" fill="none" stroke="#555b60" stroke-width="1.05"/>
<polyline points="598.0,620.0 623.0,620.0 626.0,628.0 636.0,636.0 648.0,640.0 652.0,635.0 658.0,642.0 668.0,645.0 680.0,640.0 679.0,632.0 686.0,628.0 692.0,630.0 695.0,628.0 700.0,629.0" fill="none" stroke="#555b60" stroke-width="1.05"/>
<polyline points="862.0,814.0 870.0,812.0 874.0,815.0 878.0,809.0 890.0,807.0 896.0,804.0 902.0,806.0 906.0,816.0 910.0,818.0 906.0,826.0 902.0,833.0 900.0,839.0 908.0,836.0 910.0,844.0 916.0,846.0 922.0,845.0 924.0,853.0 920.0,862.0 916.0,868.0 912.0,876.0 909.0,886.0 910.0,891.0 902.0,896.0 898.0,900.0 894.0,904.0 894.0,909.0 888.0,914.0 886.0,919.0 878.0,920.0 874.0,925.0 872.0,926.0" fill="none" stroke="#555b60" stroke-width="1.05"/>
<polyline points="922.0,845.0 926.0,836.0 934.0,834.0 942.0,840.0 946.0,830.0 956.0,828.0 967.0,826.0 974.0,830.0 983.0,831.0 984.0,836.0 976.0,840.0 973.0,848.0 980.0,850.0 992.0,847.0 1000.0,846.0 1008.0,849.0 1010.0,842.0 1016.0,841.0 1030.0,848.0 1034.0,860.0 1038.0,870.0 1042.0,877.0" fill="none" stroke="#555b60" stroke-width="1.05"/>
<polyline points="847.0,984.0 850.0,980.0 858.0,974.0 862.0,969.0 874.0,967.0 886.0,964.0 894.0,962.4 899.0,966.0 902.0,975.0 898.0,980.0 893.0,986.0 891.0,997.0 882.0,1004.0 878.0,1009.0 872.0,1013.0 864.0,1012.0 854.0,1008.0 848.0,1004.0 847.0,992.0 847.0,984.0" fill="none" stroke="#4d4d4d" stroke-width="1"/>
<polyline points="1137.5,115.0 1142.5,122.5 1130.0,133.8 1140.0,141.2 1150.0,137.0 1162.5,143.8 1162.5,153.8 1168.8,165.0 1177.5,168.0 1192.5,166.2 1208.8,165.0 1216.2,158.8 1227.5,162.5 1237.5,173.8 1232.5,183.8 1226.2,192.5 1220.0,202.5 1218.8,221.2 1212.5,225.0 1206.2,235.0 1203.8,248.8 1198.8,238.8 1185.0,247.5 1170.0,257.5 1157.5,267.5 1166.2,280.0 1172.5,286.2 1176.2,280.0 1182.5,278.8 1183.8,285.0 1172.5,286.2 1171.2,297.5 1157.5,305.0 1150.0,302.5 1141.2,308.8 1145.0,315.0 1150.0,325.0 1152.5,346.2 1162.5,345.0 1172.5,340.0 1177.5,350.0 1181.2,365.0 1183.8,375.0 1175.0,380.0 1157.5,382.5 1145.0,387.5 1132.5,392.5 1120.0,398.8 1105.0,412.5 1100.0,405.0 1092.5,395.0 1086.2,398.8 1087.5,422.5 1075.0,421.2 1067.5,420.0 1060.0,410.0 1063.8,403.8 1058.8,392.5 1051.2,388.8 1045.0,391.2 1033.8,395.0 1031.2,403.8 1017.5,406.2 1010.0,407.5 997.5,413.8 988.8,412.5 987.5,402.5 977.5,398.8 973.8,400.0 972.5,415.0" fill="none" stroke="#555b60" stroke-width="1.05"/>
<polyline points="1183.8,285.0 1187.5,286.2 1190.0,295.0 1193.8,305.0 1202.5,313.8 1212.5,315.0 1222.5,317.5 1232.5,315.0 1240.0,325.0 1250.0,322.5 1260.0,325.0 1262.5,335.0 1270.0,340.0 1275.0,350.0" fill="none" stroke="#555b60" stroke-width="1.05"/>
<polyline points="1183.8,375.0 1187.5,367.5 1195.0,372.5 1202.5,380.0 1210.0,377.5 1212.5,380.0 1216.2,387.5 1222.5,393.8 1221.2,405.0 1225.0,420.0 1230.0,432.5" fill="none" stroke="#555b60" stroke-width="1.05"/>
<polyline points="1010.0,407.5 1017.5,422.5 1025.0,430.0 1035.0,437.5 1042.5,440.0 1050.0,450.0" fill="none" stroke="#555b60" stroke-width="1.05"/>
<polyline points="1200.0,166.0 1212.0,160.0 1220.0,158.0 1230.0,166.0 1238.0,174.0 1232.0,184.0 1224.0,194.0 1220.0,202.0 1221.0,216.0 1212.0,226.0 1206.0,234.0 1204.0,246.0 1200.0,248.0" fill="none" stroke="#555b60" stroke-width="1.05"/>
<polyline points="1200.0,316.0 1212.0,315.0 1220.0,316.0 1230.0,316.0 1240.0,323.0 1252.0,322.0 1260.0,328.0 1262.0,337.0 1270.0,340.0 1276.0,350.0 1282.0,352.0 1286.0,344.0 1291.0,341.0 1294.0,348.0 1298.0,358.0 1302.0,365.0 1310.0,358.0 1324.0,354.0 1334.0,352.0 1338.0,362.0 1346.0,368.0 1354.0,366.0" fill="none" stroke="#555b60" stroke-width="1.05"/>
<polyline points="1212.0,375.0 1213.0,382.0 1217.0,390.0 1222.0,396.0 1221.0,404.0 1222.0,416.0 1226.0,426.0 1231.0,430.0 1232.0,433.0" fill="none" stroke="#555b60" stroke-width="1.05"/>
<polyline points="965.9,420.0 965.1,426.9 970.3,435.6 972.0,439.9" fill="none" stroke="#555b60" stroke-width="1.05"/>
<polyline points="1022.3,435.6 1027.5,430.4 1030.9,435.6 1039.6,439.1 1046.5,438.2 1041.3,442.5 1041.3,448.6 1039.6,454.7 1030.9,454.7 1030.9,464.2 1024.0,466.8 1017.1,465.9 1010.1,466.8 1003.2,465.1 1000.6,461.6 999.7,458.1 1003.2,453.8 1010.1,449.5 1006.7,442.5 1013.6,439.1 1022.3,435.6" fill="none" stroke="#555b60" stroke-width="1.05"/>
<polyline points="1041.3,448.6 1048.3,449.5 1051.7,452.9 1047.4,454.7 1048.3,461.6 1051.7,466.8 1055.2,472.0 1056.9,477.2" fill="none" stroke="#555b60" stroke-width="1.05"/>
<polyline points="1030.9,464.2 1032.7,472.0 1030.9,478.9 1029.2,485.9 1034.4,489.3 1041.3,491.9 1048.3,491.1 1050.0,487.6" fill="none" stroke="#555b60" stroke-width="1.05"/>
<polyline points="1065.6,420.0 1070.8,421.7 1079.5,426.9 1077.7,433.9 1082.9,439.1 1089.9,441.7 1093.3,447.7 1098.5,454.7" fill="none" stroke="#555b60" stroke-width="1.05"/>
<polyline points="1056.9,499.7 1051.7,503.2 1046.5,506.7 1039.6,510.1 1030.9,511.0 1025.7,513.6 1022.3,517.1 1017.1,522.3 1010.1,527.5 1006.7,532.7" fill="none" stroke="#555b60" stroke-width="1.05"/>
<polyline points="1003.2,608.1 1010.1,608.9 1015.3,612.4 1022.3,610.7 1027.5,607.2 1024.0,600.3 1017.1,593.3 1022.3,588.1 1027.5,593.3 1034.4,602.0 1041.3,607.2 1048.3,608.9 1053.5,615.9 1061.3,615.9 1058.7,622.8 1056.9,624.5 1058.7,629.7 1063.9,628.0 1070.8,626.3 1074.3,619.3 1076.0,612.4 1079.5,607.2 1082.9,600.3 1079.5,595.1 1084.7,584.7" fill="none" stroke="#555b60" stroke-width="1.05"/>
<polyline points="992.8,638.4 996.3,645.3 1004.9,648.8 1010.1,647.1 1010.1,657.5 1011.0,666.1 1001.5,669.6 999.7,676.5 1001.5,680.0" fill="none" stroke="#555b60" stroke-width="1.05"/>
<polyline points="1058.7,629.7 1062.1,634.9 1062.1,643.6 1063.9,650.5 1060.4,657.5 1055.2,662.7 1053.5,671.3 1055.2,680.0" fill="none" stroke="#555b60" stroke-width="1.05"/>
<polyline points="1063.9,650.5 1072.5,650.5 1069.1,659.2 1067.3,666.1 1070.8,673.1 1076.0,680.0" fill="none" stroke="#555b60" stroke-width="1.05"/>
<polyline points="1058.0,722.0 1062.0,725.0 1072.0,720.0 1076.0,712.0 1078.0,704.0 1087.0,702.0 1086.0,697.0 1090.0,692.0 1094.0,684.0 1088.0,682.0 1080.0,679.0 1080.0,676.0 1076.0,666.0 1066.0,660.0" fill="none" stroke="#555b60" stroke-width="1.05"/>
<polyline points="1094.0,684.0 1100.0,680.0 1108.0,682.0 1114.0,690.0 1122.0,686.0 1126.0,680.0 1130.0,674.0" fill="none" stroke="#555b60" stroke-width="1.05"/>
<polyline points="967.0,820.0 969.0,831.0" fill="none" stroke="#555b60" stroke-width="1.05"/>
<polyline points="1009.0,840.0 1012.0,832.0 1013.0,824.0 1016.0,816.0 1022.0,810.0 1024.0,800.0 1026.0,790.0 1032.0,786.0 1038.0,782.0 1036.0,772.0 1040.0,766.0 1046.0,762.0 1052.0,766.0 1060.0,760.0 1068.0,754.0 1067.0,744.0 1062.0,736.0 1059.0,730.0 1062.0,725.0" fill="none" stroke="#555b60" stroke-width="1.05"/>
<polyline points="1068.0,754.0 1074.0,756.0 1073.0,760.0 1076.0,766.0 1078.0,776.0 1088.0,776.0 1094.0,771.0 1096.0,776.0 1100.0,780.0 1110.0,778.0 1113.0,782.0" fill="none" stroke="#555b60" stroke-width="1.05"/>
<polyline points="1137.0,831.0 1142.0,834.0 1147.0,838.0 1145.0,848.0 1142.0,858.0 1139.0,870.0 1136.0,882.0 1132.0,890.0 1128.0,898.0 1124.0,904.0 1122.0,912.0 1120.0,918.0 1117.0,912.0 1115.0,906.0 1108.0,900.0 1105.0,892.0 1103.0,886.0 1105.0,878.0 1104.0,872.0 1109.0,862.0 1114.0,852.0 1120.0,844.0 1124.0,838.0 1130.0,834.0 1137.0,831.0" fill="none" stroke="#4d4d4d" stroke-width="1"/>
<circle cx="1145.6" cy="706.0" r="0.75" fill="#5a5a5a"/>
<circle cx="1150.0" cy="704.4" r="0.75" fill="#5a5a5a"/>
<circle cx="1157.0" cy="708.0" r="0.75" fill="#5a5a5a"/>
<circle cx="1158.0" cy="712.4" r="0.75" fill="#5a5a5a"/>
<circle cx="1156.0" cy="717.0" r="0.75" fill="#5a5a5a"/>
<circle cx="1153.0" cy="718.4" r="0.75" fill="#5a5a5a"/>
<circle cx="1147.0" cy="716.0" r="0.75" fill="#5a5a5a"/>
<circle cx="1159.0" cy="700.0" r="0.75" fill="#5a5a5a"/>
<circle cx="1154.0" cy="698.0" r="0.75" fill="#5a5a5a"/>
<polyline points="1165.0,849.0 1158.4,878.4" fill="none" stroke="#3a3a3a" stroke-width="0.8"/>
<polyline points="1145.6,923.6 1128.4,946.4" fill="none" stroke="#3a3a3a" stroke-width="0.8"/>
<polyline points="900.0,620.0 900.0,628.7 904.0,632.0 908.0,638.7 912.0,644.7 916.0,644.7 924.0,648.7 932.0,650.7 940.0,649.3 950.7,650.0 956.0,652.7 962.0,650.0 962.7,656.0 964.0,661.3 969.3,664.0 974.7,665.3 980.0,668.0 984.0,672.0 991.3,670.7 993.3,673.3 999.3,672.0" fill="none" stroke="#555b60" stroke-width="1.05"/>
<polyline points="900.0,628.7 886.7,629.3 873.3,628.7 866.7,630.7 872.0,633.3 876.0,637.3 882.0,638.7 881.3,642.7 876.0,644.0 868.0,644.7 868.0,649.3 867.3,657.3 869.3,664.0 873.3,668.0 878.7,672.0 881.3,676.0 881.3,681.3 880.0,689.3 873.3,690.7 865.3,696.0 860.0,698.7" fill="none" stroke="#555b60" stroke-width="1.05"/>
<polyline points="998.7,620.0 993.3,626.7 988.0,632.0 993.3,637.3 994.7,644.0 1004.0,646.7 1010.0,646.0 1011.3,653.3 1010.7,661.3 1004.0,666.7 999.3,672.0 1004.0,677.3 1009.3,682.7 1013.3,686.7 1009.3,689.3 1008.0,694.7 1012.0,701.3 1014.7,708.0 1015.3,715.3" fill="none" stroke="#555b60" stroke-width="1.05"/>
<polyline points="860.0,732.0 864.0,729.3 868.0,721.3 873.3,716.0 881.3,717.3 886.7,720.0 892.0,716.0 889.3,710.7 897.3,707.3 908.0,710.7 916.0,713.3 924.0,716.0 929.3,721.3 937.3,720.0 943.3,716.7 945.3,721.3 950.7,724.0 954.7,720.0 958.0,715.3 961.3,722.7 959.3,728.0 961.3,733.3 966.7,734.7 972.0,730.7 977.3,728.0 984.0,725.3 988.0,722.7 993.3,722.7 1001.3,716.0 1009.3,718.7 1015.3,715.3 1020.0,713.3 1026.7,709.3 1032.0,708.0 1032.0,713.3 1028.7,719.3 1032.0,721.3 1036.0,717.3 1038.7,713.3 1046.7,716.0 1049.3,721.3 1060.0,722.7" fill="none" stroke="#555b60" stroke-width="1.05"/>
<polyline points="966.7,734.7 970.7,740.0 970.7,746.7 973.3,753.3 966.7,761.3 962.7,765.3 958.7,772.0 960.0,777.3 964.0,782.7 965.3,790.7 966.7,798.7 970.7,806.7 969.3,812.0 966.7,820.0" fill="none" stroke="#555b60" stroke-width="1.05"/>
<polyline points="860.0,746.7 861.3,752.0 862.7,764.0 865.3,772.0 860.0,774.7" fill="none" stroke="#555b60" stroke-width="1.05"/>
<polyline points="860.0,490.7 868.0,481.3 874.7,476.0 881.3,470.0 886.7,473.3 894.7,468.7 904.0,467.3 910.7,464.7 921.3,465.3 922.7,461.3 925.3,454.7 929.3,448.0 936.0,450.0 940.0,450.0 945.3,446.7 953.3,446.7 965.3,445.3 969.3,440.0" fill="none" stroke="#555b60" stroke-width="1.05"/>
<polyline points="904.0,467.3 902.7,474.7 900.0,484.0 897.3,493.3 892.0,498.7 889.3,506.7 894.7,516.0 892.0,525.3 886.7,532.0 888.0,541.3 888.7,552.0 890.7,562.7 886.7,566.7 886.0,576.0 884.0,585.3 883.3,592.0 887.3,594.7 890.7,605.3 896.0,613.3 900.0,619.3 900.0,629.3 905.3,636.0 908.0,640.0" fill="none" stroke="#555b60" stroke-width="1.05"/>
<polyline points="969.3,440.0 973.3,440.0 974.0,445.3 968.0,450.0 966.0,454.7 972.0,453.3 977.3,458.7 980.0,466.7 977.3,474.7 976.0,478.7 966.7,478.7 962.7,485.3 958.0,492.0 957.3,496.0 961.3,500.0 966.7,506.7 970.7,517.3 965.3,525.3 962.7,533.3 956.7,539.3 961.3,548.0 960.0,554.7 959.3,562.0 958.7,566.7 953.3,570.7 946.7,574.7 940.0,578.7 938.7,577.3 924.0,577.3 918.7,581.3" fill="none" stroke="#555b60" stroke-width="1.05"/>
<polyline points="860.0,629.3 865.3,630.7 873.3,628.0 886.7,629.3 900.0,629.3" fill="none" stroke="#555b60" stroke-width="1.05"/>
<polyline points="953.3,570.7 958.7,573.3 966.7,574.7 973.3,577.3 980.0,578.7 986.7,581.3" fill="none" stroke="#555b60" stroke-width="1.05"/>
<polyline points="1010.0,533.3 1005.3,536.0 1000.0,541.3 997.3,546.7 1000.0,554.7 998.7,562.7 993.3,570.7 988.0,576.0 986.7,581.3 993.3,586.7 998.7,588.0 1001.3,594.7 1010.0,593.3" fill="none" stroke="#555b60" stroke-width="1.05"/>
<polyline points="1001.3,594.7 1004.0,608.0 1001.3,613.3 1004.0,618.7 997.3,621.3 994.7,629.3 988.0,632.0 990.7,640.0" fill="none" stroke="#555b60" stroke-width="1.05"/>
<polyline points="1010.0,450.7 1001.3,453.3 1000.0,460.0 1004.0,466.0 1010.0,468.0" fill="none" stroke="#555b60" stroke-width="1.05"/>
<polyline points="961.3,548.0 969.3,549.3 977.3,553.3 986.7,556.0 992.0,553.3 1000.0,554.7" fill="none" stroke="#555b60" stroke-width="1.05"/>
<polyline points="1102.9,991.1 1090.3,1017.5" fill="none" stroke="#3a3a3a" stroke-width="0.8"/>
<polyline points="1081.5,1067.1 1081.5,1094.4" fill="none" stroke="#3a3a3a" stroke-width="0.8"/>
<polyline points="1080.1,1170.6 1075.7,1185.3 1069.8,1198.5" fill="none" stroke="#3a3a3a" stroke-width="0.8"/>
<polyline points="1018.5,1272.7 1002.3,1294.4" fill="none" stroke="#3a3a3a" stroke-width="0.8"/>
<polyline points="942.8,1380.9 929.0,1386.2 917.3,1389.7" fill="none" stroke="#3a3a3a" stroke-width="0.8"/>
<polyline points="837.5,1296.7 837.0,1308.4 839.6,1323.1" fill="none" stroke="#3a3a3a" stroke-width="0.8"/>
<polyline points="885.0,1164.2 883.6,1176.5 879.2,1189.7" fill="none" stroke="#3a3a3a" stroke-width="0.8"/>
<polyline points="862.2,1063.0 870.4,1073.8 874.8,1090.0" fill="none" stroke="#3a3a3a" stroke-width="0.8"/>
<circle cx="911.4" cy="1040.7" r="0.75" fill="#5a5a5a"/>
<circle cx="929.0" cy="1044.5" r="0.75" fill="#5a5a5a"/>
<circle cx="927.9" cy="1048.0" r="0.75" fill="#5a5a5a"/>
<circle cx="914.4" cy="1056.8" r="0.75" fill="#5a5a5a"/>
<circle cx="923.2" cy="1059.2" r="0.75" fill="#5a5a5a"/>
<circle cx="934.9" cy="1057.7" r="0.75" fill="#5a5a5a"/>
<circle cx="937.2" cy="1059.8" r="0.75" fill="#5a5a5a"/>
<circle cx="915.8" cy="1063.6" r="0.75" fill="#5a5a5a"/>
<circle cx="917.9" cy="1066.5" r="0.75" fill="#5a5a5a"/>
<circle cx="934.3" cy="1067.4" r="0.75" fill="#5a5a5a"/>
<circle cx="927.9" cy="1075.3" r="0.75" fill="#5a5a5a"/>
<circle cx="964.2" cy="987.3" r="0.75" fill="#5a5a5a"/>
<circle cx="1028.7" cy="1059.8" r="0.75" fill="#5a5a5a"/>
<circle cx="1051.6" cy="1090.0" r="0.75" fill="#5a5a5a"/>
<circle cx="999.4" cy="1120.8" r="0.75" fill="#5a5a5a"/>
<circle cx="965.7" cy="1073.8" r="0.75" fill="#5a5a5a"/>
<circle cx="968.6" cy="1069.4" r="0.75" fill="#5a5a5a"/>
<circle cx="973.0" cy="1067.4" r="0.75" fill="#5a5a5a"/>
<circle cx="978.9" cy="1066.5" r="0.75" fill="#5a5a5a"/>
<circle cx="984.8" cy="1064.5" r="0.75" fill="#5a5a5a"/>
<circle cx="987.7" cy="1067.1" r="0.75" fill="#5a5a5a"/>
<circle cx="977.4" cy="1078.2" r="0.75" fill="#5a5a5a"/>
<circle cx="980.4" cy="1077.4" r="0.75" fill="#5a5a5a"/>
<circle cx="964.2" cy="1082.1" r="0.75" fill="#5a5a5a"/>
<circle cx="982.4" cy="1183.8" r="0.75" fill="#5a5a5a"/>
<circle cx="1028.7" cy="1183.8" r="0.75" fill="#5a5a5a"/>
<circle cx="970.1" cy="1197.6" r="0.75" fill="#5a5a5a"/>
<circle cx="979.5" cy="1200.5" r="0.75" fill="#5a5a5a"/>
<circle cx="984.2" cy="1194.7" r="0.75" fill="#5a5a5a"/>
<circle cx="989.1" cy="1195.5" r="0.75" fill="#5a5a5a"/>
<circle cx="1040.5" cy="1195.5" r="0.75" fill="#5a5a5a"/>
<circle cx="1049.3" cy="1195.5" r="0.75" fill="#5a5a5a"/>
<circle cx="1052.8" cy="1200.5" r="0.75" fill="#5a5a5a"/>
<circle cx="1042.8" cy="1203.5" r="0.75" fill="#5a5a5a"/>
<circle cx="1024.3" cy="1212.3" r="0.75" fill="#5a5a5a"/>
<circle cx="1028.7" cy="1209.3" r="0.75" fill="#5a5a5a"/>
<circle cx="1008.2" cy="1209.3" r="0.75" fill="#5a5a5a"/>
<circle cx="983.3" cy="1213.1" r="0.75" fill="#5a5a5a"/>
<circle cx="974.5" cy="1214.6" r="0.75" fill="#5a5a5a"/>
<circle cx="959.8" cy="1215.5" r="0.75" fill="#5a5a5a"/>
<circle cx="964.2" cy="1220.5" r="0.75" fill="#5a5a5a"/>
<circle cx="996.5" cy="1217.0" r="0.75" fill="#5a5a5a"/>
<circle cx="1014.1" cy="1219.0" r="0.75" fill="#5a5a5a"/>
<circle cx="1041.9" cy="1213.1" r="0.75" fill="#5a5a5a"/>
<circle cx="1042.8" cy="1219.9" r="0.75" fill="#5a5a5a"/>
<circle cx="983.3" cy="1222.8" r="0.75" fill="#5a5a5a"/>
<circle cx="1002.3" cy="1224.0" r="0.75" fill="#5a5a5a"/>
<circle cx="1009.7" cy="1228.7" r="0.75" fill="#5a5a5a"/>
<circle cx="1024.3" cy="1227.8" r="0.75" fill="#5a5a5a"/>
<circle cx="1017.0" cy="1232.2" r="0.75" fill="#5a5a5a"/>
<circle cx="983.3" cy="1229.3" r="0.75" fill="#5a5a5a"/>
<circle cx="971.6" cy="1238.1" r="0.75" fill="#5a5a5a"/>
<circle cx="999.4" cy="1237.5" r="0.75" fill="#5a5a5a"/>
<circle cx="1011.1" cy="1239.5" r="0.75" fill="#5a5a5a"/>
<circle cx="959.8" cy="1246.9" r="0.75" fill="#5a5a5a"/>
<circle cx="967.2" cy="1251.3" r="0.75" fill="#5a5a5a"/>
<circle cx="973.0" cy="1253.3" r="0.75" fill="#5a5a5a"/>
<circle cx="982.4" cy="1250.4" r="0.75" fill="#5a5a5a"/>
<circle cx="1022.9" cy="1242.5" r="0.75" fill="#5a5a5a"/>
<circle cx="1028.7" cy="1246.3" r="0.75" fill="#5a5a5a"/>
<circle cx="1018.5" cy="1250.4" r="0.75" fill="#5a5a5a"/>
<circle cx="934.9" cy="1233.7" r="0.75" fill="#5a5a5a"/>
<circle cx="927.6" cy="1250.4" r="0.75" fill="#5a5a5a"/>
<circle cx="935.5" cy="1251.3" r="0.75" fill="#5a5a5a"/>
<circle cx="942.2" cy="1249.8" r="0.75" fill="#5a5a5a"/>
<circle cx="915.8" cy="1255.7" r="0.75" fill="#5a5a5a"/>
<circle cx="911.4" cy="1258.6" r="0.75" fill="#5a5a5a"/>
<circle cx="944.3" cy="1261.5" r="0.75" fill="#5a5a5a"/>
<circle cx="952.5" cy="1265.9" r="0.75" fill="#5a5a5a"/>
<circle cx="951.0" cy="1270.3" r="0.75" fill="#5a5a5a"/>
<circle cx="995.0" cy="1263.0" r="0.75" fill="#5a5a5a"/>
<circle cx="1001.8" cy="1260.1" r="0.75" fill="#5a5a5a"/>
<circle cx="921.7" cy="1270.9" r="0.75" fill="#5a5a5a"/>
<circle cx="943.1" cy="1276.8" r="0.75" fill="#5a5a5a"/>
<circle cx="966.6" cy="1273.3" r="0.75" fill="#5a5a5a"/>
<circle cx="914.4" cy="1276.8" r="0.75" fill="#5a5a5a"/>
<circle cx="912.9" cy="1283.5" r="0.75" fill="#5a5a5a"/>
<circle cx="916.7" cy="1279.7" r="0.75" fill="#5a5a5a"/>
<circle cx="981.8" cy="1268.9" r="0.75" fill="#5a5a5a"/>
<circle cx="986.2" cy="1271.8" r="0.75" fill="#5a5a5a"/>
<circle cx="990.0" cy="1285.6" r="0.75" fill="#5a5a5a"/>
<circle cx="987.7" cy="1292.3" r="0.75" fill="#5a5a5a"/>
<circle cx="983.3" cy="1282.1" r="0.75" fill="#5a5a5a"/>
<circle cx="958.9" cy="1299.6" r="0.75" fill="#5a5a5a"/>
<circle cx="950.1" cy="1315.8" r="0.75" fill="#5a5a5a"/>
<circle cx="934.9" cy="1324.6" r="0.75" fill="#5a5a5a"/>
<circle cx="934.3" cy="1330.4" r="0.75" fill="#5a5a5a"/>
<circle cx="936.4" cy="1336.3" r="0.75" fill="#5a5a5a"/>
<circle cx="937.2" cy="1342.2" r="0.75" fill="#5a5a5a"/>
<circle cx="936.4" cy="1346.6" r="0.75" fill="#5a5a5a"/>
<circle cx="943.7" cy="1348.6" r="0.75" fill="#5a5a5a"/>
<circle cx="930.5" cy="1333.4" r="0.75" fill="#5a5a5a"/>
<circle cx="923.8" cy="1377.9" r="0.75" fill="#5a5a5a"/>
<circle cx="928.4" cy="1377.4" r="0.75" fill="#5a5a5a"/>
<circle cx="877.7" cy="1275.6" r="0.75" fill="#5a5a5a"/>
<circle cx="889.4" cy="1269.7" r="0.75" fill="#5a5a5a"/>
<circle cx="890.9" cy="1273.3" r="0.75" fill="#5a5a5a"/>
<polygon points="965.7,1283.5 971.6,1277.7 976.0,1274.1 979.5,1275.6 976.0,1280.6 971.6,1284.1" fill="#FECE65"/>
<polyline points="965.7,1283.5 971.6,1277.7 976.0,1274.1 979.5,1275.6 976.0,1280.6 971.6,1284.1 965.7,1283.5" fill="none" stroke="#4d4d4d" stroke-width="1"/>
<polygon points="866.0,1289.4 869.8,1285.6 875.7,1284.4 876.2,1286.2 870.4,1287.3" fill="#FECE65"/>
<polyline points="866.0,1289.4 869.8,1285.6 875.7,1284.4 876.2,1286.2 870.4,1287.3 866.0,1289.4" fill="none" stroke="#4d4d4d" stroke-width="1"/>
<polygon points="161.2,572.0 148.8,571.2 135.0,566.2 126.2,560.0 118.8,561.2 114.5,555.0 115.5,548.8 112.5,540.5 103.8,538.0 100.0,533.8 86.2,532.0 80.8,529.5 82.5,526.2 95.0,525.0 95.0,520.0 90.0,512.5 88.8,501.2 90.0,496.2 85.0,492.5 75.0,490.5 67.5,492.5 63.8,487.5 66.2,482.5 62.5,477.5 58.8,471.2 67.5,468.8 66.2,461.2 68.8,455.0 75.0,452.5 87.5,446.2 88.8,442.5 97.5,443.0 102.5,439.5 106.2,440.5 107.5,448.0 116.2,446.2 125.0,443.8 130.0,440.0 131.2,433.8 136.2,428.8 145.0,429.5 156.2,426.2 162.5,421.2 167.5,420.0 180.0,414.5 190.0,409.5 200.0,406.2 210.0,398.8 208.8,393.8 210.0,385.0 216.2,382.0 213.8,378.0 222.0,373.8 221.2,366.2 217.5,360.0 214.2,350.0 213.8,338.8 211.2,335.0 203.0,331.2 203.8,328.8 215.0,325.0 233.8,321.8 243.8,318.8 247.5,321.8 261.2,322.5 262.5,319.5 256.2,313.8 259.5,305.0 265.0,295.0 270.0,280.0 273.2,271.8 282.5,273.8 290.0,276.2 310.0,276.2 316.2,279.5 331.2,273.8 332.5,266.2 329.5,257.5 329.5,248.8 333.8,241.2 348.8,237.5 353.8,232.5 356.2,226.2 360.0,222.5 380.0,222.0 381.2,226.2 379.5,230.0 386.2,237.5 396.2,240.0 398.8,245.0 406.2,250.0 416.2,251.2 422.5,250.0 430.0,256.2 436.2,258.8 440.0,267.5 445.0,275.0 451.2,280.0 453.0,287.5 449.5,293.8 452.0,301.2 446.2,307.5 444.5,313.8 448.8,322.5 465.0,326.2 485.0,327.5 500.0,327.5 512.5,330.0 526.2,337.5 540.0,346.2 550.0,347.0 550.0,352.5 555.0,356.2 562.5,372.5 572.0,381.2 572.5,385.5 590.0,384.5 612.5,387.5 645.0,388.8 660.0,387.0 675.0,386.2 682.0,389.0 694.0,391.0 702.0,400.0 714.0,400.4 724.0,405.6 738.0,409.0 755.6,407.6 756.0,413.0 765.6,413.6 770.0,411.0 786.0,405.0 802.0,399.0 820.0,393.6 840.0,394.0 866.0,393.0 874.0,389.0 884.0,387.0 893.0,379.0 900.0,371.0 908.0,368.0 916.0,366.0 922.0,360.0 917.0,350.0 909.6,344.0 912.0,338.0 917.0,330.0 921.2,360.0 917.5,352.5 910.0,343.8 913.8,333.8 921.2,325.8 932.5,327.0 942.5,332.5 960.0,333.8 970.0,327.5 982.5,317.5 1000.0,317.5 1010.0,311.2 1018.8,307.5 1022.5,297.5 1032.5,292.5 1043.8,291.2 1047.5,286.2 1062.5,284.5 1075.0,283.8 1080.0,282.5 1086.2,287.0 1100.0,285.5 1100.0,277.5 1092.5,270.0 1085.0,262.5 1072.5,252.5 1060.0,251.2 1052.5,252.5 1043.8,260.0 1030.0,255.0 1017.5,253.8 1010.0,257.5 1003.0,250.0 1008.8,245.0 1008.8,237.5 1017.5,225.0 1028.8,205.0 1040.0,208.8 1052.5,211.2 1065.0,206.2 1077.5,200.0 1086.2,197.5 1087.5,192.5 1083.8,188.8 1091.2,180.0 1097.5,168.8 1105.0,157.5 1115.0,148.8 1120.0,141.2 1117.5,133.8 1103.8,133.8 1105.0,128.8 1120.0,117.5 1137.5,115.0 1152.5,111.2 1170.0,110.5 1182.5,109.5 1195.0,113.8 1212.5,118.8 1227.5,121.2 1235.0,127.5 1241.2,136.2 1246.2,145.0 1252.5,153.8 1257.5,167.5 1265.0,177.5 1270.0,188.8 1275.0,195.0 1271.0,198.0 1275.0,208.0 1282.0,210.0 1298.0,211.0 1308.0,216.0 1314.0,214.4 1322.0,220.0 1332.0,228.0 1342.0,229.4 1339.0,235.0 1345.0,243.0 1342.0,248.0 1349.0,259.0 1360.0,259.0 1372.0,259.0 1381.0,258.0 1386.0,253.0 1395.0,248.0 1406.0,246.0 1420.0,242.0 1432.0,241.0 1441.0,240.0 1442.0,242.0 1433.0,246.0 1430.0,252.0 1434.4,258.0 1429.0,265.0 1422.0,270.0 1420.0,278.0 1417.0,284.0 1415.0,290.0 1410.0,299.0 1406.0,305.0 1407.0,311.0 1398.0,316.0 1397.0,322.0 1393.0,327.0 1384.0,325.0 1374.0,322.0 1368.0,320.0 1362.0,326.0 1352.0,331.0 1350.0,335.0 1354.0,342.0 1356.4,352.0 1354.0,366.0 1356.0,370.0 1353.0,380.0 1346.0,383.0 1338.0,386.0 1342.0,393.0 1336.0,389.0 1332.0,382.0 1325.0,379.0 1322.0,386.0 1316.0,394.0 1309.0,397.0 1304.0,404.0 1296.0,403.0 1284.0,406.0 1286.0,412.0 1289.0,416.0 1285.0,421.0 1274.0,419.0 1264.0,416.0 1257.0,410.0 1250.0,414.0 1248.0,419.0 1240.0,427.0 1232.0,433.0 1222.5,440.0 1210.0,447.5 1200.0,455.0 1195.0,462.5 1182.5,460.0 1170.0,463.8 1157.5,467.5 1152.3,475.5 1143.6,480.7 1134.9,485.0 1128.0,488.5 1127.1,484.1 1133.2,479.8 1140.1,477.2 1130.6,468.5 1134.9,463.3 1145.3,452.9 1152.3,442.5 1150.0,437.5 1138.8,436.2 1126.8,436.8 1120.0,443.2 1107.5,450.0 1097.5,455.0 1090.0,460.0 1082.5,470.0 1078.8,475.0 1072.5,480.7 1067.3,482.4 1062.1,478.9 1056.9,477.2 1053.5,484.1 1050.0,487.6 1050.9,494.5 1056.9,499.7 1062.1,503.2 1070.8,503.2 1076.9,504.9 1082.1,509.3 1086.4,511.9 1082.9,517.1 1078.6,520.5 1081.2,525.7 1089.0,529.2 1095.1,527.5 1100.3,522.3 1108.1,514.5 1115.9,512.7 1123.7,512.7 1130.6,517.1 1136.7,520.5 1145.3,518.8 1154.0,518.8 1163.5,521.4 1160.1,525.7 1161.8,530.1 1157.5,536.1 1150.5,535.3 1143.6,537.9 1134.9,539.6 1128.0,543.1 1121.9,544.8 1118.5,551.7 1110.7,555.2 1106.3,558.7 1102.0,563.9 1095.1,569.1 1090.7,576.0 1084.7,584.7 1090.7,590.7 1100.3,596.8 1108.9,600.3 1112.4,610.7 1117.6,622.8 1121.9,633.2 1124.5,641.9 1133.2,648.8 1138.4,655.7 1143.6,660.9 1147.1,667.9 1145.3,674.8 1147.0,669.0 1145.0,675.0 1132.0,672.0 1130.0,674.0 1138.0,678.0 1148.0,680.0 1146.0,690.0 1136.0,692.0 1128.0,695.0 1127.0,699.0 1134.0,703.0 1142.0,710.0 1146.0,718.0 1148.0,728.0 1147.0,734.0 1142.0,735.0 1140.0,742.0 1138.0,750.0 1134.0,754.0 1128.0,762.0 1126.0,768.0 1118.0,774.0 1113.0,782.0 1108.0,788.0 1104.0,796.0 1098.0,800.0 1096.0,808.0 1094.0,818.0 1098.0,824.0 1092.0,828.0 1086.0,830.0 1080.0,836.0 1074.0,844.0 1068.0,850.0 1060.0,854.0 1056.0,860.0 1050.0,868.0 1044.0,875.0 1038.0,876.0 1038.0,877.0 1034.0,880.0 1026.0,886.0 1016.0,892.0 1008.0,894.0 1004.0,898.0 996.0,894.0 990.0,898.0 982.0,896.0 978.0,904.0 970.0,900.0 965.0,908.0 962.0,898.0 959.0,906.0 952.0,914.0 948.0,913.0 942.0,924.0 936.0,925.0 930.0,921.0 924.0,924.0 918.0,925.0 910.0,928.0 902.0,930.0 894.0,933.0 890.0,938.0 888.0,944.0 890.0,950.0 892.0,956.0 888.0,959.0 878.0,961.0 875.0,958.0 876.0,952.0 872.0,946.0 870.0,940.0 873.0,931.0 872.0,926.0 862.0,930.0 858.0,928.0 850.0,924.0 844.0,925.0 838.0,928.0 830.0,925.0 822.0,925.0 816.0,922.0 810.0,918.0 804.0,916.0 803.0,908.0 801.0,902.0 806.0,894.0 792.0,892.0 782.0,888.0 778.0,882.0 768.0,884.0 760.0,891.0 752.0,894.0 744.0,898.0 740.0,895.0 734.0,900.0 728.0,895.0 722.0,904.0 716.0,900.0 708.0,896.0 706.0,900.0 697.0,902.0 690.0,908.0 688.0,920.0 690.0,916.0 693.0,919.0 694.5,924.0 693.5,930.0 694.5,935.0 692.0,937.5 689.0,936.0 685.0,935.5 680.5,936.0 681.0,931.0 680.0,926.0 678.0,921.5 674.0,924.0 670.0,927.0 665.5,929.5 662.0,928.0 656.5,928.5 655.0,924.0 654.0,920.0 648.0,914.0 636.0,912.0 639.0,900.0 643.0,892.0 640.0,887.0 629.0,886.0 628.0,876.0 624.0,867.0 628.0,862.0 624.0,861.0 612.0,863.0 598.0,867.0 604.0,860.0 600.0,854.0 598.0,846.0 603.0,834.0 611.0,828.0 614.0,822.0 620.0,818.0 624.0,810.0 626.0,800.0 625.0,786.0 624.0,773.0 616.0,772.0 613.0,760.0 614.0,754.0 611.0,758.0 604.0,752.0 598.0,750.0 594.0,763.0 588.0,768.0 580.0,763.0 568.0,757.0 558.0,755.0 550.0,760.0 540.0,767.0 536.7,768.3 523.3,776.7 513.3,786.7 493.3,789.3 476.7,790.0 475.0,776.7 466.7,773.3 463.3,761.7 455.0,765.0 436.7,758.3 423.3,757.3 411.7,770.0 406.7,781.0 403.3,776.7 400.0,761.7 383.3,765.0 366.7,766.7 351.7,761.7 343.3,758.3 340.0,763.3 333.3,751.7 321.7,753.3 316.7,746.7 301.7,740.0 296.7,729.3 288.3,730.7 280.0,721.7 263.3,713.3 250.0,701.7 236.7,700.0 231.7,710.0 216.7,698.3 205.0,695.0 193.3,685.0 183.3,685.0 176.7,675.0 178.3,663.3 171.7,656.7 169.3,646.7 176.7,643.3 181.7,650.0 188.3,643.3 185.0,630.0 178.3,620.0 176.0,607.3 183.3,600.0 178.3,598.3 166.7,591.7 161.7,581.7 161.3,572.0" fill="none" stroke="#4a4a4a" stroke-width="1" class="o"/>
</svg>
<div id="frame"></div>
<div id="title">C-F10056</div>
<div id="lt">相对占比</div>
<div class="sw" style="top:881px;background:#FFFFE5"></div>
<div class="lb" style="top:881px">0.108% - 0.519%</div>
<div class="sw" style="top:923px;background:#FFFACA"></div>
<div class="lb" style="top:923px">0.519% - 0.824%</div>
<div class="sw" style="top:965px;background:#FFF0AE"></div>
<div class="lb" style="top:965px">0.824% - 1.066%</div>
<div class="sw" style="top:1007px;background:#FEE391"></div>
<div class="lb" style="top:1007px">1.066% - 1.357%</div>
<div class="sw" style="top:1049px;background:#FECE65"></div>
<div class="lb" style="top:1049px">1.357% - 1.714%</div>
<div class="sw" style="top:1091px;background:#FEB642"></div>
<div class="lb" style="top:1091px">1.714% - 2.020%</div>
<div class="sw" style="top:1133px;background:#FE9929"></div>
<div class="lb" style="top:1133px">2.020% - 2.326%</div>
<div class="sw" style="top:1175px;background:#F27E1B"></div>
<div class="lb" style="top:1175px">2.326% - 2.687%</div>
<div class="sw" style="top:1217px;background:#E1640E"></div>
<div class="lb" style="top:1217px">2.687% - 3.188%</div>
<div class="sw" style="top:1259px;background:#CC4C02"></div>
<div class="lb" style="top:1259px">3.188% - 3.680%</div>
<div class="sw" style="top:1301px;background:#AA3C03"></div>
<div class="lb" style="top:1301px">3.680% - 4.369%</div>
<div class="sw" style="top:1343px;background:#882F05"></div>
<div class="lb" style="top:1343px">4.369% - 5.607%</div>
<div class="sw" style="top:1385px;background:#662506"></div>
<div class="lb" style="top:1385px">5.607% - 7.246%</div>
<div id="au"><span class="c">作者</span><span class="l">:O1a</span><span class="c">溯源群</span></div>
</body></html>
